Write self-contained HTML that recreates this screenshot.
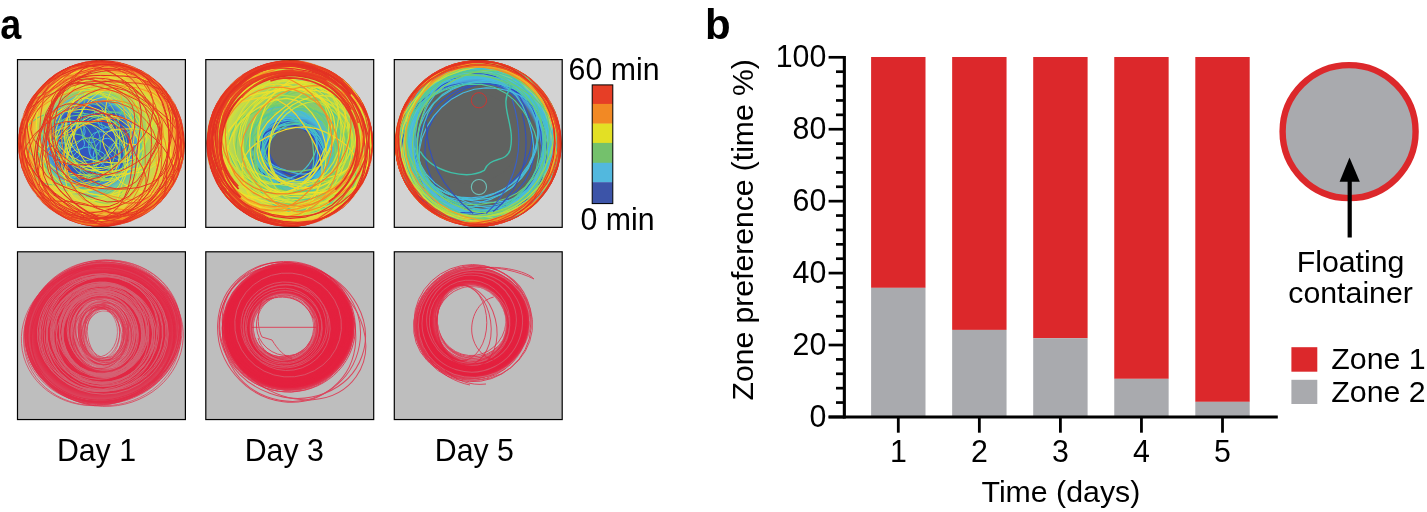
<!DOCTYPE html>
<html lang="en"><head><meta charset="utf-8"><title>Figure</title>
<style>
html,body{margin:0;padding:0;background:#fff;}
body{width:1427px;height:512px;overflow:hidden;}
svg{display:block;will-change:transform;}
svg text{font-family:'Liberation Sans', Arial, Helvetica, sans-serif;fill:#000;}
</style></head><body>
<svg width="1427" height="512" viewBox="0 0 1427 512">
<rect width="1427" height="512" fill="#fff"/>
<text transform="translate(0.3,39) scale(0.9,1)" font-size="42" font-weight="bold">a</text>
<text x="705" y="39" font-size="42" font-weight="bold">b</text>
<rect x="17.5" y="59.6" width="167.9" height="167.75" fill="#D3D3D3"/>
<rect x="17.5" y="251.8" width="167.9" height="167.75" fill="#BEBEBE"/>
<rect x="205.8" y="59.6" width="167.9" height="167.75" fill="#D3D3D3"/>
<rect x="205.8" y="251.8" width="167.9" height="167.75" fill="#BEBEBE"/>
<rect x="394.3" y="59.6" width="167.9" height="167.75" fill="#D3D3D3"/>
<rect x="394.3" y="251.8" width="167.9" height="167.75" fill="#BEBEBE"/>
<clipPath id="hc1"><circle cx="101.45" cy="143.45" r="83.4"/></clipPath>
<g clip-path="url(#hc1)">
<radialGradient id="hg1" gradientUnits="userSpaceOnUse" cx="101.45" cy="143.45" r="83.4"><stop offset="0" stop-color="#88CC70"/><stop offset="0.5" stop-color="#9CD064"/><stop offset="0.66" stop-color="#C4D850"/><stop offset="0.8" stop-color="#E8D03C"/><stop offset="0.9" stop-color="#F0A030"/><stop offset="1" stop-color="#EC6C2A"/></radialGradient>
<circle cx="101.45" cy="143.45" r="83.4" fill="url(#hg1)"/>
<radialGradient id="hg1b" gradientUnits="userSpaceOnUse" cx="90.95" cy="142.95" r="58"><stop offset="0" stop-color="#3254BE"/><stop offset="0.64" stop-color="#3458C0"/><stop offset="0.74" stop-color="#4690D4"/><stop offset="0.84" stop-color="#5CC0C0" stop-opacity="0.85"/><stop offset="1" stop-color="#88CC70" stop-opacity="0"/></radialGradient>
<ellipse cx="90.95" cy="142.95" rx="58" ry="54" fill="url(#hg1b)"/>
<path d="M53.2,160l-0.9,-1.5l-0.5,-1.7l0,-1.7l0.2,-1.7l0.5,-1.6l0.6,-1.5l0.7,-1.4l0.8,-1.3l1,-1.3l1.1,-1.3l1.3,-1.1l1.5,-0.9l1.7,-0.6l1.7,-0.2l1.7 0.3l1.5 0.6l1.3 1l1.1 1.2l0.7 1.4l0.5 1.7l-0.1 1.7l-0.4 1.7l-0.8 1.6l-1 1.3l-1.1 1.2l-1.1 1.1l-1.1 1.1l-1.2 1.1l-1.4 1.1l-1.6 0.8l-1.8 0.5l-1.9 0l-1.6,-0.6z" fill="none" stroke="#46BCDA" stroke-width="1.0" stroke-linejoin="round"/>
<path d="M98.2,138.9l-1.4 0.9l-1.5 1.2l-1.8 1.2l-2.3 0.6l-2.6,-0.5l-2.5,-1.8l-1.8,-2.7l-1,-3.1l-0.1,-3l0.4,-2.5l0.4,-2l-0.1,-1.9l-0.3,-2.1l-0.4,-2.4l0.2,-2.4l0.9,-2l1.6,-1.1l1.8,-0.6l2,-0.3l2.1,-0.1l2.2 0.2l2.3 0.9l2.1 1.8l1.6 2.5l1 2.7l0.6 2.5l0.7 2.3l0.8 2.3l0.5 2.5l0 2.3l-0.8 2l-1.5 1.2l-1.6 0.7z" fill="none" stroke="#41A2E2" stroke-width="1.0" stroke-linejoin="round"/>
<path d="M78.1,157.2l-2 1.1l-2.3 0.6l-2 0.3l-1.8 0.4l-1.7 0.4l-1.7 0.2l-1.9,-0.1l-1.9,-0.5l-1.9,-0.6l-2,-0.7l-2.2,-1l-2.1,-1.3l-1.7,-1.7l-1,-2l-0.2,-2.1l0.4,-1.9l0.6,-1.8l1,-1.6l1.5,-1.3l2,-0.7l2.2,-0.1l2.3 0.5l1.9 0.5l1.7 0.4l1.8 0.2l2 0.2l2 0.6l2.1 0.9l2 1.4l1.8 1.6l1.6 2l0.9 2.2l-0.1 2.1z" fill="none" stroke="#46BFCE" stroke-width="1.0" stroke-linejoin="round"/>
<path d="M99.4,125.6l-0.7,-1.7l-0.4,-1.8l-0.3,-1.8l0.1,-2l0.8,-2l1.5,-1.9l1.7,-1.6l1.5,-1.4l1.4,-1.6l1.4,-1.9l2,-1.9l2.2,-1.2l2.2,-0.3l2 0.6l1.6 0.7l1.7 0.7l1.7 0.7l1.4 1.2l0.6 1.8l-0.4 2.3l-1.1 2.2l-1.3 1.9l-1 1.7l-0.8 1.9l-1.1 1.9l-1.5 1.7l-1.9 1.5l-2 1l-2.1 0.8l-2.2 0.7l-2.2 0.4l-2.1,-0.2l-1.7,-0.9z" fill="none" stroke="#46BCD9" stroke-width="1.0" stroke-linejoin="round"/>
<path d="M123.3,160l-1.4 0.3l-1.5,-0.1l-1.4,-0.3l-1.3,-0.5l-1.4,-0.5l-1.3,-0.6l-1.3,-0.8l-1.4,-0.9l-1.3,-1.3l-1.1,-1.6l-0.8,-1.7l-0.3,-1.8l0.2,-1.7l0.6,-1.5l0.9,-1.1l1,-0.9l1.1,-0.7l1.2,-0.6l1.3,-0.3l1.3,-0.1l1.5 0.2l1.4 0.5l1.4 0.8l1.3 1l1.2 1.3l1 1.4l0.8 1.5l0.7 1.6l0.4 1.7l0.2 1.7l-0.2 1.7l-0.5 1.5l-1 1.1z" fill="none" stroke="#41A5E2" stroke-width="1.0" stroke-linejoin="round"/>
<path d="M48.5,144l0.6,-2.6l1.3,-2.5l1.3,-2.3l0.9,-2.2l1,-2.4l1.6,-2.4l2.5,-2.3l3.2,-1.7l3.4,-1.2l3.4,-0.8l3.3,-0.7l3.5,-0.5l3.3 0l2.9 0.8l2 1.5l1.3 1.9l0.7 2.1l0.4 2.2l-0.2 2.2l-0.8 2.4l-1.4 2.3l-1.8 2.3l-2.1 2.1l-2.4 2.2l-2.8 2l-3.3 1.7l-3.5 0.9l-3.3 0.3l-3.2,-0.1l-3,-0.3l-3,-0.4l-2.9,-0.8l-2.1,-1.5z" fill="none" stroke="#46BDD4" stroke-width="1.0" stroke-linejoin="round"/>
<path d="M83.7,146.9l-1.9 1.6l-2.5 0.8l-2.4 0.5l-2.3 0.7l-2.4 0.9l-2.8 0.6l-3,-0.4l-2.8,-1.7l-1.9,-2.5l-1.3,-2.7l-1,-2.3l-1.2,-2.2l-1.4,-2.2l-1.1,-2.5l-0.2,-2.6l0.7,-2.3l1.5,-1.9l1.8,-1.4l2,-1.3l2.1,-1l2.3,-0.8l2.5,-0.4l2.8 0l2.9 0.4l2.9 1.2l2.4 1.9l1.8 2.4l0.9 2.7l0.3 2.5l0.4 2.3l0.7 2.3l0.8 2.5l0.2 2.6z" fill="none" stroke="#45B6E5" stroke-width="1.0" stroke-linejoin="round"/>
<path d="M72.5,159.4l0,-2l1,-1.9l1.5,-1.7l1.8,-1.6l1.8,-1.6l2.2,-1.6l2.7,-1.3l3.3,-0.6l3.3 0.3l3 0.9l2.6 1.1l2.5 1l2.5 1.1l2.3 1.3l1.5 1.8l0.5 2l-0.4 2.1l-0.7 1.8l-0.5 1.9l-0.8 1.9l-1.2 1.9l-2 1.6l-2.7 1.2l-3 0.7l-3.1 0.5l-3.2 0.3l-3.2,-0.1l-3.1,-0.7l-2.5,-1.4l-1.7,-1.7l-1.3,-1.8l-1.2,-1.7l-1.1,-1.8z" fill="none" stroke="#46C0CC" stroke-width="1.0" stroke-linejoin="round"/>
<path d="M94.1,114.2l-0.9 0.6l-0.8 0.4l-0.9 0.5l-0.9 0.4l-1.1 0.4l-1.3 0l-1.3,-0.4l-1.2,-0.8l-1,-0.9l-0.8,-0.9l-0.9,-0.9l-0.6,-0.9l-0.5,-1l-0.2,-1l0.1,-1l0.2,-0.8l0.3,-0.9l0.3,-0.9l0.5,-0.9l0.8,-0.6l1.1,-0.3l1.3 0l1.3 0.3l1.3 0.4l1.1 0.7l1.1 0.8l0.8 0.9l0.7 0.9l0.5 1l0.6 0.9l0.6 1l0.3 1.1l0 1z" fill="none" stroke="#46B9E6" stroke-width="1.0" stroke-linejoin="round"/>
<path d="M72.3,136.2l-1.5 0.5l-1.6 0.3l-1.5 0.2l-1.5 0.1l-1.5,-0.3l-1.5,-0.7l-1.2,-1l-0.9,-1.2l-0.9,-1.2l-1,-1.2l-1,-1.4l-0.8,-1.7l-0.2,-1.9l0.6,-1.7l1.2,-1.4l1.6,-0.9l1.6,-0.5l1.5,-0.4l1.3,-0.5l1.4,-0.5l1.5,-0.4l1.6 0.1l1.6 0.5l1.4 0.9l1 1.3l0.8 1.4l0.7 1.5l0.5 1.5l0.3 1.6l0.1 1.7l-0.2 1.7l-0.7 1.5l-1.2 1.3z" fill="none" stroke="#3F9DE1" stroke-width="1.0" stroke-linejoin="round"/>
<path d="M95.6,161.6l-2,-1.4l-1.7,-1.7l-1.3,-2.2l-0.7,-2.8l0.1,-3.1l0.5,-3.1l0.7,-2.9l0.6,-2.9l0.8,-3l1.3,-2.9l1.8,-2.6l2.2,-1.8l2.4,-1.2l2.3,-1.1l2.3,-1.1l2.6,-0.9l2.5,-0.1l2.2 1.1l1.6 2l1 2.7l0.6 2.8l0.4 2.9l0 3l-0.7 3.2l-1.4 2.9l-1.7 2.5l-1.6 2.2l-1.5 2.4l-1.6 2.7l-2 2.7l-2.4 2.1l-2.7 0.9l-2.4,-0.2z" fill="none" stroke="#3F9BE1" stroke-width="1.0" stroke-linejoin="round"/>
<path d="M106,179.2l-2.5,-0.3l-2.5,-1.2l-2.2,-1.8l-1.9,-2.5l-1.5,-3l-1.1,-3.2l-0.8,-3.5l-0.3,-3.6l0,-3.7l0.5,-3.7l1,-3.4l1.5,-3.1l1.8,-2.8l2,-2.2l2.3,-1.6l2.5,-1l2.6,-0.3l2.5 0.6l2.3 1.3l2.2 1.8l1.9 2.2l1.7 2.7l1.4 3.1l0.9 3.5l0.3 3.8l-0.2 3.7l-0.8 3.6l-1.2 3.3l-1.4 3l-1.8 2.7l-1.9 2.3l-2.3 1.8l-2.4 1.1z" fill="none" stroke="#46B7E6" stroke-width="1.0" stroke-linejoin="round"/>
<path d="M131.2,148.4l-1.9 3.3l-2.7 2.6l-2.5 2.2l-1.7 2.6l-1.5 3.3l-2.2 3.5l-3.4 2.5l-4.3 0.5l-4.2,-1.4l-3.4,-2.5l-2.8,-2.2l-2.9,-1.8l-3.2,-1.7l-2.9,-2.3l-1.9,-3.1l-0.8,-3.4l-0.2,-3.5l0.1,-3.6l0.4,-3.7l1.5,-3.5l2.8,-2.8l3.9,-1.4l4.1,-0.3l3.7 0.1l3.3,-0.3l3.4,-0.8l3.8,-0.6l4.1 0.4l3.6 1.6l3 2.5l2.4 3.1l1.9 3.3l1 3.7z" fill="none" stroke="#46C0C9" stroke-width="1.0" stroke-linejoin="round"/>
<path d="M65.3,171.7l-0.5,-1.4l0,-1.5l0.5,-1.4l1,-1.2l1,-1l0.9,-1l1.1,-1l1.3,-0.7l1.5,-0.2l1.4 0.2l1.3 0.4l1.3 0.6l1.3 0.5l1.3 0.6l1.1 1.1l0.7 1.3l0.2 1.5l-0.2 1.4l-0.2 1.4l-0.3 1.4l-0.3 1.4l-0.8 1.2l-1.1 1l-1.3 0.7l-1.4 0.4l-1.3 0.3l-1.5 0.2l-1.4,-0.1l-1.4,-0.5l-1.1,-0.9l-0.9,-1.2l-0.7,-1.1l-0.8,-1.2z" fill="none" stroke="#46BBDF" stroke-width="1.0" stroke-linejoin="round"/>
<path d="M54.7,141.5l-1 0l-1,-0.4l-0.8,-0.7l-0.8,-1l-0.8,-1.1l-0.6,-1.2l-0.5,-1.5l-0.1,-1.7l0.1,-1.6l0.4,-1.5l0.5,-1.3l0.5,-1.2l0.7,-1.1l0.7,-0.9l0.8,-0.7l0.8,-0.4l0.9,-0.2l1,-0.2l1 0.1l1 0.4l0.9 0.9l0.7 1.3l0.4 1.5l0.2 1.6l0.1 1.6l-0.1 1.6l-0.1 1.5l-0.4 1.4l-0.6 1.2l-0.6 1l-0.8 0.9l-0.7 0.7l-0.9 0.7z" fill="none" stroke="#3E95E0" stroke-width="1.0" stroke-linejoin="round"/>
<path d="M56.6,150.6l-0.9 0.4l-1 0.1l-1.1,-0.4l-1.1,-0.5l-1.1,-0.7l-1.1,-0.8l-1,-1l-1,-1.3l-0.7,-1.5l-0.4,-1.5l-0.1,-1.5l0,-1.3l0.2,-1.3l0.3,-1.1l0.5,-0.9l0.6,-0.7l0.8,-0.4l0.9,-0.3l0.9,-0.3l1,-0.1l1.1 0.3l1.2 0.6l1.1 1.1l0.9 1.3l0.8 1.4l0.7 1.4l0.5 1.5l0.3 1.4l0 1.4l-0.3 1.2l-0.4 1l-0.4 0.9l-0.6 0.9z" fill="none" stroke="#46BDD5" stroke-width="1.0" stroke-linejoin="round"/>
<path d="M100.1,148.5l-0.8 3.2l-1.6 3l-2.4 2.5l-3.2 1.9l-3.7 1.2l-3.9 0.6l-3.9 0.1l-4.1,-0.1l-4.2,-0.4l-4.4,-0.9l-4.4,-1.6l-3.8,-2.6l-2.8,-3.5l-1.3,-3.9l0,-3.8l0.8,-3.5l1.5,-3.2l1.7,-2.8l2.2,-2.4l2.5,-2.1l2.9,-1.8l3.1,-1.5l3.4,-1.5l3.8,-1.3l4.3,-0.8l4.8 0.1l4.7 1.4l3.9 2.7l2.7 3.5l1.5 3.8l0.7 3.7l0.2 3.4l0 3.3z" fill="none" stroke="#4BC9A2" stroke-width="1.0" stroke-linejoin="round"/>
<path d="M105.1,176.3l-6.8 0.8l-6.8,-0.1l-7,-1.5l-6.8,-3.6l-5.6,-6.3l-3.7,-8.3l-1.7,-8.5l-0.8,-7.4l-1.1,-6.5l-1.8,-6.3l-1.8,-6.8l-0.7,-7.3l0.8,-7.3l1.9,-6.9l2.8,-7l3.9,-6.8l5.3,-5.6l6.9,-2.5l7.6 1.6l7 5.2l5.7 7l4.5 6.9l4 6.2l3.8 6.1l2.9 6.5l1.7 7l0.3 6.9l0 6.7l0.2 6.9l0.2 7.7l-0.8 8.2l-2.9 7.3l-5 5.1z" fill="none" stroke="#96D455" stroke-width="1.0" stroke-linejoin="round"/>
<path d="M74,189.1l-6.3,-1.2l-6,-2.6l-5.5,-4.4l-4.4,-6l-3.2,-7.2l-2.1,-8l-1.1,-8.4l0.3,-8.7l1.5,-8.6l3,-8.1l4,-7.1l4.8,-6.3l5.2,-5.4l5.8,-4.4l6.2,-3.3l6.6,-1.6l6.5 0.2l6.3 1.9l5.8 3.4l5.3 4.5l4.5 5.8l3.5 7l2.1 8l0.5 8.6l-0.7 8.5l-1.6 8.4l-2.4 8.1l-3.2 7.8l-4.4 7l-5.5 5.6l-6.2 3.8l-6.5 2.1l-6.4 0.8z" fill="none" stroke="#7ECF61" stroke-width="1.0" stroke-linejoin="round"/>
<path d="M36.8,178.1l-2,-4.2l-0.4,-4.8l1.2,-5.1l2.4,-4.9l3.2,-4.5l3.7,-4.2l3.9,-4l4.4,-3.7l4.9,-3.4l5.5,-2.8l5.9,-1.9l5.9,-0.5l5.4 0.9l4.4 2.1l3.4 2.9l2.6 3.4l2 3.6l1.8 3.6l1.4 4l0.9 4.4l-0.2 4.9l-1.6 5.2l-3.4 5.1l-4.7 4.3l-5.7 3.2l-5.9 2.1l-5.8 1l-5.4 0.4l-5 0l-5,-0.2l-5,-0.5l-4.9,-1.1l-4.4,-2.1z" fill="none" stroke="#6DCC73" stroke-width="1.0" stroke-linejoin="round"/>
<path d="M118.1,162.6l-4.6 1.1l-4.9,-1.1l-4.7,-3l-4.2,-4.2l-3.6,-4.2l-3.5,-3.8l-3.9,-3.8l-3.7,-4.6l-2.9,-5.6l-1.4,-6.3l0.1,-5.9l0.8,-5.6l1,-5.3l1,-5.6l1.7,-5.6l3.1,-4.4l4.3,-2.1l5.1 0.5l5 2.4l4.5 3.1l4.1 3.1l4 3l3.9 3.5l3.6 4.3l3.1 5.1l2.3 5.7l1.7 6l0.8 6.1l-0.1 6l-1.1 5.6l-1.9 4.9l-2.6 4.3l-3.2 3.7z" fill="none" stroke="#73CC6B" stroke-width="1.0" stroke-linejoin="round"/>
<path d="M113.1,190.2l-6 3.2l-6.5 2l-6.8 0.8l-6.7,-0.5l-6.5,-2l-5.8,-3.4l-4.9,-4.4l-3.9,-5.2l-3.2,-5.4l-2.3,-5.8l-1.6,-6l-0.5,-6.2l0.6,-6.2l1.5,-6.1l2.4,-6l3.3,-5.7l4.5,-5.2l5.7,-3.9l6.7,-2.3l6.9,-0.3l6.8 1.2l6.3 2.4l5.8 3.2l5.1 4l4.2 5l3 5.6l1.9 5.9l1 6l0.6 6.1l0.2 6.2l-0.7 6.5l-2.2 6.4l-3.7 5.6z" fill="none" stroke="#52C999" stroke-width="1.0" stroke-linejoin="round"/>
<path d="M143.6,147.3l-1 5.8l-2.8 5.2l-4.4 4.3l-5.1 3.3l-4.9 3.2l-4.9 3.5l-5.7 3.5l-6.7 2.3l-7.4 0.3l-7,-2l-6.2,-3.4l-5.6,-3.8l-5.4,-4.1l-5.2,-4.7l-3.8,-5.6l-1.4,-6.3l1.3,-6.3l3.3,-5.6l4,-4.7l4.1,-4.2l4.2,-3.8l4.6,-3.5l5.3,-2.9l5.9,-2.4l6.4,-1.8l7.1,-1.3l7.7,-0.2l7.6 1.7l6.4 4l4.5 5.5l2.5 6.3l1.4 6.1l0.9 5.8z" fill="none" stroke="#61CB85" stroke-width="1.0" stroke-linejoin="round"/>
<path d="M38,152.9l0,-7.2l3.1,-6.8l5.1,-5.9l5.7,-5l5.8,-4.7l6.4,-4.3l7.4,-3l8.1,-1l8 0.8l7.4 1.8l7.4 1.6l7.8 1.6l8.2 2.5l7.1 4.5l4.4 6.3l1.5 7.3l-0.6 7.2l-1.3 6.8l-1.7 6.7l-2.9 6.5l-5 5.6l-6.8 4.1l-7.6 2.6l-7.4 1.9l-7.3 2l-7.8 2.1l-8.6 0.8l-8.3,-1.5l-7.1,-4l-5.3,-5.3l-4.4,-5.7l-4.3,-5.5l-4.2,-6z" fill="none" stroke="#64CB81" stroke-width="1.0" stroke-linejoin="round"/>
<path d="M127,145.3l-1.2 6.5l-3 6.2l-4.8 5.5l-6.4 4.6l-7.4 3.6l-8.1 2.6l-8.4 1.7l-8.8 0.9l-8.8,-0.3l-8.6,-1.6l-7.9,-2.9l-6.8,-3.8l-5.9,-4.4l-5.3,-4.8l-4.7,-5.2l-4,-5.8l-2.4,-6.4l-0.2,-6.8l2.2,-6.5l4.7,-6l6.7,-4.8l8.1,-3.4l8.9,-2l9,-0.7l8.7 0.4l8.3 1l8 1.3l8 1.7l8 2.5l7.6 3.5l6.4 4.8l4.6 5.7l2.7 6.3z" fill="none" stroke="#5FCB87" stroke-width="1.0" stroke-linejoin="round"/>
<path d="M53.5,134.9l-0.4,-5.7l-0.2,-5.6l0.4,-6l1.6,-6.3l3.4,-6.1l5.4,-5.4l6.8,-4.3l7.6,-3.1l7.9,-2.2l8.1,-1l7.9 0.4l7.2 2.1l6.1 3.3l5.3 3.7l5.3 3.8l5.5 4.3l4.4 5.2l1.7 6.5l-2.3 6.8l-5.6 6l-6.7 4.5l-5.6 3.8l-4 4.6l-3.7 5.9l-5.2 6.4l-7.5 5.2l-8.9 2.4l-8.8,-0.7l-7.6,-3.1l-6.1,-4.4l-4.8,-4.8l-3.6,-5.2l-2.4,-5.4z" fill="none" stroke="#8DD259" stroke-width="1.0" stroke-linejoin="round"/>
<path d="M98.6,195.7l-6.4 1.5l-6.7,-0.7l-6.6,-2.7l-6.1,-4.4l-5.4,-5.8l-4.6,-6.9l-3.6,-7.6l-2.5,-8.2l-1.2,-8.4l0.1,-8.3l1.4,-7.9l2.5,-7l3.4,-6.3l3.9,-5.5l4.3,-4.9l5,-4.3l5.8,-3.3l6.3,-1.5l6.8 0.6l6.6 2.8l6 4.6l5.3 5.9l4.6 6.8l3.7 7.5l2.7 8.1l1.4 8.5l-0.2 8.3l-1.6 7.9l-2.7 6.9l-3.4 6.2l-3.8 5.5l-4.3 5.1l-5 4.4z" fill="none" stroke="#5CCA8C" stroke-width="1.0" stroke-linejoin="round"/>
<path d="M116.2,200.2l-5.5 2.5l-6.1 0.5l-6,-1l-5.6,-1.7l-5.3,-1.9l-5,-2.6l-4.4,-3.4l-3.7,-4.3l-3.1,-4.6l-3.1,-4.8l-3.2,-5.2l-2.9,-5.9l-1.5,-6.5l0.9,-6.4l3.3,-5.3l4.6,-3.7l5,-2.9l4.9,-2.4l5.1,-2.1l5.6,-0.8l5.8 1l5.3 2.7l4.7 3.7l4.2 3.7l4.2 3.5l4.4 4l3.8 4.8l2.3 5.7l0.7 6l-0.5 5.8l-1 5.8l-1.5 5.7l-2.4 5.6z" fill="none" stroke="#8ED259" stroke-width="1.0" stroke-linejoin="round"/>
<path d="M65.6,142.6l3,-5l3.8,-4.3l3.4,-4l2.9,-4.2l3.4,-4.6l4.7,-4.4l6.5,-3.2l7.5,-1.6l7.9 0.1l7.6 1.1l7.3 2l6.8 2.8l5.7 3.9l4 4.8l1.9 5.4l0.2 5.4l-0.6 5.1l-1 4.9l-1.4 4.8l-2.2 4.7l-3.5 4.5l-4.7 4l-5.7 3.3l-6.6 2.6l-7.4 1.6l-7.7 0.3l-7.5,-1l-7,-2.3l-6.3,-3.1l-5.7,-3.5l-5,-4.2l-3.8,-4.9l-1.6,-5.5z" fill="none" stroke="#59CA8F" stroke-width="1.0" stroke-linejoin="round"/>
<path d="M84.1,177.4l-5.5 1.6l-5.6 0.3l-5.4,-0.7l-5.1,-1.4l-4.7,-2.1l-4.4,-2.7l-4.1,-3.1l-3.7,-3.7l-3.3,-4.3l-2.5,-5l-1.4,-5.4l-0.2,-5.6l1.1,-5.6l2.3,-5.1l3.2,-4.4l4.1,-3.7l4.5,-3l4.9,-2l5.2,-1.3l5.4,-0.4l5.4 0.7l5.2 1.7l4.7 2.9l3.9 3.9l2.9 4.6l2.1 4.8l1.5 5l1.2 5l0.7 5.3l0.1 5.6l-1.1 5.6l-2.5 5.2l-3.9 4.3z" fill="none" stroke="#62CB83" stroke-width="1.0" stroke-linejoin="round"/>
<path d="M141.4,140.5l2.2 8.7l-2 8.5l-6.7 6.9l-9.6 5l-10.1 3.7l-10 3.7l-10.7 3.8l-12.1 2.6l-13,-0.4l-12.1,-4.2l-9.3,-7.1l-6.4,-8l-4.9,-7.5l-4.6,-6.9l-4.9,-6.8l-4.2,-7.4l-2.4,-8l-0.1,-8.2l2.5,-8.2l5.1,-7.6l7.6,-6.4l9.9,-4.7l11.2,-2.8l11.8,-1.3l11.9,-0.2l12.1 0.6l12.1 2.1l11.2 4.4l8.4 6.9l5 8.3l2.4 8.1l2.1 7.4l3.4 7.1z" fill="none" stroke="#BADD43" stroke-width="1.0" stroke-linejoin="round"/>
<path d="M134.2,163.5l-3.9 4.8l-4.8 3.9l-6 2.7l-7.1 0.7l-7.6,-1.3l-7.3,-3l-6.4,-3.8l-5.9,-3.6l-5.9,-3.3l-6.5,-3.4l-6.7,-4.3l-6.1,-5.7l-4.4,-6.7l-2,-7l0.1,-6.9l1.8,-6.1l3,-5.5l4.3,-4.6l5.5,-3.4l6.6,-1.7l7.2 0l7.2 1.3l6.9 2.3l6.5 2.5l6.3 2.8l6.4 3.1l6.6 3.8l6.3 4.9l5.3 5.9l3.8 6.7l1.8 6.9l-0.3 6.7l-1.8 6z" fill="none" stroke="#EFE12A" stroke-width="1.0" stroke-linejoin="round"/>
<path d="M142.8,134.6l-1.7 6.3l-3 5.9l-4.3 5.5l-5.5 5.1l-6.9 4.5l-8.3 3.4l-9.5 2.1l-10.3 0.3l-10.2,-1.5l-9.5,-3.3l-8.2,-4.6l-6.5,-5.5l-4.9,-5.9l-3.6,-6l-2.7,-6l-2.1,-6.1l-1.2,-6.3l-0.1,-6.5l1.6,-6.6l3.6,-6.2l5.9,-5.4l7.9,-4.1l9.2,-2.5l10,-0.8l10 0.6l9.7 2l9 2.9l8.3 3.8l7.3 4.6l6.3 5.2l4.9 5.9l3.3 6.3l1.6 6.5z" fill="none" stroke="#CCE13A" stroke-width="1.0" stroke-linejoin="round"/>
<path d="M141.7,159.4l-1.8 7.6l-2.3 7.9l-3.5 7.9l-5.6 6.9l-7.7 4.7l-8.9 1.8l-9,-0.4l-8.4,-1.5l-8.2,-1.4l-8.6,-1.3l-9.4,-2l-9.5,-3.7l-8.3,-6.3l-5.8,-8.7l-1.9,-10.1l2.3,-10l5.8,-8.5l7.6,-6.2l7.5,-4.3l5.7,-4l4,-5.4l3.8,-7.3l5.5,-8.2l8.1,-6.8l10.1,-3.2l10.4 1.3l9.3 5l7.4 7.1l5.7 7.9l4.3 8.2l2.7 8.4l0.9 8.5l-0.6 8.3z" fill="none" stroke="#E7E12E" stroke-width="1.0" stroke-linejoin="round"/>
<path d="M185.1,152.3l-4.9 8.4l-5.1 7.9l-5.2 8.1l-7 7.7l-10 5.7l-12.4 2.3l-13,-0.7l-12.3,-2l-11.9,-1.8l-12.5,-1.8l-12.7,-3.5l-11,-6.4l-7.4,-8.7l-4,-9.6l-2.5,-9.4l-2.6,-9.2l-2.3,-9.7l0.4,-9.9l5.2,-8.8l9.4,-6.3l11.2,-4l10.9,-3.2l10.2,-3.8l11.1,-3.9l12.6,-2l13.3 1.6l11.9 5.1l9.9 7.1l8.8 7.3l8.7 7.1l8.4 7.9l6 9.2l1.6 9.9z" fill="none" stroke="#D3E137" stroke-width="1.0" stroke-linejoin="round"/>
<path d="M85.3,174.6l-5.8,-5.6l-4.1,-6.9l-3,-7.2l-2.7,-7l-2.6,-7.3l-1.7,-8l0.4,-8.4l2.8,-8.1l4.8,-7.1l5.9,-6l6.5,-5.1l7.1,-4l7.6,-2.6l7.8,-0.7l7.6 1l7.4 1.7l7.4 2l7.7 2.8l7.1 4.6l5 6.9l1.8 8.7l-1.2 8.9l-2.8 8l-2.5 7.3l-1.9 7.3l-2.2 7.8l-3.7 7.6l-5.8 6.3l-7.4 4.1l-7.9 2.3l-8.1 1.2l-8.1 0.2l-8,-1.3z" fill="none" stroke="#BBDE42" stroke-width="1.0" stroke-linejoin="round"/>
<path d="M134.5,199.8l-8.5 3.3l-9 2l-9.7 0.4l-10.1,-2l-9.6,-4.8l-8.5,-7.6l-6.9,-9.1l-5.6,-9.9l-4.9,-10.2l-3.9,-10.9l-2.2,-11.4l0.6,-11.3l3.6,-10.1l5.7,-8.3l6.8,-6.7l7,-5.9l7.6,-5.2l8.4,-3.7l9.4,-1.3l9.6 1.5l9.4 3.8l8.9 5l8.8 5.8l8.8 6.9l7.9 8.8l5.7 10.7l2.7 11.8l-0.4 11.7l-2.6 10.6l-3.8 9.5l-4.8 8.5l-5.8 7.5l-6.8 6z" fill="none" stroke="#E3E130" stroke-width="1.0" stroke-linejoin="round"/>
<path d="M110.2,167.5l-8.5 1.9l-8.6 0.7l-8.6,-0.5l-8.5,-2.4l-7.7,-4.7l-6.4,-6.2l-5.7,-6.7l-6,-6.7l-6.4,-7.5l-5.6,-9l-2.5,-10.4l2.2,-10.1l6.3,-8.1l8.3,-5.3l8,-3.5l6.7,-3.4l6,-4.1l6.5,-4.3l7.6,-3.3l8.5,-1.7l9.1 0.1l9.5 2l9.2 4.5l7.5 7.2l4.5 9.7l0.8 10.5l-1.7 9.8l-2.2 8.5l-1.4 8l-0.8 8.4l-1.6 8.9l-4 8.1l-6.5 6z" fill="none" stroke="#BEDF41" stroke-width="1.0" stroke-linejoin="round"/>
<path d="M64.4,139.1l-0.2,-8l1.4,-7.9l2.9,-7.9l4.7,-7.3l6.5,-6.5l7.8,-5.4l8.9,-4.1l9.3,-3l9.7,-2.1l10.1,-1.2l10.3 0.1l10 2.1l8.6 4.3l6.2 6.5l3.5 7.6l1.7 7.7l1.2 7.3l1.5 7.3l1.4 7.9l-0.3 8.6l-3.5 8.4l-7 7.1l-9.4 4.8l-10.3 2.7l-9.9 1.3l-9.5 1l-9.4 0.9l-9.8 0.2l-9.9,-1.3l-9.1,-3.4l-7.4,-5.4l-5.2,-6.8l-3.3,-7.6z" fill="none" stroke="#E0E131" stroke-width="1.0" stroke-linejoin="round"/>
<path d="M171.3,175.9l-1.3 4.9l-1.9 5.1l-3.7 4.5l-5.7 2.9l-7.2 0.6l-7.6,-1.4l-7.3,-2.4l-6.9,-3l-6.5,-3.5l-5.6,-4.6l-3.9,-5.4l-2,-5.7l-0.8,-5.1l-1.3,-4.8l-2.5,-5l-2.9,-5.9l-1.6,-6.4l1.5,-5.7l4.7,-3.8l6.5,-1.8l6.9,-0.4l6.7,-0.1l6.6 0l7 0.8l7 2.2l6.5 3.7l5.4 4.8l4.4 5.1l3.6 5.2l2.6 5.4l1.5 5.3l0 5.1l-1 4.7z" fill="none" stroke="#F5E028" stroke-width="1.0" stroke-linejoin="round"/>
<path d="M127.8,185.6l-7.6 5.8l-9.2 3.5l-10.2 0.9l-10.6,-2l-10.3,-4.7l-9.4,-6.6l-8.5,-7.4l-8.3,-7.6l-8.3,-8.1l-8.1,-9.6l-6.3,-11.2l-2.9,-12.1l1.3,-11.4l4.8,-9.5l6.9,-7.1l7.6,-5.2l7.5,-4.1l7.3,-3.7l7.5,-3.6l8.2,-3.4l9.5,-2.6l10.9,-0.7l11.8 2.4l11.4 6.3l9.1 10l5.7 12.2l2.2 12.5l0.1 11.3l-0.6 10.1l-0.3 9.5l-0.4 9.7l-1.6 9.6l-3.5 9.1z" fill="none" stroke="#EBE12C" stroke-width="1.0" stroke-linejoin="round"/>
<path d="M47.2,158.8l-1.7,-6.3l-0.4,-6.8l2.2,-6.5l4.7,-5.2l6,-3.7l6.3,-2.8l6.2,-2.3l6.5,-1.9l6.9,-0.5l6.7 1.3l6.2 2.8l5.4 3.7l5 4l4.8 4.5l4 5.3l2.5 6.2l0.6 6.6l-1.1 6.5l-2 6.2l-2.7 6l-3.7 5.5l-5.1 4.4l-6.3 2.8l-6.7 1.1l-6.4 0.6l-6.4 0.8l-6.9 1l-7.5,-0.1l-7.1,-2.6l-5,-5.3l-2.3,-6.8l-0.6,-6.8l-0.6,-6z" fill="none" stroke="#DFE132" stroke-width="1.0" stroke-linejoin="round"/>
<path d="M38.2,137.7l-1.7,-10l0,-10.5l2.4,-10.6l4.8,-10l7.1,-8.9l8.9,-7.6l10.2,-5.9l11.4,-3.9l12,-1.3l11.7 1.5l10.8 4.1l9.3 6.1l7.8 7.1l6.8 7.6l6.4 7.7l6.4 8.3l5.8 9.6l3.6 11.1l-0.1 11.7l-4.6 11l-8.5 8.8l-10.4 6.2l-10.5 4.3l-9.8 3.9l-9.6 4.5l-10.5 4.6l-11.8 3l-12.4,-0.4l-11.3,-4.6l-8.8,-8.1l-6,-9.7l-3.9,-10.1l-3,-9.8zM131.9,145l-4.8,-1.1l-4.4,-2.6l-3.8,-3.3l-3.5,-3.6l-3.2,-4l-2.9,-4.5l-2.2,-5.3l-1.3,-5.7l-0.2,-5.9l0.9,-5.8l1.6,-5.4l2.2,-5l2.7,-4.6l3.1,-4.2l3.6,-3.7l4.3,-2.7l4.7,-1.2l4.9 0.7l4.4 2.4l3.9 3.7l3.2 4.2l2.9 4.2l2.8 4.5l2.5 4.9l1.6 5.7l0.4 6l-0.9 5.8l-1.9 5.3l-2.3 4.9l-2.6 4.6l-3 4.5l-3.6 3.9l-4.3 2.6z" fill="none" stroke="#EFE12B" stroke-width="1.0" stroke-linejoin="round"/>
<path d="M142.4,149.5l-4.5 5.5l-6 4.2l-6.8 2.5l-7.1 1l-7.1 0l-7,-0.6l-7.1,-1l-7.3,-1.9l-7.1,-3.1l-6.4,-4.9l-4.9,-6.3l-2.9,-7.3l-1.3,-7.5l-0.1,-7.4l0.8,-7.2l2,-6.9l3.6,-6.2l5,-5l6.2,-3.4l6.7,-2.1l6.6,-1.5l6.7,-1.2l7.1,-0.8l7.6 0.1l7.8 2l7 4l5.5 5.9l3.9 6.9l2.3 7.3l1.3 7.2l0.4 7.1l-0.4 7.1l-1.5 7zM85.2,199l-4.9,-2.8l-4.2,-4.1l-3.4,-5l-2.5,-5.7l-1.9,-6.1l-1.3,-6.6l-0.4,-7l0.3,-7.4l1.3,-7.6l2.2,-7.6l3.3,-7.4l4.5,-6.6l5.5,-5.1l6,-3.3l6.2,-1.1l5.9 0.6l5.4 1.9l4.8 2.8l4.3 3.7l3.6 4.8l2.6 5.7l1.6 6.4l0.9 6.7l0.4 6.9l-0.1 7.3l-0.7 7.7l-2 7.9l-3.4 7.5l-4.8 6.3l-5.7 4.6l-6.1 2.8l-6.1 1.3l-5.8 0z" fill="none" stroke="#E5E12F" stroke-width="1.0" stroke-linejoin="round"/>
<path d="M30.1,169.8l-2.8,-9.1l-2,-9.1l-1,-9.5l0.8,-9.7l3.3,-9.4l5.3,-8.7l6.7,-7.8l7.6,-7l8.6,-6.3l9.8,-4.5l10.6,-1.9l10.3 1.1l9.5 3.4l8.4 4.4l8.1 4.7l7.8 5.4l6.9 6.9l4.6 8.5l1.8 9.7l-0.7 9.9l-2.1 9.6l-3 9.5l-4.3 9.3l-6.2 8.4l-8.4 6.6l-9.7 4.2l-10 2.3l-9.9 1.4l-9.9 1.1l-10.4 0.1l-10.1,-2.1l-8.8,-5.1l-6.5,-7.5z" fill="none" stroke="#EAE12D" stroke-width="1.0" stroke-linejoin="round"/>
<path d="M64.9,178.1l-2.7,-5.3l-0.3,-6.3l1.1,-6.5l1.4,-6.2l1.4,-6.3l2,-6.8l3.7,-6.8l5.8,-5.9l7.2,-4.2l7.5,-2.7l7.2,-1.9l7.1,-1.7l7.2,-1.1l7 0.4l5.8 2.5l4.2 4.2l2.9 5l2.3 5l2.2 5.3l1.3 5.8l-0.3 6.5l-2.5 6.7l-4.2 6.3l-5 5.9l-5.4 5.6l-6 5.3l-6.9 4.4l-7.5 2.7l-7.4 0.5l-6.7,-1l-6,-1.6l-5.9,-1.8l-5.8,-2.3z" fill="none" stroke="#F5D527" stroke-width="1.0" stroke-linejoin="round"/>
<path d="M138.3,139.8l-1.8 7l-2.1 6.9l-2.1 7.3l-3.3 7.6l-5.7 6.8l-8.5 4.3l-9.9 1.1l-9.7,-1.3l-8.8,-1.8l-8.4,-1.5l-8.8,-1.3l-8.9,-2.6l-7.7,-4.7l-5.2,-6.6l-2.7,-7.6l-0.8,-7.6l0.1,-7.4l1.2,-7.2l2.6,-6.8l4.3,-6.2l5.2,-5.6l5.9,-5.4l6.4,-5.5l7.9,-5.1l9.4,-3.2l10.1 0l9.4 3.4l7.6 5.5l6.1 5.9l5.7 5.5l5.5 5.5l4.7 6.2l2.5 7z" fill="none" stroke="#C8E13C" stroke-width="1.0" stroke-linejoin="round"/>
<path d="M60.9,169.6l-5.4,-5.6l-2.8,-7.6l0.2,-8.9l2.7,-9.2l4.3,-8.8l5,-8.3l5.2,-8l5.6,-8l6.8,-8l8.3,-7.1l9.4,-5.1l9.6,-2.3l8.8 0.3l7.7 2.1l6.9 2.6l6.7 2.8l6.5 3.5l5.7 4.8l3.7 6.7l0.9 8.2l-1.6 9l-3.4 9l-4.4 8.7l-5.2 8.6l-6.4 8.2l-7.8 7.4l-9 5.5l-9.3 3.3l-9 1.4l-8.3 0.3l-8,-0.2l-8.1,-0.5l-8,-1.5z" fill="none" stroke="#CBE13B" stroke-width="1.0" stroke-linejoin="round"/>
<path d="M102.5,206.3l-9.5,-0.9l-10.1,-2.4l-9.3,-5.5l-6.5,-9.3l-2.5,-12.1l1.2,-12.7l3.3,-11.7l3.5,-10.6l2.8,-10.4l3.1,-10.8l4.5,-11l7,-9.5l9.1,-6.8l10,-3.6l10,-1.3l9.9 0l9.7 1.1l9.5 2.9l8.6 5.4l6.6 8.2l4.2 10.2l2.1 11.1l0.7 10.9l0 10.9l-0.4 11.1l-1.6 11.7l-3.5 11.7l-6 10.8l-8.4 8.4l-9.9 5.2l-10.3 1.8l-9.8,-0.5l-9,-1.3z" fill="none" stroke="#F1E12A" stroke-width="1.0" stroke-linejoin="round"/>
<path d="M115.2,146.4l-2.5 3.7l-3.1 3.3l-2.9 3.4l-3.3 3.7l-4.5 3.5l-6 2.2l-7.2 0.3l-7.4,-1.4l-7,-2.5l-6.6,-3l-6.1,-3.5l-5,-4.4l-3,-5l-0.8,-5.2l0.7,-4.6l0.8,-4.2l0,-4.1l-0.2,-4.6l1,-4.6l3.1,-3.9l5,-2.6l6,-1.4l6.2,-1l6.5,-0.9l7.2,-0.3l7.6 1.2l6.9 3.1l5.3 4.6l3.6 5.2l2.5 4.9l2.1 4.7l1.7 4.5l0.6 4.6z" fill="none" stroke="#D1E138" stroke-width="1.0" stroke-linejoin="round"/>
<path d="M98.2,221.3l-9,-3.3l-7.9,-5.4l-7.2,-4.4l-7.5,-2.7l-8.4,-3.1l-8.1,-6.1l-5.9,-9.5l-2.9,-11.3l-0.9,-11.3l-0.2,-10.6l-0.2,-10.6l0.9,-10.5l3.2,-9.2l5.7,-6.7l6.7,-4.3l6.6,-3.7l6.5,-4.4l7.1,-4.5l8.4,-1.9l8.7 2.7l7.7 7.3l5.9 9.4l5.1 9.1l5.3 8.6l5.4 9.1l3.9 10.5l0.8 11l-2.3 10.1l-3.5 8.7l-3 8.6l-2.6 9.6l-3.7 9.8l-6.2 7.1z" fill="none" stroke="#F5DD28" stroke-width="1.0" stroke-linejoin="round"/>
<path d="M156.3,164.1l-8 5.3l-9 3l-9.3 1.3l-9.1 0.4l-9.2,-0.1l-9.5,-1.4l-8.9,-3.7l-7.5,-6.2l-5.4,-8.1l-3.6,-8.7l-2.8,-8.7l-2.6,-8.9l-1.7,-9.5l0.5,-9.8l3.5,-9.2l6.2,-7.6l7.7,-5.8l8.2,-4.3l8.4,-3.7l8.6,-2.8l9.2,-1.5l9.3 0.6l9.1 2.7l8.4 4.4l7.6 5.6l6.8 6.9l5.2 8.1l3.1 9.1l0.9 9.5l-0.9 9.4l-1.9 9l-2.9 8.9l-4.3 8.5z" fill="none" stroke="#EEE12B" stroke-width="1.0" stroke-linejoin="round"/>
<path d="M57.3,209.2l-5.7,-7.1l-4.7,-8l-3.4,-9.1l-1.4,-10.1l1.3,-10.7l4.1,-10.5l6.7,-9.4l8.4,-7.7l9.4,-6l9.6,-4.4l9.6,-3.5l9.7,-2.8l9.9,-1.7l10.1,-0.1l9.7 2.2l8.4 4.6l6.7 6.7l4.9 8.1l3.4 8.8l2 9.4l0.7 9.9l-1.2 10.3l-3.6 10.2l-5.8 9.5l-7.7 8.2l-8.8 6.8l-9.5 5.3l-9.9 4.1l-10.1 2.5l-10.1 0.7l-9.7,-1.5l-8.8,-3.5l-7.6,-5z" fill="none" stroke="#F5B125" stroke-width="1.0" stroke-linejoin="round"/>
<path d="M179.8,174.9l-4.6 8.4l-6.8 7.1l-9.1 5.2l-10.6 3.1l-11.7 1.1l-12,-0.8l-12.1,-2.5l-11.9,-4l-11.1,-5.7l-10,-7.1l-8.5,-8.2l-7.3,-8.8l-6,-9.3l-4.8,-9.8l-2.9,-10.2l-0.3,-10.1l2.8,-9.3l5.7,-7.9l7.8,-6.3l9.3,-4.7l10.2,-3.2l11.2,-1.7l11.9 0.1l12.2 2.3l11.8 4.2l11.1 5.9l10 7.1l9 8l7.6 8.8l5.9 9.5l4 9.9l1.8 9.9l-0.2 9.8z" fill="none" stroke="#F59823" stroke-width="1.0" stroke-linejoin="round"/>
<path d="M159.5,196.4l-6.4 7l-8.8 4.2l-9.8 1.7l-10.1 0.1l-10.1,-0.6l-10.6,-1.2l-10.8,-3l-10.3,-5.8l-8.1,-8.7l-5.3,-10.3l-2.8,-10.4l-1.7,-9.8l-1.6,-9.4l-1.5,-9.7l0,-9.9l2.6,-9.3l5.4,-7.7l7.6,-5.6l8.8,-3.7l9.2,-2.5l9.7,-1.4l10.2 0l10.6 1.9l10.5 4l9.8 6.2l8.4 8.1l6.4 9.5l4.1 10.2l1.8 10.1l0.2 9.7l-0.6 9.2l-1 9.2l-1.9 9.2z" fill="none" stroke="#F38723" stroke-width="1.0" stroke-linejoin="round"/>
<path d="M10.4,154.1l2.1,-12.4l5.7,-11.7l8.2,-10.6l10,-9.4l11.7,-8l13.1,-6.5l14.2,-4.9l15,-3.3l15.8,-1.7l16.2 0.1l16.2 2.5l15 5.3l12.6 8.2l9 10.5l5 11.7l1.7 11.9l-0.7 11.5l-2 11.1l-2.8 10.9l-3.8 11.3l-5.7 11.5l-8.9 11.1l-12.7 9.1l-15.9 5.7l-17.3 1.4l-16.8,-2.5l-14.9,-5.1l-13.1,-5.9l-12.4,-5.8l-12.5,-6l-12.2,-7.2l-10.5,-9.1l-7,-11.3z" fill="none" stroke="#F59323" stroke-width="1.0" stroke-linejoin="round"/>
<path d="M40.2,168.8l-3.9,-8.9l-2.2,-9.2l-1,-9l-0.6,-8.9l-0.3,-9l1,-9.5l3.3,-9.3l6.1,-7.8l8.1,-5.7l8.8,-4l8.7,-3.6l9,-4.1l10.1,-3.7l11,-1.2l10.4 3.1l7.8 7.4l4.3 9.9l2.1 10l1.8 8.7l2.8 8.1l3 8.6l1.3 9.5l-1.8 9.6l-5 8.6l-7 7l-7.7 5.7l-7.8 5.4l-8.5 5l-9.3 4l-10.3 1.9l-10.3,-0.9l-9.6,-3.7l-8.1,-6.1z" fill="none" stroke="#F5B025" stroke-width="1.0" stroke-linejoin="round"/>
<path d="M131.8,201.3l-9.3 10l-12.3 6.2l-13.7 1.1l-13.3,-3.8l-11.6,-6.9l-9.8,-8l-9,-7.8l-8.8,-7.9l-8.6,-8.7l-7.2,-10.5l-4.5,-12.1l-0.9,-13l2.4,-12.6l5,-11.7l6.4,-10.7l7.7,-9.8l9.2,-8.5l10.8,-6.5l12.2,-3.4l12.6,-0.1l12.1 2.5l11.4 3.8l11.2 4.2l11.6 5l11.4 6.8l9.6 9.7l5.9 12.5l0.8 13.6l-3.5 13l-5.8 11.3l-5.9 10l-5 9.9l-4.8 11z" fill="none" stroke="#F28223" stroke-width="1.0" stroke-linejoin="round"/>
<path d="M68.7,214.2l-10.9,-7.3l-8.1,-10.1l-5.8,-10.5l-4.9,-9.7l-5,-9.1l-4.9,-9.6l-3.5,-10.7l-1.2,-11.6l1.2,-11.8l3.2,-11.9l5,-11.9l7.5,-10.9l10.3,-8.6l12.5,-4.5l13.2,-0.3l12.5 2.8l11.4 4.1l10.7 4.5l10.3 5.3l9.1 7.4l6.6 9.6l3.8 11l1.7 11.2l1 10.9l0.9 11.2l-0.1 11.9l-2.6 12l-5.7 11.2l-8.5 9.3l-10.3 7.4l-11.3 6l-12.3 4.3l-13.1 1.3z" fill="none" stroke="#F27A23" stroke-width="1.0" stroke-linejoin="round"/>
<path d="M90.4,211.4l-11.2,-0.5l-11.6,-2.7l-10.8,-6.4l-9,-9.9l-6.6,-12.8l-3.8,-14.8l-0.4,-16l3.5,-15.8l7.3,-13.9l9.2,-11.3l9.1,-9.3l8,-9.5l7.7,-11.3l9.2,-12.1l11.7,-10.1l13.3,-4.5l13.1 2.3l11.1 8l8.5 11l6.6 11.8l5.3 12l4 12.4l2.6 12.9l1.5 13.4l0.8 14.1l-0.2 15.3l-2.4 16.3l-6.1 15.6l-10.3 12.2l-13 6.5l-13.4 1.2l-12.2,-1.7l-10.8,-1.8z" fill="none" stroke="#F59E24" stroke-width="1.0" stroke-linejoin="round"/>
<path d="M45.1,196.6l-5.6,-11.5l-1.3,-13.2l1.8,-12.9l2.3,-12.2l1.8,-12.2l1.9,-13.1l4.4,-13.8l8.6,-12.5l12.5,-8.9l14.5,-4.3l14.1,-0.8l13.1 0.7l12.4 0.6l12.7 0.7l12.9 2.2l12.1 5.1l9.7 8.5l6.4 11.3l2.9 12.7l-0.1 13.2l-2.5 13l-4.2 12.4l-5.5 12l-6.8 11.7l-8.4 11.1l-10.5 9.8l-12.5 7.4l-13.7 4.1l-13.7 0.8l-13.1,-1.4l-12.6,-2.5l-12.4,-3.7l-11.7,-5.6z" fill="none" stroke="#E83F23" stroke-width="1.0" stroke-linejoin="round"/>
<path d="M37.1,144l-4.5,-6.7l-1.9,-8l1.3,-8.5l4,-8.2l5.5,-7.5l6.3,-6.8l7.1,-6.2l8.2,-5.1l9.2,-3.1l9.3,-0.6l8.7 1.3l7.7 2.1l7.4 2l7.7 2.1l7.6 2.9l6.5 4.7l4.5 6.3l2.4 7.4l0.8 7.9l-0.4 8.1l-2 8.4l-4.2 8.2l-6.5 7.2l-8.4 5.4l-9.2 3.6l-9 2.3l-8.9 1.4l-8.7 0.5l-8.3,-0.8l-7.7,-2.4l-6.7,-3.6l-6.1,-4.2l-5.9,-4.6z" fill="none" stroke="#E94023" stroke-width="1.0" stroke-linejoin="round"/>
<path d="M29.4,180.1l-2.3,-10.7l0.1,-11.1l2.4,-11l4.9,-10.5l7,-9.4l9,-8l10.1,-6.4l10.8,-4.9l11.4,-3.7l11.8,-2.4l12.1,-0.5l11.9 1.6l11.1 4.2l9.5 6.3l7.8 8l5.9 9.1l4 10l2 10.5l-0.2 10.8l-2.3 10.7l-4.4 10.4l-6.2 9.7l-7.9 8.9l-9.7 7.5l-11.1 5.5l-12 3.2l-12.1 0.8l-11.8,-1.2l-11.2,-2.7l-10.6,-4l-9.8,-5.4l-8.7,-6.9l-6.9,-8.6z" fill="none" stroke="#EC5223" stroke-width="1.0" stroke-linejoin="round"/>
<path d="M91.4,206.1l-8.4,-1.5l-8.5,-1.5l-9,-2.6l-9,-5l-7.8,-8.5l-5,-11.7l-1.7,-13.5l1.1,-13.4l2.5,-12.2l2.5,-11.6l2.4,-11.7l3.6,-11.6l5.7,-10.1l8,-6.5l9.2,-2.2l8.8 0.5l8.1 0.5l8.3,-1.1l9.5,-1.8l10.5 0.5l9.7 5.5l6.7 10.8l2.7 13.9l-0.7 14.2l-1.9 12.8l-1.5 11.5l-0.9 11.5l-1.4 12.2l-3.1 12l-5.8 10.4l-7.9 7.1l-9 3.5l-9.1 0.5zM28.7,180.7l-6.8,-13l-2.8,-14.5l1,-14.9l3.6,-14.5l5.5,-14l7.1,-13.5l9.6,-12.5l12.1,-10.5l14.3,-7.5l15.6,-4.1l15.7,-1.1l15.4 1.6l14.6 4.2l13.1 6.8l11.3 9.1l9.1 10.9l7 12.1l5.1 12.9l3.4 13.6l1.1 14.3l-1.6 14.6l-4.4 14.5l-7.2 13.8l-9.6 12.8l-12.2 11l-14.4 8.2l-16.1 4.1l-16.2,-0.4l-15,-4.3l-13.2,-6.4l-12.1,-7.1l-11.7,-7.3l-11.4,-8.4z" fill="none" stroke="#E12E23" stroke-width="1.0" stroke-linejoin="round"/>
<path d="M138.2,196.3l-11.3 6l-11.9 5.2l-13 4l-14 1.7l-14.5,-2l-13.4,-6.4l-10.9,-10.2l-7.9,-12.5l-5.1,-13.2l-3.5,-12.9l-2.9,-12.8l-2.3,-13l-0.6,-13.6l2.1,-13.7l5.8,-12.6l9.1,-10.3l11.4,-7.4l12.4,-4.9l12.8,-3.1l13,-2l13.4,-0.5l13.8 1.8l13.4 5.1l11.7 8.5l9.3 11.2l6.5 12.7l4.3 13.2l2.7 13.4l1.1 13.5l-1 13.6l-3.8 12.9l-6.8 11.5l-9.3 9.4z" fill="none" stroke="#E33123" stroke-width="1.0" stroke-linejoin="round"/>
<path d="M167.9,153.4l-0.8 12.3l-0.6 13.7l-2.1 15.3l-6.2 15.1l-11.3 11.9l-15.3 6l-16.6,-0.6l-15.3,-5.3l-13.1,-7.2l-11.3,-7.3l-10.4,-6.9l-10.1,-7.4l-9.5,-8.4l-9.1,-9.8l-8.1,-11.5l-6.2,-13.4l-2.5,-15l3,-14.8l8.5,-12.6l12,-9.1l12.8,-6.4l11.6,-5.8l11,-7l11.9,-7.6l14.1,-5.7l15.4,-1.2l14.8 4.6l12.4 9.1l9.3 11.7l6.6 12.8l4.2 12.9l1.9 12.9l0 12.6z" fill="none" stroke="#E33323" stroke-width="1.0" stroke-linejoin="round"/>
<path d="M163.5,206.4l-8 7.3l-9.4 5l-10.2 2.7l-10.4 0.7l-10.1,-0.8l-9.8,-1.8l-9.5,-3l-9.1,-4.3l-8.4,-5.8l-7.2,-7.2l-6,-8.3l-4.8,-9.2l-3.6,-10l-1.8,-10.5l0.3,-10.8l3,-10.4l5.6,-9.2l7.7,-7.5l9.3,-5.4l10.1,-3.3l10.6,-1.1l10.4 1.1l9.9 2.9l9.1 4.3l8.3 5.1l7.9 5.7l7.7 6.3l7.2 7.5l6.1 8.9l4.1 10.1l1.6 10.9l-1.1 10.9l-3.6 10.2z" fill="none" stroke="#E23023" stroke-width="1.0" stroke-linejoin="round"/>
<path d="M142.5,193.3l-5.4 6.1l-6.2 5.4l-6.7 5.2l-7.8 4.4l-9.4 2.1l-10.2,-1l-9.8,-3.8l-8.8,-5.4l-7.7,-5.9l-7.1,-6.2l-6,-6.8l-4.3,-7.6l-2.4,-7.9l-1.4,-7.7l-1.3,-7.8l-1.6,-8.6l-0.2,-9.1l3,-8.5l6.9,-5.9l9.3,-2.6l9.9,-0.2l9.3 0.1l9.1,-0.3l9.7 0.2l9.9 2.5l8.7 5.7l6.1 8l3.8 8.4l3.1 7.7l3.8 7.3l4.3 7.7l2.9 8.5l-0.1 8.5z" fill="none" stroke="#E83E23" stroke-width="1.0" stroke-linejoin="round"/>
<path d="M160.8,208l-8.1 8.4l-10 7l-12.2 4.4l-14.1 0.6l-15,-3.3l-14.8,-6.6l-14,-8.9l-13,-10.4l-12.2,-11.5l-11.2,-12.8l-9.2,-14.3l-6,-15.1l-1.8,-14.9l2.2,-13.4l5.3,-11.3l6.8,-9.6l7.3,-8.6l7.9,-8.2l9.4,-7.5l11.5,-5.4l13.8,-1.8l15.2 2.5l15.2 6.6l14.2 9.4l12.9 11l11.7 12.1l10.5 13.1l8.5 14.2l5.7 14.9l2 14.6l-1.6 13.4l-4.2 11.7l-5.8 10.3z" fill="none" stroke="#E22F23" stroke-width="1.0" stroke-linejoin="round"/>
<path d="M62.5,201.4l-13.6,-0.8l-13.3,-4.9l-10.3,-9.6l-6.2,-12.7l-3,-13.6l-1.4,-13.7l0.2,-13.8l3.3,-13.5l7.4,-11.7l10.6,-8.6l11.3,-6.3l10.6,-5.9l10.3,-7.1l11.6,-7.1l13.5,-3.9l13.8 1.8l12 7.2l9.3 10.1l7.8 9.9l8 9.3l8.1 9.9l6.4 11.6l2.7 13.1l-0.9 13.4l-3.1 13l-4.1 13.1l-5.8 13.1l-9.1 11.3l-12.8 6.9l-14.8 0.6l-13.9,-4l-11.7,-4.7l-10.9,-2.3z" fill="none" stroke="#EB4523" stroke-width="1.0" stroke-linejoin="round"/>
<path d="M93.3,220.4l-9.4,-0.3l-9.1,-2.4l-8.5,-4.3l-7.6,-5.8l-6.8,-7.1l-5.7,-8.1l-4.6,-8.9l-3.2,-9.7l-1.7,-10.2l-0.1,-10.4l1.2,-10.2l2.5,-10.1l3.8,-9.7l5.6,-8.8l7.5,-6.7l9,-3.6l9.5,-0.4l9.2 2l8.5 3.2l8.2 3.5l8.2 4l8 5.3l6.9 7.4l4.9 9.5l2.5 10.4l0.5 10.6l-0.9 10.3l-1.6 9.9l-2.6 9.8l-3.8 9.4l-5.6 8.4l-7.2 6.6l-8.5 4.4zM175.2,145.2l-2.4 11.2l-4.6 10.9l-7.5 9.3l-9.9 6.8l-11.4 3.9l-11.7 1.6l-11.5 0.3l-11.4,-0.4l-11.7,-1.2l-11.9,-3.1l-11.2,-5.6l-9.4,-8.4l-6.6,-10.6l-3.8,-11.7l-1.4,-11.9l0.4,-11.8l1.9,-11.5l3.7,-11l6,-10.1l8.3,-8.3l10.1,-6.1l10.9,-3.8l11.1,-2.2l11.1,-1.5l11.6,-0.9l12.2 0.3l12.5 2.7l11.5 6l8.9 9.3l5.6 11.4l2.3 12.2l0.3 11.8l-0.8 11.3zM99.2,218l-10.5,-5.6l-9.5,-6.3l-9.2,-6.5l-8.7,-7.6l-7.5,-9.3l-5.2,-11.2l-2.6,-12.3l-0.4,-12.7l1.4,-12.8l3.1,-12.7l5.4,-12.2l8,-10.7l10.4,-8l11.9,-4.9l12.3,-1.7l11.9 1l11.2 3.2l10.1 4.8l9.2 5.7l8.9 6.1l9.2 6.6l9.4 8l8.3 10.3l4.9 12.8l0.1 13.9l-4.7 13.1l-7.6 11.1l-8.3 9.5l-8 8.9l-8.3 9l-9.7 8l-11.5 5l-12.3 0.7z" fill="none" stroke="#E43323" stroke-width="1.0" stroke-linejoin="round"/>
<path d="M136.5,187.6l-7.5 8.7l-10.3 5.1l-11.6 0.5l-11.2,-2.9l-10.1,-4.1l-9.7,-3.8l-10.1,-3.5l-10.4,-4.8l-9.3,-7.4l-6.4,-10l-2.5,-11.6l0.9,-11.5l2.9,-10.5l3.4,-9.7l3.5,-9.6l3.9,-9.8l5.6,-9.5l8,-8.1l10.2,-5.1l11.5,-1.1l11.3 2.4l10.2 4.6l9.3 5l9.2 4.6l9.9 4.7l10.1 6.3l8.1 9.1l4.2 11.3l-0.7 12l-4.2 10.8l-5.3 9.4l-4.4 8.9l-3.8 9.5zM66.9,166.3l-4.3,-7l-3.7,-7l-3,-7.5l-1.8,-8.4l-0.1,-9.2l1.3,-9.6l2.4,-10.1l3.5,-10.5l5.1,-10.8l7.5,-9.9l9.4,-7.5l10.5,-4l9.9,-0.4l8.8 1.8l7.7 2.6l7.2 2.7l7 3l6.6 4.2l5.6 5.7l4.2 7.5l2.4 8.9l0.1 10.1l-2.3 10.5l-4.7 10.2l-6.4 9.2l-7.2 8.2l-7.4 7.6l-7.8 7.6l-8.6 7.4l-9.8 5.7l-10.1 2.4l-9.2,-1.7l-7.4,-5z" fill="none" stroke="#E43523" stroke-width="1.0" stroke-linejoin="round"/>
<path d="M148.4,204.4l-11.3 7l-13.1 3l-13.7,-1.3l-13.1,-5.1l-11.6,-8.2l-9.7,-9.9l-8.1,-10.7l-7,-10.9l-6.3,-11.3l-5,-12.1l-2.6,-12.8l0.7,-12.9l4.1,-11.6l6.3,-10l7.1,-8.8l7.3,-8.6l7.9,-8.8l9.7,-8l11.7,-5.5l13.3,-1.5l13.5 2.8l12.7 6.5l11.2 9.1l9.2 11.1l6.8 12.4l3.7 13.3l0.8 13.1l-1.3 12.2l-2.2 11.1l-2 10.9l-2 11.4l-3.1 12.1l-5.5 11.9z" fill="none" stroke="#E63B23" stroke-width="1.0" stroke-linejoin="round"/>
<path d="M143.2,172.6l-6.6 8.7l-9.3 6l-11.1 1.5l-11.2,-2.3l-10.1,-4.1l-9.6,-4l-9.6,-4.1l-9.3,-5.5l-7.5,-8l-4.5,-9.9l-1.9,-10.4l-0.8,-10.1l-1,-10l-0.5,-10.5l1.8,-10.6l5.2,-9.2l8.1,-6.7l9.3,-4.5l9.3,-3.8l9.6,-3.8l10.4,-2.9l11.2 0.3l10.4 4.6l8.4 7.9l6.5 8.9l5.8 8.4l6.3 8.1l5.8 9l3.4 10.3l-0.4 10.6l-3.7 9.7l-4.9 8.6l-4.7 8.6z" fill="none" stroke="#E63A23" stroke-width="1.0" stroke-linejoin="round"/>
<path d="M153.5,148l-6.1 6.9l-7.2 5.4l-7.4 4.5l-7.7 4.2l-8.4 3.6l-9.3 2l-10,-0.2l-9.9,-2.8l-9.1,-4.5l-8.4,-5.4l-8,-6.1l-7.6,-6.9l-6.3,-8.3l-3.8,-9.3l-0.5,-9.7l2.5,-9l4.4,-7.9l5.5,-6.9l6.1,-6.2l6.8,-5.3l8,-4.2l8.8,-2.7l9.5,-1.1l9.8 0.5l9.9 1.9l9.5 3.6l8.9 5.1l7.9 6.5l6.5 7.7l5.3 8.4l3.6 9.1l1.7 9.5l-1.1 9.3z" fill="none" stroke="#E73B23" stroke-width="1.0" stroke-linejoin="round"/>
<path d="M125.8,203.2l-12.8,-4.1l-11.1,-5.7l-9.9,-4.6l-10.1,-3.1l-10.9,-3.2l-11.2,-5.8l-9.5,-9.4l-6.5,-12.5l-3.2,-13.6l-0.7,-13.7l0.9,-13.1l2,-12.6l3.6,-12.2l5.4,-11.2l7.5,-9.5l9.3,-7.4l10.6,-4.8l11.5,-2.1l11.8 0.9l11.5 3.7l10.7 6.2l9.7 8.1l8.4 9.4l7.1 10.6l5.4 11.7l3.5 12.4l1.9 12.5l0.9 12.7l0.3 13.3l-0.9 14.2l-3.5 14l-7.4 11.7l-11.2 6.6z" fill="none" stroke="#ED5323" stroke-width="1.0" stroke-linejoin="round"/>
<path d="M63.8,213.4l-10.1,-4.3l-10.2,-5.6l-9.6,-7.8l-7.7,-10.3l-4.3,-12.6l-0.1,-13.7l4.4,-13.1l7.7,-11.2l9.3,-8.8l9.3,-6.9l8.8,-6.2l8.4,-6.4l8.9,-6.8l10.3,-6.3l11.9,-4.5l12.8,-1.2l12.5 2.8l10.8 6.9l8 10.1l4.7 12.1l1.8 12.6l0 12.2l-0.7 11.5l-1.1 11.3l-1.7 11.7l-3.3 11.9l-5.9 11.4l-8.7 9.5l-10.8 6.5l-11.9 3.1l-11.8 0.2l-11.1,-1.7l-10.4,-2.9z" fill="none" stroke="#E73D23" stroke-width="1.0" stroke-linejoin="round"/>
<path d="M95.2,217.2l-11.4,-4l-10.6,-5.6l-10.4,-6.2l-10.4,-7.4l-9.3,-9.7l-6.6,-12.4l-2.3,-14.4l1.8,-14.4l4.3,-13.4l5.3,-12.2l5.6,-11.7l6.7,-11.2l8.7,-9.5l10.8,-6.5l11.8,-2.8l11.6,-0.4l11.4 0.3l11.7 0.4l12.4 1.5l12.4 4.4l10.8 8.5l7.4 12.2l3.6 14.1l0.5 14.5l-1.7 13.9l-3.1 13l-4.5 12.3l-5.7 11.4l-7 10.6l-8.3 9.6l-9.8 8.2l-11.3 5.8l-12.2 2.4z" fill="none" stroke="#E12D23" stroke-width="1.0" stroke-linejoin="round"/>
<path d="M55.6,216.1l-11.6,-9.5l-9.6,-11.5l-7.5,-12.9l-5.4,-14l-2.8,-14.9l0,-15.3l3,-15l5.8,-14.2l8.1,-13.1l10,-11.5l11.8,-9.9l13.2,-7.7l14.4,-5.1l15.1,-2.3l15.2 0.4l14.9 3.3l14 6.2l12.2 9.3l9.5 11.9l6.4 13.8l3.6 14.6l1.6 14.7l0.1 14.7l-1.4 15l-3.9 14.9l-7 14l-10.2 12l-12.5 9.4l-14 6.7l-14.6 4.4l-15 2.2l-15.1,-0.4l-14.8,-3.5z" fill="none" stroke="#E83F23" stroke-width="1.0" stroke-linejoin="round"/>
<path d="M56,210.6l-9.8,-9.7l-8.7,-10.7l-7.4,-11.8l-5.5,-13.2l-2.5,-14.4l1.2,-14.7l4.6,-14l7.2,-12.7l8.9,-11.3l10.3,-9.9l11.6,-8.3l12.9,-6l13.8,-3.5l14.1,-0.9l14 1.7l13.5 4.1l12.6 6.5l11 9l8.7 11.4l6.1 12.9l3.5 13.9l1.2 14.2l-1 14.2l-3.4 14l-6.1 13.1l-8.5 11.7l-10.5 9.8l-11.8 8.1l-12.9 6.3l-13.7 4.3l-14.4 1.5l-14.3,-2l-13.1,-5.5z" fill="none" stroke="#ED5523" stroke-width="1.0" stroke-linejoin="round"/>
<path d="M183.1,167.8l-4.9 14.8l-8.6 13.1l-11.4 10.6l-13.3 8.1l-14 6l-14.8 4.3l-15.4 2l-15.6,-1l-15.1,-4.7l-13.5,-7.9l-11.8,-10.1l-10.1,-11.6l-8.7,-12.7l-6.6,-14.2l-3.5,-15.3l0.6,-15.7l4.3,-15l7.2,-13.6l8.9,-12.2l10.4,-10.9l11.9,-9.4l13.5,-7.3l14.9,-4.5l15.5,-1.4l15.7 1.4l15.3 4.2l14.2 7l12.4 9.9l9.7 12.3l6.9 14l4.3 14.6l2.5 14.8l0.8 15.1z" fill="none" stroke="#E23123" stroke-width="1.0" stroke-linejoin="round"/>
<path d="M15.4,149l0.8,-14.5l3.4,-14.2l6.1,-13.5l8.8,-12.3l11.1,-10.4l13,-8.4l14.4,-6l15.3,-3.7l15.7,-1l15.7 1.7l15.1 4.5l13.7 7.2l12 9.3l10 11.2l7.8 12.6l5.2 13.7l2.5 14.5l-0.7 14.6l-3.7 14.3l-6.4 13.3l-8.8 12.2l-11 10.5l-12.9 8.6l-14.4 6.1l-15.4 3.4l-15.8 0.6l-15.5,-1.9l-15,-4.3l-14,-6.7l-12.4,-9l-10.2,-11.1l-7.7,-12.9l-4.7,-13.9z" fill="none" stroke="#EB4523" stroke-width="1.0" stroke-linejoin="round"/>
<path d="M35.5,195.9l-7.2,-12.6l-4.3,-13.8l-1.6,-14.5l0.6,-14.7l2.9,-14.7l5.4,-14.3l8.1,-13.4l10.7,-11.7l12.7,-9.7l14.2,-7.1l15.1,-4.5l15.4,-1.5l15 1.7l14 4.5l12.7 6.7l11.3 8.3l10 9.9l8.3 11.5l5.9 13.3l2.6 14.5l-0.8 15l-4 14.8l-6.3 14l-8.3 13.2l-10.4 11.9l-12.6 9.9l-14.2 7l-15.2 3.8l-15.2 0.8l-14.8,-1.5l-14.2,-3.3l-13.5,-5.4l-12.2,-7.8z" fill="none" stroke="#EA4223" stroke-width="1.0" stroke-linejoin="round"/>
<path d="M171.5,191l-11.1 10.6l-13 7.6l-13.8 5.1l-14.2 3l-14.2 1l-14.2,-1.3l-13.7,-3.7l-12.9,-6.2l-11.8,-8.1l-10.5,-9.9l-9,-11.6l-6.7,-13.2l-3.8,-14.5l-0.5,-15l2.7,-14.7l5.5,-13.8l7.8,-12.6l9.8,-11l11.8,-8.8l13.3,-6.3l14.2,-3.5l14.5,-0.9l14.4 1.5l14 3.7l13.1 6.1l11.7 8.7l9.6 10.8l7.4 12.3l5.5 13.2l4.1 13.8l2.2 14.6l-0.3 15.1l-4.1 14.8z" fill="none" stroke="#EB4623" stroke-width="1.0" stroke-linejoin="round"/>
<path d="M112,217.1l-13.3 1.3l-14 0.8l-14.5,-1.8l-13.5,-6.3l-10.7,-10.6l-7.3,-13.1l-5.2,-13.7l-4.4,-13.7l-3.1,-14.2l-0.5,-14.8l3.7,-14.3l7.6,-12.5l9.6,-10.3l10.2,-9.3l10.5,-9l11.9,-8.1l13.7,-5l14.7,-0.1l13.8 4.6l12.4 7.2l11.4 7.8l11.3 8.2l10.7 9.7l8.5 12.2l4.5 14.3l0.4 15l-2.3 14.4l-3.5 14l-4.8 13.7l-7.1 12.8l-10.5 10.3l-12.9 6.3l-13.8 2.9z" fill="none" stroke="#E94023" stroke-width="1.0" stroke-linejoin="round"/>
<path d="M170.3,183.4l-9.5 11.4l-10.8 9.7l-11.5 8.7l-12.7 7.5l-14.1 5.3l-15.1 1.9l-15.2,-1.9l-14.4,-5.4l-13.1,-7.6l-11.9,-9.3l-10.6,-11l-8.4,-13l-5.1,-14.5l-1.5,-15.4l2,-15l4.3,-14.3l6.2,-13.3l8.1,-12.3l10.2,-10.6l12.1,-8.4l13.4,-5.9l14.2,-3.8l14.8,-1.8l15.2 0.3l15.1 3.2l14 6.9l11.7 10.2l9.1 12.6l6.6 13.7l4.8 14.2l2.7 14.8l0 15.2l-3.5 14.7z" fill="none" stroke="#E22F23" stroke-width="1.0" stroke-linejoin="round"/>
<path d="M79.5,224.2l-13.6,-5.5l-12,-8.4l-10.1,-10.7l-8.1,-12.3l-6.1,-13.5l-4.2,-14.5l-1.7,-15.2l1.3,-15.4l4.6,-14.8l7.5,-13.2l9.2,-11.5l10.2,-10.3l11,-9.5l12.2,-8.5l13.8,-6.2l14.9,-2.3l14.7 2.5l13.4 6.5l11.5 9.2l9.9 10.8l8.5 11.9l6.9 13.2l4.2 14.6l0.8 15.4l-2.5 15.2l-5 14.3l-6.6 13.3l-8 12.4l-9.4 11.6l-11.2 9.9l-12.9 7.6l-14.1 4.5l-14.7 1.1z" fill="none" stroke="#E43423" stroke-width="1.0" stroke-linejoin="round"/>
<path d="M35.4,188.2l-7.5,-12.4l-5,-13.7l-2.4,-14.2l0.1,-14.5l2.8,-14.3l5.2,-13.6l7.6,-12.4l9.8,-10.9l11.5,-9l13.1,-6.7l14.2,-4.1l14.5,-1.2l14.5 1.6l13.9 4.2l12.8 6.5l11.5 8.6l9.9 10.5l8 12l5.5 13.5l3 14.3l0 14.6l-2.8 14.5l-5.6 13.6l-8.1 12.2l-10.1 10.6l-11.8 8.5l-13 6.4l-13.9 4l-14.4 1.7l-14.5,-0.9l-14.1,-3.6l-13.2,-6.2l-11.7,-8.7z" fill="none" stroke="#E33223" stroke-width="1.0" stroke-linejoin="round"/>
</g>
<clipPath id="hc2"><circle cx="289.75" cy="143.45" r="83.4"/></clipPath>
<g clip-path="url(#hc2)">
<radialGradient id="hg2" gradientUnits="userSpaceOnUse" cx="296.75" cy="144.45" r="90.4"><stop offset="0" stop-color="#74C480"/><stop offset="0.45" stop-color="#84C874"/><stop offset="0.62" stop-color="#98D064"/><stop offset="0.76" stop-color="#C4DA4C"/><stop offset="0.83" stop-color="#ECD838"/><stop offset="0.87" stop-color="#F2A82C"/><stop offset="0.91" stop-color="#EC6028"/><stop offset="0.95" stop-color="#E84424"/><stop offset="1" stop-color="#E63A22"/></radialGradient>
<circle cx="289.75" cy="143.45" r="83.4" fill="url(#hg2)"/>
<radialGradient id="hg2b" gradientUnits="userSpaceOnUse" cx="292.75" cy="150.45" r="52"><stop offset="0" stop-color="#646464"/><stop offset="0.42" stop-color="#646464"/><stop offset="0.47" stop-color="#3458C0"/><stop offset="0.56" stop-color="#3C78D0"/><stop offset="0.68" stop-color="#50BCD0"/><stop offset="0.84" stop-color="#74C480" stop-opacity="0.8"/><stop offset="1" stop-color="#88CA70" stop-opacity="0"/></radialGradient>
<ellipse cx="292.75" cy="150.45" rx="54" ry="50" fill="url(#hg2b)"/>
<path d="M297.3,180.3l-5.5,-0.7l-5,-3.1l-4.1,-4.6l-3.1,-5.1l-2.4,-5.3l-1.6,-5.6l-0.9,-5.6l-0.2,-5.9l0.7,-5.8l1.7,-5.6l2.9,-4.9l4,-3.7l4.7,-2.1l5.2,-0.2l5.1 2.1l4.3 4l3.4 5.1l2.4 5.7l1.4 5.8l0.3 5.8l-0.5 5.6l-0.9 5.4l-1.3 5.6l-2.1 5.8l-3.6 4.9z" fill="#646464"/>
<path d="M297.7,185.3l-5.3 0.6l-5.4,-0.5l-5.2,-1.7l-4.7,-3.2l-3.8,-4.1l-2.9,-4.7l-2.2,-5.1l-1.4,-5.3l-0.7,-5.5l0.3,-5.5l1.3,-5.3l2.3,-5l3.1,-4.4l3.8,-3.9l4.5,-3l4.9,-2.1l5.2,-0.9l5.3 0.2l5.2 1.1l4.9 1.8l4.8 2.6l4.3 3.4l3.6 4.4l2.4 5.1l1.3 5.5l0.2 5.7l-0.7 5.5l-1.5 5.2l-2.2 5l-3.1 4.4l-3.9 3.6l-4.5 2.8l-4.8 2z" fill="none" stroke="#315FD2" stroke-width="1.2" stroke-linejoin="round"/>
<path d="M308.2,171.5l-4 2.3l-4.5 1.3l-4.8 0l-4.8,-1.1l-4.6,-2l-4.3,-2.8l-4,-3.4l-3.4,-4l-2.8,-4.5l-2,-4.9l-1,-5.1l-0.2,-5l0.6,-4.8l1.4,-4.6l2.2,-4l3,-3.4l3.6,-2.6l4,-1.8l4.3,-1.3l4.6,-0.5l4.8 0.2l4.9 1.4l4.6 2.7l4 3.7l3.1 4.4l2.4 4.9l1.5 4.9l1 5l0.2 4.9l-0.5 4.7l-1.3 4.5l-2 4.1l-2.7 3.7z" fill="none" stroke="#2D52C5" stroke-width="1.2" stroke-linejoin="round"/>
<path d="M300,184.7l-5.3 0.9l-5.5,-0.2l-5.4,-1.3l-5.1,-2.3l-4.9,-3.2l-4.3,-4.1l-3.5,-4.9l-2.7,-5.6l-1.8,-5.9l-0.8,-6l0.1,-6.1l1.1,-5.8l2.1,-5.5l3,-4.9l3.8,-4l4.5,-3.1l5,-2l5.2,-1.1l5.5 0l5.4 1.2l5.2 2.2l4.8 3.3l4.3 4.2l3.5 5l2.7 5.5l1.8 5.9l0.8 6.1l-0.2 6l-1.1 5.8l-2.1 5.4l-2.9 4.9l-3.7 4.2l-4.5 3.2z" fill="none" stroke="#2D50C3" stroke-width="1.2" stroke-linejoin="round"/>
<path d="M322.2,164.8l-3 3.4l-3.5 2.9l-4 2.5l-4.4 1.8l-4.9 1l-5.2 0.1l-5.4,-1l-5.1,-1.9l-4.8,-2.6l-4.4,-3.2l-3.8,-3.7l-3.1,-4.2l-2.1,-4.5l-1.1,-4.6l-0.1,-4.6l0.6,-4.3l1.3,-4.2l2,-4l2.8,-3.6l3.7,-3.1l4.6,-2l5.3,-0.8l5.6 0.6l5.3 1.8l4.9 2.7l4.3 2.9l4 3.1l3.8 3.3l3.8 3.7l3.2 4.2l2.1 4.7l0.6 4.9l-0.9 4.6z" fill="none" stroke="#2A45B8" stroke-width="1.2" stroke-linejoin="round"/>
<path d="M325.4,153.4l-0.2 5.1l-2.1 4.8l-3.9 4l-4.9 2.8l-5.2 2.2l-5.1 1.9l-5.3 1.7l-5.8 1.3l-6.2 0.3l-6.4,-0.9l-6,-2.1l-5.3,-3.3l-4.3,-4.2l-2.9,-4.9l-1.4,-5.2l0.1,-5.2l1.2,-4.8l1.8,-4.4l2,-4.2l2.4,-4.2l3.2,-3.9l4.1,-3.5l5.1,-2.7l5.7,-1.8l6.3,-0.9l6.4 0.1l6.4 1.5l5.6 2.9l4.4 4.1l3.1 4.6l2.1 4.7l2 4.6l1.8 4.6z" fill="none" stroke="#2B46B9" stroke-width="1.2" stroke-linejoin="round"/>
<path d="M252.7,156.9l-0.2,-5.4l1.4,-5.3l2.9,-4.9l3.9,-4.3l4.5,-3.7l4.8,-3.2l5.3,-2.8l5.8,-2.1l6.2,-1.2l6.3 0l6.2 0.9l5.8 1.9l5.4 2.7l4.6 3.5l3.4 4.4l2.2 4.9l0.9 5.2l-0.1 5.2l-1 5.2l-1.8 5.1l-3 4.9l-4.4 4.1l-5.3 3.1l-5.9 2.1l-6.1 1.3l-6 0.8l-6.1 0.3l-6.2,-0.5l-6,-1.6l-5.4,-2.7l-4.4,-3.7l-3.5,-4.3l-2.6,-4.7z" fill="none" stroke="#2B48BB" stroke-width="1.2" stroke-linejoin="round"/>
<path d="M327.4,159.4l-3.3 3.2l-3.3 2.8l-3.2 2.9l-3.6 2.8l-4.5 2.2l-5.6 0.9l-5.9,-0.5l-5.9,-1.6l-5.9,-1.8l-6.1,-2.1l-6.3,-2.7l-5.6,-4l-3.7,-5.1l-1,-5.4l1.1,-5l2,-4.3l2,-3.9l1.8,-3.7l2.5,-3.6l3.5,-2.8l4.7,-1.8l5.2,-0.8l5.3,-0.5l5.5,-0.4l6,-0.1l6.6 1l6.3 2.4l5.6 3.8l4.2 4.6l3 5l1.9 5.1l0.4 5l-1.2 4.6z" fill="none" stroke="#44B0E4" stroke-width="1.2" stroke-linejoin="round"/>
<path d="M309.3,175l-4.5 3.9l-5.5 2.7l-6.3 0.9l-6.4,-1l-6.1,-2.6l-5.4,-3.5l-4.9,-3.7l-4.7,-3.9l-4.7,-4.1l-4.4,-4.9l-3.5,-5.7l-2.1,-6.4l-0.4,-6.5l1.2,-6.2l2.4,-5.6l3.2,-4.9l4.1,-4.1l4.9,-3.2l5.4,-2.1l5.9,-0.9l6.1 0.3l6 1.3l5.9 2.2l5.6 3.2l5.1 4.1l4.3 4.9l3.4 5.7l2.3 6l1.3 6.1l0.2 6.2l-0.7 5.9l-1.6 5.7l-2.6 5.4z" fill="none" stroke="#44B2E5" stroke-width="1.2" stroke-linejoin="round"/>
<path d="M323.5,165.1l-2.4 4.3l-3.5 3.7l-4.1 3l-4.7 2.4l-5.3 1.4l-5.7 0.1l-5.7,-1.1l-5.3,-2l-5,-2.3l-4.9,-2.6l-4.7,-3l-4.3,-3.8l-3.1,-4.4l-1.8,-4.9l-0.7,-5l0,-4.9l0.8,-4.9l1.9,-4.6l3.3,-3.8l4.7,-2.5l5.4,-1.3l5.3,-0.6l5.3,-0.5l5.4,-0.3l5.7 0.3l5.8 1.6l5.1 3.2l3.8 4.2l2.8 4.6l2.3 4.5l2.2 4.5l1.7 4.9l0.6 5z" fill="none" stroke="#43ACE4" stroke-width="1.2" stroke-linejoin="round"/>
<path d="M265.9,172.3l-3,-4.1l-2.1,-4.5l-1.4,-4.8l-0.8,-5.1l-0.1,-5.4l0.8,-5.5l1.9,-5.6l3.1,-5.2l4.2,-4.4l4.9,-3.4l5.4,-2.3l5.3,-1.3l5.3,-0.5l5.2 0l5 0.7l4.9 1.5l4.4 2.5l3.7 3.6l2.6 4.5l1.5 5.1l0.2 5.5l-0.8 5.6l-1.7 5.4l-2.6 5.1l-3.1 4.8l-3.8 4.3l-4.3 3.9l-4.9 3.1l-5.3 2.3l-5.5 1.2l-5.5 0l-5.2,-1.3l-4.5,-2.4z" fill="none" stroke="#46BED1" stroke-width="1.2" stroke-linejoin="round"/>
<path d="M266.7,179.7l-3.5,-4.7l-2.6,-5.3l-1.5,-5.8l-0.4,-6l0.3,-6.2l0.8,-6.4l1.4,-6.9l2.7,-7l4.6,-6.4l6.5,-4.7l7.6,-2.1l7.7 0.4l7 2.3l6 3.4l5.1 3.9l4.3 4.1l3.8 4.3l3.2 4.8l2.7 5.1l2.1 5.5l1.4 6l0.6 6.5l-0.8 6.8l-2.3 6.7l-3.9 6.3l-5.2 5.4l-6.3 4.2l-7.2 2.5l-7.4 0.5l-7,-1.6l-6.2,-3l-5.2,-4l-4.4,-4.2z" fill="none" stroke="#46C2C1" stroke-width="1.2" stroke-linejoin="round"/>
<path d="M318.9,176.1l-4.4 4.1l-5.2 3.2l-6.1 1.6l-6.5 0.1l-6.7,-0.9l-6.8,-1.6l-6.9,-2.4l-6.8,-3.9l-5.7,-5.6l-3.7,-6.9l-1.7,-7.4l-0.2,-7.1l0.6,-6.6l1.1,-6.3l1.8,-5.9l2.9,-5.4l3.9,-4.7l4.7,-3.8l5.4,-3.2l6.1,-2.2l6.7,-0.9l7 1.2l6.7 3.1l5.9 4.5l5.3 4.8l5.1 5l5.2 5.5l4.4 6.5l2.4 7.3l-0.2 7.3l-2.7 6.4l-3.8 5.3l-3.9 4.5z" fill="none" stroke="#46BED0" stroke-width="1.2" stroke-linejoin="round"/>
<path d="M322.7,164.3l-2.1 5.2l-3 4.9l-3.7 4.3l-4.5 3.7l-5.3 2.7l-5.8 1.3l-5.9,-0.2l-5.6,-1.6l-5.1,-2.4l-4.8,-2.6l-4.8,-2.8l-4.8,-3.5l-4,-4.6l-2.5,-5.5l-0.4,-6.1l1.4,-5.8l2.3,-5.3l2.5,-4.9l2.7,-4.7l3.3,-4.6l4.3,-3.9l5.2,-2.7l5.8,-1.2l5.8 0.1l5.7 0.9l5.5 1.7l5.3 2.4l4.7 3.4l3.9 4.4l2.8 5.1l1.7 5.4l0.8 5.7l-0.2 5.7z" fill="none" stroke="#46C0CA" stroke-width="1.2" stroke-linejoin="round"/>
<path d="M312.1,189.3l-4.5 2.7l-5.2 1.6l-5.8 0.2l-5.9,-1.1l-6.1,-2.3l-5.9,-3.3l-5.7,-4.5l-5,-5.6l-4,-6.7l-2.4,-7.2l-0.6,-7.1l0.7,-6.6l1.8,-5.8l2.5,-5.1l2.9,-4.3l3.5,-3.8l3.9,-3.1l4.4,-2.4l4.9,-1.9l5.4,-1.2l6,-0.2l6.5 1.3l6.4 3.3l5.7 5.1l4.5 6.5l2.9 7.2l1.5 7.2l0.4 6.8l-0.4 6.4l-1.2 5.8l-1.9 5.3l-2.4 4.8l-3.1 4.3z" fill="none" stroke="#46C2C2" stroke-width="1.2" stroke-linejoin="round"/>
<path d="M325,162.9l-3.4 5.5l-4.1 5l-5.1 4.4l-6.2 3.4l-7.3 2l-7.8 0.4l-8.1,-0.9l-7.9,-2.1l-7.7,-3.1l-7.1,-4.4l-6,-5.5l-4.5,-6.5l-2.8,-6.8l-1.4,-6.8l-0.4,-6.6l0.5,-6.5l1.7,-6.2l3.1,-5.6l4.4,-4.9l5.5,-4l6.2,-3.3l7,-2.4l7.7,-1.3l8.2 0.4l8.2 2.4l7.4 4.1l6.4 5.1l5.4 5.7l4.6 6.1l3.8 6.3l2.4 6.8l0.8 6.8l-1.1 6.5z" fill="none" stroke="#46BAE2" stroke-width="1.2" stroke-linejoin="round"/>
<path d="M251.8,165.1l-1.5,-5.8l-0.8,-6.1l0.5,-6.5l2.1,-6.7l4,-6.4l5.8,-5.7l7.3,-4.4l8,-3l8.2,-1.6l7.8,-0.7l7.7,-0.2l7.7 0.3l7.6 1.2l6.8 2.8l5 4.5l2.8 5.6l1.2 6.1l0.6 5.9l0.8 5.9l0.5 6.5l-1 6.9l-3.7 6.8l-6.5 5.6l-8.1 3.7l-8.3 2.2l-7.9 1.4l-7.6 1.5l-7.9 1.2l-8 0.1l-7.5,-1.6l-6.2,-3.5l-4.3,-4.9l-3,-5.5z" fill="none" stroke="#46B7E6" stroke-width="1.2" stroke-linejoin="round"/>
<path d="M336.5,145.2l-1.7 5.3l-2.7 5l-3.7 4.7l-4.9 4.1l-6.1 3.2l-7 2.2l-7.4 1.2l-7.8 0.4l-8,-0.4l-7.9,-1.5l-7.2,-2.9l-5.9,-4.3l-4.1,-5l-2.9,-5.2l-2.6,-5l-2.4,-5.2l-1.8,-5.5l0,-5.7l2.6,-5.3l4.8,-4.4l5.9,-3.4l6.4,-2.8l6.5,-2.5l7.2,-2l7.9,-0.8l8 0.8l7.5 2.5l6.6 3.6l5.6 3.9l5.2 4.2l4.7 4.6l3.5 5.1l1.8 5.5z" fill="none" stroke="#70CC70" stroke-width="1.2" stroke-linejoin="round"/>
<path d="M283.2,189.2l-6,-6.4l-3.9,-7.6l-2.7,-7.6l-2.5,-7.2l-2.9,-7.3l-2.4,-8l-0.8,-8.7l1.9,-8.7l4.5,-7.8l6.3,-6.2l7.4,-4.8l7.9,-3.6l8.2,-2.6l8.6,-1l8.6 0.7l8.1 2.8l7.1 4.8l5.6 6.1l4.3 6.7l3.4 6.9l3.1 6.9l3.1 7.3l2.7 8.1l1.3 9.1l-1.3 9.2l-4.5 8.1l-7.2 5.9l-8.5 3.5l-8.5 1.9l-8 1.5l-8 1.6l-8.4 1l-8.7,-0.9z" fill="none" stroke="#53C997" stroke-width="1.2" stroke-linejoin="round"/>
<path d="M349.9,151.9l-2.9 5.7l-3.7 5.3l-3.8 5.2l-4.4 5.3l-5.9 5l-7.8 3.7l-9.4 1.6l-10,-0.5l-9.6,-2.1l-9,-3l-8.4,-3.9l-7.2,-5l-5.3,-5.9l-3,-6.5l-1.4,-6.4l-0.5,-6.1l-0.2,-6l0.3,-6.2l1.8,-6.2l4,-5.6l6,-4.5l7.3,-3.6l8,-2.8l8.9,-2.1l9.7,-0.7l9.9 1.2l9.1 3.3l7.7 4.9l6.1 5.6l5.2 5.7l4.5 5.8l3.5 6.2l1.5 6.4z" fill="none" stroke="#8AD25B" stroke-width="1.2" stroke-linejoin="round"/>
<path d="M336.6,172.2l-3.7 5.5l-3.7 5.2l-3.9 5.3l-4.7 5.1l-6 4.1l-7 2l-7.3,-0.4l-6.9,-2.4l-6.1,-3.3l-5.7,-3.7l-5.5,-3.8l-5.2,-4.5l-4.4,-5.6l-2.7,-6.5l-0.7,-6.9l0.9,-6.9l2.2,-6.4l2.9,-6l3.5,-5.7l4.5,-5.1l5.4,-4.3l6.3,-3.1l6.9,-1.5l7.1 0.2l6.8 1.6l6.4 2.6l5.8 3.5l5.5 3.9l5.2 4.7l4.4 5.6l3 6.5l0.9 7.1l-1.3 6.9z" fill="none" stroke="#54C997" stroke-width="1.2" stroke-linejoin="round"/>
<path d="M300,190.8l-8.8 0.9l-9.1,-1.1l-8.8,-3.4l-7.8,-5.9l-5.9,-8.1l-3.6,-9.5l-1.2,-10l0.5,-9.8l1.6,-9.2l2.3,-8.7l3.1,-8.4l4.4,-7.7l5.8,-6.5l7,-4.8l7.6,-3.4l7.8,-2.6l8.2,-2.3l8.9,-1.4l9.5 0.4l9.1 3.4l7.4 6.8l4.9 9l2.5 10l0.9 9.7l0.3 9.3l-0.2 9.1l-1.3 9.1l-3 8.7l-4.9 7.7l-6.4 6l-7.2 4.5l-7.6 3.4l-7.8 2.8z" fill="none" stroke="#7DCE62" stroke-width="1.2" stroke-linejoin="round"/>
<path d="M272.4,192l-7.4,-2.7l-7.1,-3.4l-6.9,-4.2l-6.8,-5.3l-6.2,-6.5l-5.3,-8l-3.3,-9.4l-0.6,-10.1l2.4,-10l5.2,-8.7l7.2,-6.7l8.1,-4.6l8.4,-2.9l7.9,-1.6l7.6,-0.9l7.5,-0.7l7.7,-0.6l8.3 0.1l8.7 1.5l8.4 3.7l7.1 6.2l4.8 8.3l2.3 9.5l0.1 9.6l-1.4 9.2l-2.4 8.9l-3.3 8.5l-4.5 7.9l-6.1 6.7l-7.5 5l-8.4 2.9l-8.5 0.8l-8.2,-0.7z" fill="none" stroke="#61CB84" stroke-width="1.2" stroke-linejoin="round"/>
<path d="M312.9,167.8l-2.1 5.9l-3.7 5.3l-5.2 4.2l-6.3 2.6l-7 1l-7.2,-0.5l-6.9,-1.9l-6.4,-2.9l-5.9,-3.7l-5.2,-4.4l-4.4,-5l-3.3,-5.7l-2.1,-6l-0.7,-6l0.5,-5.9l1.3,-5.7l1.8,-5.5l2.4,-5.4l3.5,-5.1l4.7,-4.4l6,-3.1l6.7,-1.5l7.2 0l7.1 1.4l6.8 2.6l6.1 3.8l5.1 4.9l3.7 5.8l2.2 6l1.2 6l0.6 5.7l0.3 5.6l0 5.9z" fill="none" stroke="#58CA90" stroke-width="1.2" stroke-linejoin="round"/>
<path d="M325.2,187.9l-7.4 3.5l-7.9 1.8l-8.3 0.4l-8.4,-0.7l-8.5,-1.7l-8.6,-3l-8.1,-5l-6.7,-7l-4.5,-8.7l-2.1,-9.3l-0.5,-9.1l0.3,-8.6l0.7,-8.5l1.5,-8.5l3,-8.2l5,-7.1l6.7,-5.4l7.9,-3.5l8.4,-1.8l8.6,-0.3l8.7 1.5l8.3 3.4l7.4 4.9l6.7 5.9l6 6.6l5.6 7.1l4.9 8l3.3 9l1.1 9.5l-1.6 9.1l-3.7 8.2l-5.1 6.9l-5.9 5.9z" fill="none" stroke="#8BD25B" stroke-width="1.2" stroke-linejoin="round"/>
<path d="M265,190.8l-6.4,-6.3l-5.7,-7.1l-4.7,-8.1l-2.9,-9.2l-0.5,-9.8l1.8,-9.9l3.6,-9.4l4.9,-8.8l5.9,-8.2l7.3,-7.2l8.5,-5.7l9.5,-3.6l9.8,-1.4l9.6 0.6l9.2 2.4l8.4 3.7l7.6 5.1l6.5 6.4l5.2 7.6l3.9 8.4l2.5 9.1l1 9.7l-0.8 9.9l-3.1 9.7l-5.1 8.9l-6.6 7.8l-7.7 6.5l-8.5 5.4l-9.2 4.2l-9.7 2.2l-9.8,-0.1l-9.2,-2.6l-8.2,-4.6z" fill="none" stroke="#90D358" stroke-width="1.2" stroke-linejoin="round"/>
<path d="M280.4,208.4l-7.2,-4.1l-6.5,-5.3l-5.6,-6.8l-3.9,-8.5l-1.8,-9.8l0.2,-10.3l1.7,-10.1l2.3,-9.6l2.5,-9.4l3,-9.8l4.1,-9.9l5.6,-9.5l7.2,-8.2l8.5,-6.1l9.1,-3.7l9.2,-0.6l8.6 2.6l7.1 5.7l5.2 8l3.4 9l2.4 9.1l1.8 8.8l1.5 8.9l0.9 9.4l-0.3 10l-2 10.4l-3.7 10.2l-5.1 9.7l-6.4 8.7l-7.7 7.2l-8.6 5l-8.9 2.2l-8.6,-0.6z" fill="none" stroke="#58CA91" stroke-width="1.2" stroke-linejoin="round"/>
<path d="M260.7,194.8l-7,-4.8l-5.9,-6.5l-4.1,-8.1l-1.7,-9.3l1.1,-10l3.6,-9.6l5.6,-8.6l6.5,-7.3l6.7,-6.4l6.7,-5.9l7,-5.9l7.8,-5.5l8.8,-4.3l9.4,-2.2l9.3 0.7l8.1 3.5l6.5 5.8l4.8 7.2l3.4 7.8l2.4 8.1l1.6 8.5l0.5 8.8l-0.8 9.3l-2.8 9.5l-4.8 8.9l-6.6 7.7l-8 6.2l-8.6 4.4l-8.7 2.7l-8.6 1.4l-8.5 0.1l-8.1,-0.9l-8,-2z" fill="none" stroke="#66CB7D" stroke-width="1.2" stroke-linejoin="round"/>
<path d="M317.7,192l-8 2.5l-8.5 0.3l-8.4,-1.4l-8.1,-2.2l-8.1,-2.7l-8,-3.8l-7.7,-5.3l-6.8,-7l-5.3,-8.3l-4,-9l-3,-9.3l-2,-9.7l-0.5,-9.8l1.9,-9.3l4.6,-7.7l6.6,-5.4l7.5,-3.3l7.7,-2.2l7.7,-1.7l8,-0.9l8.4 0.5l8.6 2.9l7.9 5.2l6.9 6.7l6 7.5l5.2 8l4.7 8.6l3.4 9.3l1.8 9.6l-0.2 9.6l-2.1 8.9l-3.8 8l-5.5 6.7z" fill="none" stroke="#8CD25A" stroke-width="1.2" stroke-linejoin="round"/>
<path d="M337.4,201.8l-8.5 2.7l-8.6 1.6l-8.6 1.1l-9.2 0.2l-9.6,-1.6l-9.6,-3.9l-8.8,-6.4l-7.4,-8.2l-6,-9.3l-4.6,-9.7l-3.3,-10.1l-1.9,-10.1l-0.1,-10.1l1.8,-9.5l3.7,-8.4l5.4,-7.1l6.7,-5.6l7.6,-4.2l8.4,-2.8l9,-1.3l9.5 0.5l9.8 2.5l9.4 4.8l8.4 6.9l7 8.4l5.5 9.3l4.3 9.4l3.6 9.7l2.9 10l1.6 10.4l-0.7 10.3l-3.6 9.1l-6.2 6.9z" fill="none" stroke="#6CCC75" stroke-width="1.2" stroke-linejoin="round"/>
<path d="M344,188l-5.5 7.2l-6.5 6.5l-7.6 5.6l-9 4.1l-10 1.4l-10.1,-1.6l-9.5,-3.9l-8.5,-5.2l-7.6,-5.9l-7,-6.4l-6,-7.4l-4.5,-8.3l-2.5,-8.9l-0.8,-9.1l0.3,-9l1.4,-9l3,-8.9l5.1,-8l7.3,-6.2l8.8,-3.9l9.5,-1.9l9.6,-0.6l9.7 0.3l9.7 1.7l9.3 3.7l8.2 5.8l6.5 7.5l4.9 8.2l3.8 8.5l3 8.7l1.7 9l-0.1 9.2l-2.3 8.8z" fill="none" stroke="#52C99A" stroke-width="1.2" stroke-linejoin="round"/>
<path d="M342.4,190.2l-7.9 5.7l-9 3.8l-9.2 2.4l-9.4 1.7l-9.8 0.7l-10.1,-1l-9.9,-3.5l-8.8,-5.9l-7.2,-7.7l-5.7,-8.6l-4.6,-9l-3.7,-9.5l-2.2,-9.9l0,-10.1l2.7,-9.6l5.1,-8.3l6.6,-6.9l7.6,-5.5l8,-4.5l8.7,-3.6l9.3,-2.3l9.9,-0.7l10.2 1.2l10 3.4l9.2 5.6l7.6 7.6l5.5 9l3.6 9.7l2.1 9.6l1.2 9.6l0.4 9.7l-1.1 9.8l-3.3 9.2z" fill="none" stroke="#87D15C" stroke-width="1.2" stroke-linejoin="round"/>
<path d="M333,161.8l-3.7 7.5l-5.2 6.6l-5.8 5.8l-6.5 5.3l-7.4 4.5l-8.4 3.1l-9.2 1l-9.3,-1.2l-8.8,-2.9l-8.2,-4l-7.5,-5l-6.7,-6.1l-5.3,-7.1l-3.4,-8l-1.6,-8.4l0,-8.3l1.1,-8.2l2.4,-8l4.1,-7.4l6.1,-6.2l7.5,-4.5l8.3,-2.9l8.6,-1.7l8.7,-1.1l9,-0.2l9.2 1.4l8.8 3.5l7.5 5.4l6.1 6.8l4.7 7.4l3.6 7.9l2.4 8.2l0.5 8.5z" fill="none" stroke="#73CC6B" stroke-width="1.2" stroke-linejoin="round"/>
<path d="M355.5,140l-2.7 8.5l-4.4 7.8l-5.8 7.3l-7.2 6.5l-8.7 5.4l-10.3 3.9l-11.2 2.1l-11.6 0.3l-11.3,-1.3l-11,-2.4l-10.6,-3.4l-10,-4.5l-9.1,-5.8l-7.5,-7l-5.3,-8.1l-2.7,-8.7l0,-8.8l2.5,-8.5l4.4,-7.9l5.9,-7.2l7.4,-6.4l8.8,-5.4l10.1,-4l11.2,-2.2l11.6,-0.3l11.4 1.4l10.9 2.5l10.4 3.6l10 4.4l9.3 5.6l7.8 6.9l5.5 8.1l2.5 8.8zM369.2,160.2l-5.2 11l-6.3 10.6l-7.5 10.2l-10.1 8.7l-13 5.5l-14.8 1l-14.6,-2.9l-13.2,-4.7l-12.3,-4.7l-12.4,-4.3l-12.7,-5.2l-12.1,-7.4l-9.5,-10.1l-5.8,-11.9l-2.3,-12.5l0.2,-12.3l2.2,-11.9l4.1,-11.3l6.4,-10.5l8.8,-9.1l10.7,-7.4l12.4,-5.5l13.6,-3.3l14.3,-0.5l14.3 2.8l13 5.8l11.3 7.5l10.2 8l10 8.2l9.7 8.9l8.4 10.6l4.9 12.2l0.5 12.5zM222.7,175.3l-4.8,-8.4l-4.6,-8.7l-4,-9.6l-2.4,-10.7l0.7,-11.6l4.5,-11.3l7.8,-9.8l9.6,-7.8l10.2,-6.1l10.2,-4.9l10.5,-4l10.9,-2.7l11.1,-0.8l10.8 1.3l10.1 3.5l8.9 5.6l7.3 7.4l5.3 8.9l3 10l0.9 10.5l-0.5 10.6l-1.8 10.7l-3.2 10.7l-5.2 10.5l-7.4 9.5l-9.6 7.6l-10.8 5.4l-11.2 3.5l-11.3 1.7l-11.2 0.1l-10.7,-2l-9.5,-4.5l-7.7,-6.6z" fill="none" stroke="#CAE13B" stroke-width="1.2" stroke-linejoin="round"/>
<path d="M253.2,203.3l-10.2,-8.6l-9.1,-9.7l-8,-11l-6.3,-12.5l-3.4,-14l0.6,-14.4l4.5,-13.7l7.5,-12.2l9.3,-10.2l10.5,-8.3l11.4,-6.5l11.9,-4.6l12.4,-2.5l12.4,-0.9l12.7 0.3l13 1.6l13.3 3.5l12.7 6.5l10.5 10l7.1 12.7l3.2 14.2l-0.1 14.3l-2.4 13.8l-4.3 12.9l-6.2 12l-7.9 10.6l-9.5 9l-10.8 7.4l-11.6 5.9l-12.5 4.2l-13.1 2l-13.4,-1l-12.7,-4.1z" fill="none" stroke="#EFE12A" stroke-width="1.2" stroke-linejoin="round"/>
<path d="M296.4,209.5l-11.2,-0.1l-11.2,-2.3l-10.7,-4.4l-10.2,-6.5l-9.1,-8.7l-7.6,-10.7l-5.8,-12.1l-3.9,-13.1l-2.3,-13.6l-0.3,-13.8l1.8,-13.7l4.3,-12.7l6.6,-11l8.6,-8.8l9.6,-6.4l10.4,-4.4l10.7,-2.5l11.1,-0.6l11.1 1.7l10.8 4.1l10.2 6.5l9.2 8.6l8 10.4l6.3 12l4.2 13.3l1.7 13.9l-0.7 13.8l-2.9 13.1l-4.7 12.2l-6.1 11l-7.6 9.5l-9 7.7l-10.3 5.1z" fill="none" stroke="#E3E130" stroke-width="1.2" stroke-linejoin="round"/>
<path d="M224.9,164.2l-3.6,-8.6l0.2,-9.5l3.7,-9.4l5.5,-8.5l6.2,-7.5l6.1,-7.1l6.5,-7l7.6,-6.7l8.9,-5.8l10.2,-4.1l10.8,-2.1l10.9 0.2l10.2 2.3l9 4.4l7.4 6l5.5 7.4l3.5 8.3l1.4 8.8l-0.6 8.9l-2.3 8.7l-3.7 8.2l-4.5 7.9l-5.1 7.9l-6 8l-7.6 7.7l-9.5 6.3l-11 3.5l-11.1 0l-10.1,-2.9l-8.6,-4.3l-7.8,-4.5l-7.8,-4.5l-7.8,-5.2z" fill="none" stroke="#F5E128" stroke-width="1.2" stroke-linejoin="round"/>
<path d="M234.3,162.4l-4,-10.9l-2.4,-11.6l-0.6,-12.1l1.6,-12.4l4.5,-11.9l7.3,-10.7l9.6,-8.6l11.3,-6.4l12.1,-4.1l12.6,-1.5l12.3 1l11.6 3.6l10.3 5.6l9.2 6.7l8.2 7.5l7.5 8.3l6.5 9.4l4.6 10.7l2.3 11.7l-0.1 12l-2.2 12.1l-4.1 11.9l-6.2 11.3l-8.8 9.9l-11.3 7.1l-12.9 3.3l-13,-0.3l-12.1,-2.7l-11.1,-3.9l-10.4,-4.4l-9.8,-5.4l-9.1,-6.7l-7.6,-8.5z" fill="none" stroke="#BFDF41" stroke-width="1.2" stroke-linejoin="round"/>
<path d="M327.8,186.3l-8.5 6.5l-10 4.3l-10.8 2.2l-11.2 0.6l-11.5,-1.1l-11.3,-3.3l-10.5,-6.1l-8.8,-8.6l-6.6,-10l-5.3,-10.4l-4.6,-10.5l-4.3,-11l-2.8,-12l0.1,-12.2l3.8,-11.3l7.4,-9l9.5,-6.4l10.3,-4.1l10.4,-2.6l10.4,-1.4l10.5,-0.2l10.7 1l10.9 2.4l11.1 4l10.9 5.9l9.7 8.4l7.3 10.7l3.7 12.2l0.3 12.3l-2.1 11.4l-3.4 10.5l-3.9 9.9l-4.8 9.4z" fill="none" stroke="#DAE134" stroke-width="1.2" stroke-linejoin="round"/>
<path d="M243.2,178.9l-1,-7.4l0.3,-7.7l2.5,-7.8l5.2,-7.3l7.4,-6.2l8.6,-5.1l9.2,-4.2l9.8,-3.5l10.4,-2.3l10.6,-0.5l10.1 1.7l9 3.4l8 4.2l7.4 4.7l6.9 5.4l5.4 6.5l2.5 7.6l-0.9 8.1l-3.7 7.6l-5 7l-5.2 6.7l-5.6 6.6l-6.8 6.4l-8.6 5.4l-10.1 3.5l-10.8 1.4l-10.6,-0.2l-10.2,-1.4l-9.7,-2.4l-8.7,-3.9l-6.9,-5.4l-4.8,-6.6l-2.9,-7.1zM348.9,166.7l-3.6 9.9l-5.3 9.4l-7.8 8l-10.1 5.7l-11.7 3l-12.2 0.7l-12.1,-0.9l-11.9,-2.4l-11.5,-3.9l-10.8,-5.8l-9.5,-7.5l-7.8,-8.8l-6.2,-9.8l-4.4,-10.5l-2.1,-10.9l0.5,-10.8l3,-10.2l5.1,-9.3l6.5,-8.5l7.8,-7.7l9.2,-6.5l11,-4.4l12.3,-1.5l12.4 1.6l11.8 3.9l10.9 5l10.6 5.4l10.2 6.5l9.3 8l6.8 9.9l3.4 10.9l0.4 11l-1.6 10.5z" fill="none" stroke="#F5D827" stroke-width="1.2" stroke-linejoin="round"/>
<path d="M216.1,171.2l2.6,-12.6l6.2,-11.1l6.6,-9.8l5.4,-9.6l5.2,-10.4l7.2,-10.3l10.3,-8l12.7,-4l13.2,-0.1l12.6 2.1l11.9 2.9l11.5 3.8l10.5 5.7l8.5 8.1l5.9 9.7l4.5 10.2l4.5 10.3l4.6 11.3l2.7 12.6l-2 13.1l-7.8 11.1l-12.1 7.4l-13.2 4.2l-12.1 2.8l-11.1 3.2l-11.2 3.3l-11.9 1.8l-12.2,-1l-11.6,-3.8l-10.8,-5.4l-10.6,-6.5l-9.9,-8.2l-7.4,-10.5z" fill="none" stroke="#BBDE42" stroke-width="1.2" stroke-linejoin="round"/>
<path d="M218.7,180.4l-5.5,-8.8l-3.5,-9.8l-1.5,-10.6l0.5,-10.9l2.8,-10.8l5.2,-10.3l6.8,-9.3l7.9,-8.4l8.5,-7.8l9.4,-7.2l10.7,-5.7l11.5,-3.1l11.5 0.1l10.5 3l9.3 4.8l8.5 5.5l8 6.3l6.8 7.8l4.5 9.6l1 10.9l-2.1 11.2l-4.1 10.5l-4.8 10l-5.5 9.8l-6.5 9.6l-8.5 8.6l-10.2 6.5l-11.2 3.9l-11.4 1.6l-11.1,-0.2l-10.7,-1.4l-10.2,-3.1l-9.2,-5.1z" fill="none" stroke="#EBE12C" stroke-width="1.2" stroke-linejoin="round"/>
<path d="M285,183.3l-5.5,-4.3l-4.6,-5.4l-3.3,-6.6l-1.9,-7.3l-0.6,-7.9l0.7,-8.2l2.2,-8.1l3.5,-7.9l4.9,-7.1l5.9,-6.3l6.7,-5.1l7.2,-4l7.5,-2.6l7.6,-1l7.4 0.7l6.6 2.4l5.9 3.7l5.2 4.6l4.5 5.3l3.8 6.2l2.5 7.1l0.9 7.9l-1 8.3l-2.7 8.1l-3.9 7.7l-4.8 7l-5.6 6.5l-6.5 5.5l-7.3 4.1l-7.6 2.3l-7.6 0.5l-7.2,-0.9l-6.7,-2.1zM303.8,194.6l-10.5 0.1l-10.6,-1l-10.6,-2.9l-9.9,-5.4l-8.2,-7.8l-6,-9.7l-3.6,-10.6l-1.4,-11l0.5,-10.9l2.1,-10.5l3.7,-9.9l5.1,-9.3l6.4,-8.5l7.7,-7.6l9,-6.3l10.4,-4.5l11.1,-1.8l11.2 1.2l10.5 3.8l9.3 5.8l8.1 7l7 7.7l6.3 8.5l5.1 9.3l3.6 10.3l1.5 11l-0.8 11.2l-3.3 10.9l-5.7 9.7l-7.9 8.1l-9.4 5.9l-10.1 3.9l-10.3 2.2z" fill="none" stroke="#CFE139" stroke-width="1.2" stroke-linejoin="round"/>
<path d="M278.8,181l-5.7,-3.7l-5.4,-4.4l-5,-5.7l-3.8,-7.2l-1.9,-8.9l0.8,-9.9l3.7,-9.9l5.9,-8.8l7.1,-7.2l7,-5.8l6.8,-5.2l6.7,-5.3l7.2,-5.3l7.9,-4.5l8.5,-2.6l8.3 0.1l7.3 2.9l5.7 5.5l3.7 7.5l1.7 8.5l0.1 8.9l-1 8.6l-1.3 8.5l-1.6 8.5l-2.1 9.1l-3.4 9.4l-5.3 9.1l-7.2 7.6l-8.3 5.2l-8.6 2.4l-8.1 0l-7.3,-1.7l-6.5,-2.5z" fill="none" stroke="#F5D627" stroke-width="1.2" stroke-linejoin="round"/>
<path d="M275.4,175.7l-4.2,-6.1l-2.2,-7.4l-0.5,-8l0.5,-8.2l1.2,-8.6l2.6,-9l4.6,-8.9l6.9,-8.2l8.5,-6.5l9.4,-4.8l9.5,-3.1l9.3,-1.4l8.7 0.7l7.4 2.8l5.8 4.4l4.7 4.8l4.9 4.4l5.9 4.1l6.4 4.9l5 7.1l1.3 9l-3 9.7l-6.4 8.9l-7.8 7.5l-7.9 6.6l-7.8 6.1l-8.3 5.4l-8.9 4l-9 1.7l-8.6,-0.3l-7.8,-1.6l-7.4,-2.3l-6.8,-3.2z" fill="none" stroke="#EDE12B" stroke-width="1.2" stroke-linejoin="round"/>
<path d="M303.4,205.6l-7.1 4.4l-8.1 2.9l-9 0.7l-9.7,-1.4l-9.8,-3.3l-9.8,-5.2l-9.2,-7.1l-8,-9l-6.3,-10.3l-4.4,-10.7l-3,-10.7l-2.1,-10.6l-1,-10.6l0.9,-10.1l3.4,-8.8l5.8,-6.6l7.4,-4.2l8,-2.9l8,-2.3l8.5,-1.9l9.5,-0.3l10.2 2.5l9.8 5.9l8.6 8.5l7.2 9.6l6.1 9.9l5.5 10.1l4.6 10.7l2.6 11l0 10.6l-2.6 9.3l-4.4 7.8l-5.4 6.5z" fill="none" stroke="#F5D427" stroke-width="1.2" stroke-linejoin="round"/>
<path d="M331.9,194.5l-8.2 3.6l-8.8 3l-9.8 1.5l-10.4,-1.2l-10,-4.8l-8.3,-8l-6.4,-9.8l-4.6,-10.3l-3.7,-10.3l-2.9,-10.3l-1.5,-10.6l0.8,-10.4l3.1,-9.4l4.9,-8.2l5.9,-6.9l6.5,-6l7.3,-5.2l8.2,-3.9l9,-1.9l9.6 0.2l9.8 2l9.8 3.9l9.4 5.8l8.2 8.2l5.9 10.2l3.2 11.2l0.7 11.2l-0.9 10.4l-1.7 9.8l-2.2 9.3l-3.5 8.8l-5.2 7.6l-6.6 5.9z" fill="none" stroke="#BEDE41" stroke-width="1.2" stroke-linejoin="round"/>
<path d="M214.7,146.9l-2,-11.5l0.4,-11.7l3,-11.4l5.2,-10.5l7,-9.4l8.3,-8.2l9.6,-6.7l10.8,-4.8l11.5,-2.5l11.7,-0.2l11.6 1.6l11.2 3.1l10.8 4.9l9.7 6.8l8 8.9l5.6 10.6l3.1 11.4l1 11.6l-0.7 11.6l-2.5 11.4l-4.7 10.8l-7 9.5l-8.9 7.7l-10.1 5.8l-10.6 4.3l-11.1 3.2l-11.6 1.9l-12,-0.3l-11.7,-3.2l-10.5,-5.9l-8.7,-8.2l-7,-9.4l-5.4,-10.3z" fill="none" stroke="#D8E135" stroke-width="1.2" stroke-linejoin="round"/>
<path d="M248.1,161.4l-4,-7.5l-3.6,-8.3l-1.6,-9.6l1.9,-10.3l5.6,-10l8.4,-9l10.1,-7.8l11.4,-6.5l12.3,-4.8l12.8,-2.3l12.3 0.8l10.8 3.3l9.2 4.6l8.1 5.1l7.6 5.4l6.7 6.2l4.9 7.5l2.2 8.7l-0.4 9.2l-2 9.3l-2.8 9.4l-3.8 9.8l-5.9 9.9l-8.8 9.2l-11.3 7l-12.9 4.3l-13 1.8l-12.5,-0.4l-11.4,-2.4l-9.8,-4.3l-7.7,-6.2l-5.4,-7.3l-3.8,-7.5z" fill="none" stroke="#E5E12F" stroke-width="1.2" stroke-linejoin="round"/>
<path d="M366.2,148.8l-5.2 9.5l-6.3 8.7l-7.5 8.1l-9 7.3l-10.9 5.8l-12.6 3.7l-13.8 1.2l-14.2,-1l-14,-3l-13.3,-4.7l-12.3,-6.6l-10.5,-8.3l-8,-9.7l-5.2,-10.5l-2.7,-10.6l-0.8,-10.5l0.6,-10.3l2.1,-10.2l4,-10l6.6,-9.3l9.5,-7.8l12.1,-5.4l13.8,-2.5l14.4 0.5l14 2.7l13 4.3l12.3 5l11.9 5.7l11.6 6.7l10.6 8.2l8.1 10l4.4 11.2l0.3 11.2z" fill="none" stroke="#CDE13A" stroke-width="1.2" stroke-linejoin="round"/>
<path d="M263.5,221.2l-10.4,-7.8l-7.9,-10.8l-5.8,-11.5l-5,-11.4l-5,-11.5l-4.4,-12.5l-2.3,-14l1.2,-14.8l5.4,-14.1l8.6,-12.1l10.2,-9.8l10.6,-8.4l10.8,-7.7l11.7,-6.9l12.7,-4.6l13.1,-0.6l12 4.4l9.9 8.4l7.5 10.4l6.3 10.6l6.2 10.3l6.4 10.9l5.4 12.6l2.4 14.5l-2.1 15.2l-6.6 13.9l-9.6 11.4l-10.7 9l-10.5 7.7l-10.5 7.7l-11.3 7.3l-12.4 5.6l-13.3 1.9z" fill="none" stroke="#CCE13A" stroke-width="1.2" stroke-linejoin="round"/>
<path d="M247.3,176.1l-6.5,-9.8l-4.7,-11l-2.4,-11.8l0.4,-12.1l3.2,-11.8l5.7,-10.8l7.3,-9.5l8.4,-8.3l9.3,-7.2l10.2,-6.1l11.1,-4.7l12,-2.8l12.5,-0.6l12.5 2.1l11.7 4.8l10.2 7.4l7.8 9.8l4.9 11.4l2 12l-0.2 11.9l-1.8 11.3l-2.5 11l-3.4 10.8l-4.7 10.8l-6.7 10.3l-8.9 8.8l-10.9 6.5l-12.2 3.9l-12.6 1l-12.3,-1.7l-11.6,-3.9l-10.5,-5.7l-9.3,-7.4z" fill="none" stroke="#DDE133" stroke-width="1.2" stroke-linejoin="round"/>
<path d="M226.6,197.9l-7.9,-8.6l-5.8,-10.3l-3.7,-11.5l-1.5,-12.3l1.1,-12.7l3.7,-12.5l6.2,-11.8l8.3,-10.3l9.8,-8.8l10.7,-7.1l11.5,-5.6l11.9,-3.7l12.2,-1.7l12 0.7l11.4 3l10.4 5.2l9.1 7.1l7.5 8.7l5.7 10.3l3.6 11.3l1.4 12.2l-1 12.5l-3.2 12.6l-5.4 12l-7.7 11l-9.8 9.2l-11.2 7.1l-11.9 4.7l-12.1 2.5l-12 0.9l-11.7,-0.7l-11.4,-2.4l-10.7,-4.4z" fill="none" stroke="#DBE134" stroke-width="1.2" stroke-linejoin="round"/>
<path d="M251.5,176.8l-11.8,-5.7l-10.9,-8.5l-7.8,-11.8l-2.6,-13.8l2.7,-14l6.3,-12.5l7.8,-10.7l7.8,-9.6l8.3,-8.8l9.7,-7.1l11.1,-4.1l11.7,-0.6l11 1.5l10.3 1.7l10.6 0.8l11.8 1l12.4 3.1l11.2 6.8l8.3 10.2l4.8 12.4l2.1 13.1l0 13.3l-2.3 13.1l-5.2 12.3l-8.5 10.3l-10.9 7.3l-11.7 4.5l-11.5 2.4l-10.9 1.5l-10.6 0.6l-10.5,-0.4l-10.6,-1.7l-10.8,-2.7z" fill="none" stroke="#C2E03F" stroke-width="1.2" stroke-linejoin="round"/>
<path d="M254.9,175.5l-4.5,-6.7l-3.6,-7.3l-3,-7.5l-2.3,-8.3l-0.5,-9.1l1.8,-9.7l4.2,-9.4l6,-8.5l6.8,-7.6l7.5,-6.8l8.2,-5.7l8.8,-3.9l8.9,-1.9l8.6,-0.1l8.2 1.1l7.9 1.9l7.7 3.2l6.5 5l4.6 7.2l1.9 8.8l-0.3 9.4l-1.6 9.3l-2.3 9.1l-3 9.2l-4.5 9l-6.2 8.3l-7.8 6.6l-8.5 5l-8.8 3.7l-8.9 2.9l-9 1.6l-8.8,-0.4l-7.9,-3z" fill="none" stroke="#E2E130" stroke-width="1.2" stroke-linejoin="round"/>
<path d="M356.1,187.1l-10.2 4.7l-11.2 1.3l-10.7,-0.6l-9.7,-0.2l-9.8 0.9l-10.8 1l-12,-1.1l-11.6,-4.7l-9.6,-8.6l-6.3,-11l-3.4,-11.7l-1.2,-11.5l0.5,-10.9l2.2,-10.2l4,-9.2l5.5,-7.9l6.2,-7.1l6.5,-7l7.4,-6.9l8.9,-6.1l10.8,-3.7l11.8 0.1l11.6 4l10.2 7.1l8.4 8.6l6.8 9.3l5.6 9.6l4.5 9.8l3.5 10.1l2.6 10.6l1.3 11.1l-0.7 11.3l-3.7 10.6z" fill="none" stroke="#F4E129" stroke-width="1.2" stroke-linejoin="round"/>
<path d="M375.7,150.2l-5.4 10.7l-7.6 9.2l-8.2 8.4l-8.1 8.2l-9.2 8l-11.3 7l-13.8 4.4l-15 1.1l-15,-1.7l-14.2,-3.3l-13.9,-4.1l-13.8,-5.1l-12.7,-7l-9.8,-9.4l-5.6,-11l-1.5,-11.6l1.2,-11.2l2.5,-10.8l3.8,-10.5l6.2,-10l9.4,-8.5l12.3,-6.2l13.8,-3.6l14,-2l14,-1.1l14.2,-0.5l14.7 0.9l14.8 2.9l14 5.4l12.2 7.6l9.9 9.5l6.9 10.9l2.8 11.8z" fill="none" stroke="#EFE12B" stroke-width="1.2" stroke-linejoin="round"/>
<path d="M338.7,174.5l-8.5 2.4l-8.2 1.8l-8 2.1l-8.6 2.3l-9.7 1.1l-10.2,-1.6l-9.5,-4.9l-7.7,-7.7l-5.4,-9.4l-3.1,-10l-1.2,-9.8l0.3,-9.4l1.4,-8.8l2.3,-8.4l3.1,-7.9l4.1,-7.6l5.5,-6.8l7,-5.4l8.2,-3.5l9.1,-1.4l9.3 0.2l9.4 1.5l9.5 2.9l8.9 4.9l7.7 7.1l5.4 8.8l3.1 9.7l1.6 9.4l1 9.3l0.6 9.3l-0.6 9.5l-3.1 8.8l-5.9 7z" fill="none" stroke="#EEE12B" stroke-width="1.2" stroke-linejoin="round"/>
<path d="M265.5,222.5l-8.7,-2.3l-8.7,-3.3l-8.3,-5.1l-6.9,-7.7l-4.7,-10.1l-2.3,-11.3l-0.5,-11.6l0.7,-11.6l1.8,-11.4l3.4,-11l5.3,-9.9l6.9,-8.3l7.8,-6.5l8.2,-5.3l8.6,-4.5l9.2,-3.3l9.6,-1l9.4 2l8.4 5.2l7 7.4l5.8 8.8l4.5 9.8l3.1 10.6l1.2 11.4l-0.9 11.5l-2.6 11.1l-3.8 10.6l-4.4 10.2l-5.6 9.8l-7.1 8.5l-8.6 6l-9.5 2.8l-9.4 0z" fill="none" stroke="#E7E12E" stroke-width="1.2" stroke-linejoin="round"/>
<path d="M317.3,203.8l-8.6 6l-9.9 4.3l-10.9 2.2l-11.4 0l-11.6,-2.3l-11.4,-4.6l-10.5,-6.8l-9.2,-8.9l-7.2,-10.5l-5,-11.5l-2.6,-12l-0.2,-11.7l1.7,-11l3.3,-10.3l4.6,-9.4l5.9,-8.5l7,-7.5l8.4,-6.3l9.7,-4.7l10.7,-2.8l11.6,-0.3l11.8 2.2l11.4 4.9l10.4 7.3l8.8 9.3l6.9 10.6l4.7 11.5l2.6 11.8l0.5 11.5l-1.2 11.1l-2.9 10.5l-4.3 9.6l-5.8 8.7z" fill="none" stroke="#F59223" stroke-width="1.2" stroke-linejoin="round"/>
<path d="M293.1,204l-10.2 4.6l-11.3 1.8l-11.8,-1.5l-11.2,-4.6l-10.2,-7.3l-8.7,-9.3l-6.8,-10.6l-4.8,-11.6l-3,-11.8l-1.5,-11.8l-0.4,-11.8l0.8,-11.8l2.3,-11.7l4.6,-11.1l7.1,-9.3l9.2,-6.7l10.5,-3.9l11.1,-1.5l11 0.3l11 2l10.8 3.8l10.2 5.7l9.4 7.7l8 9.6l6.5 11l4.4 12.1l2 12.6l-0.7 12.4l-3.3 11.6l-5.1 10.1l-6.4 8.9l-6.9 8.1l-7.7 7.4z" fill="none" stroke="#F48B23" stroke-width="1.2" stroke-linejoin="round"/>
<path d="M243.7,181l-8.2,-8.4l-6.5,-9.9l-4.7,-11l-2.6,-11.6l-0.6,-12.2l1.6,-12.2l3.9,-11.8l5.9,-11.1l7.7,-9.9l9.3,-8.6l10.5,-6.8l11.6,-4.7l12.1,-2.4l12.2 0l11.8 2.4l10.9 4.6l9.9 6.4l8.4 8.3l6.6 9.8l4.6 11l2.5 11.7l0.4 12.1l-1.5 12.1l-3.6 12l-5.6 11.2l-7.7 10.1l-9.4 8.5l-10.9 6.4l-11.6 4.3l-12 2.3l-12.1 0.2l-11.9,-2l-11.1,-4.3z" fill="none" stroke="#F27D23" stroke-width="1.2" stroke-linejoin="round"/>
<path d="M201.7,152.8l0.9,-13l3.6,-12.6l6,-11.7l8,-10.6l9.7,-9.3l11.2,-8l12.5,-6.2l13.5,-4.5l14.3,-2.3l14.6 0.1l14.2 2.6l13.4 5l12 7.3l10.3 9l8 10.7l5.6 11.9l2.9 12.7l-0.2 13l-3.1 12.7l-5.8 11.9l-8.2 10.8l-10 9.3l-11.7 7.6l-12.7 5.8l-13.6 3.9l-14.2 1.9l-14.3,-0.1l-14.2,-2.1l-13.6,-4.3l-12.6,-6.6l-10.8,-8.9l-8.3,-10.9l-5.2,-12.2zM267,195.3l-7.3,-8.1l-6.9,-8.4l-6.2,-9.4l-4.2,-10.7l-1,-11.7l2.4,-11.5l5.1,-10.5l6.5,-9.3l7.3,-8.3l8.2,-7.3l9.3,-6l10.1,-4.3l10.8,-2.8l11.2,-1.3l11.6 0.3l11.6 2.7l10.6 5.7l8.1 8.8l5.1 10.8l2.3 11.5l0.8 11.1l0.1 10.8l-0.6 10.9l-2.5 10.8l-4.8 10.1l-7 8.8l-8.4 7.4l-9.3 6.4l-10.2 5.4l-11.2 3.7l-11.8 0.8l-11.4,-2.9l-9.9,-5.9z" fill="none" stroke="#F59523" stroke-width="1.2" stroke-linejoin="round"/>
<path d="M287.3,205.4l-11.8,-3l-11.3,-4.2l-11,-5.6l-10.1,-7.8l-8.2,-10.2l-5.6,-12.2l-3,-13.2l-1,-13.4l0.6,-13.4l2.3,-13.4l5,-12.6l7.6,-10.9l9.8,-8.5l10.8,-6.2l11.1,-4.8l11.5,-4l12.2,-2.4l12.6 0.3l12.1 4.2l10.6 7.6l8.5 10l6.8 11.2l5.5 11.8l4.1 12.5l1.9 13.2l-0.8 13.5l-3.4 12.9l-5.3 12.1l-6.9 11.2l-8.2 10.2l-10 8.4l-11.6 5.5l-12.4 2.1z" fill="none" stroke="#F38823" stroke-width="1.2" stroke-linejoin="round"/>
<path d="M217.6,167.6l-4,-11.6l-2,-12.3l0.5,-12.8l3.2,-12.9l6.1,-12.3l8.6,-11.1l10.8,-9.6l12.2,-7.7l13.4,-5.8l14,-3.6l14.2,-1.4l14 0.9l13.4 3.5l12 5.8l10.4 8l8.1 9.7l5.7 11.2l3.3 12l0.9 12.5l-1.3 12.6l-3.4 12.6l-5.8 12.1l-8 11.3l-10.1 10l-12 8.3l-13.4 6.2l-14.1 3.8l-14.5 1.3l-14.2,-1.3l-13.1,-4l-11.7,-6.5l-9.6,-8.3l-7.8,-9.8z" fill="none" stroke="#F5B225" stroke-width="1.2" stroke-linejoin="round"/>
<path d="M216,158.4l-3.3,-12.3l-0.5,-12.9l2.8,-13l6.1,-12.2l8.7,-10.9l10.4,-9.4l11.5,-7.9l12.6,-6.5l13.5,-4.7l14.2,-2.6l14.4,-0.1l14 2.4l13.1 4.9l11.5 7.2l9.6 9.2l7.3 10.8l4.9 11.9l2.4 12.7l-0.2 13l-2.9 12.9l-5.8 12.2l-8.5 11l-10.6 9.1l-11.9 7.5l-12.5 6.1l-13.2 5l-14 3.6l-14.7 1.2l-14.5,-2l-13.1,-5.5l-10.9,-8.3l-8.5,-10l-6.8,-10.8z" fill="none" stroke="#F48A23" stroke-width="1.2" stroke-linejoin="round"/>
<path d="M360.4,191l-9.5 10.9l-11.5 8.8l-13.1 6.3l-14 3.8l-14.5 1.5l-14.7,-0.9l-14.5,-3.4l-13.6,-6.2l-12.2,-8.7l-10.3,-10.9l-8.1,-12.3l-6,-13.4l-3.9,-14.1l-1.6,-14.6l1.3,-14.6l4.4,-14l7.4,-12.6l9.9,-10.7l11.8,-8.4l13,-6.3l14,-4l14.5,-1.5l14.6 1.2l14.3 3.7l13.5 6.2l12.3 8.4l10.7 10.4l8.8 12.1l6.3 13.5l3.5 14.4l0.8 14.6l-2 14.5l-4.5 13.7z" fill="none" stroke="#E43523" stroke-width="1.2" stroke-linejoin="round"/>
<path d="M324.7,220.2l-13.8 4.3l-14.3 1.7l-14.5,-0.7l-14.3,-3.1l-13.7,-5.6l-12.7,-8.3l-10.9,-10.7l-8.8,-12.6l-6.5,-13.8l-4.2,-14.7l-2,-15l0.3,-15.1l3,-14.8l5.9,-13.7l8.5,-12.1l10.8,-9.8l12.5,-7.2l13.6,-4.8l14.3,-2.2l14.5 0.3l14.5 3.1l13.8 5.9l12.5 8.7l10.6 11l8.5 12.7l6.3 13.8l4.3 14.5l2.2 14.9l-0.1 15.1l-2.7 14.9l-5.5 14l-8.4 12.3l-11 9.9z" fill="none" stroke="#E23023" stroke-width="1.2" stroke-linejoin="round"/>
<path d="M235.2,205.6l-10,-10l-7.9,-11.8l-5.5,-13.2l-3.2,-14.2l-1.2,-14.8l1,-15.2l4,-15.2l7.6,-14.1l11,-11.6l13.4,-8.4l14.2,-5.5l14.2,-3.5l14.2,-2.3l14.4,-0.7l14.4 1.8l13.6 5.1l12.1 8.1l10 10.5l8 12.2l5.9 13.4l3.2 14.6l-0.1 15.2l-3.5 14.8l-6.2 13.9l-8.1 12.7l-9.3 11.8l-10.8 10.9l-12.8 8.9l-14.4 5.8l-15.2 1.9l-14.9,-1.8l-13.8,-4.6l-12.7,-6.5z" fill="none" stroke="#ED5623" stroke-width="1.2" stroke-linejoin="round"/>
<path d="M237,207.7l-10.5,-10.6l-8.4,-12.3l-6.1,-13.7l-3.7,-14.7l-0.9,-15.3l1.9,-15.4l4.8,-14.8l7.7,-13.7l10.2,-11.8l12.3,-9.6l13.8,-6.9l14.5,-4.2l14.9,-1.7l14.8 0.6l14.4 2.9l13.9 5.2l12.8 7.7l11.1 10.2l8.8 12.3l6.1 14l3.1 15l0.3 15.4l-2.5 15.2l-5.2 14.5l-7.7 13.5l-10 11.8l-11.9 9.7l-13.4 7.4l-14.5 4.9l-14.9 2.3l-15,-0.5l-14.7,-3.2l-13.7,-5.8z" fill="none" stroke="#E12E23" stroke-width="1.2" stroke-linejoin="round"/>
<path d="M309.2,223l-14.8 2l-14.9,-0.8l-14.5,-3.4l-13.7,-5.8l-12.7,-7.9l-11.6,-9.9l-9.7,-11.9l-7.5,-13.8l-4.4,-15.1l-1.3,-15.8l1.9,-15.7l4.9,-14.9l7.7,-13.5l10.1,-11.7l12,-9.3l13.3,-6.8l14.2,-4.3l14.6,-2.1l14.7 0.1l14.6 2.5l14.2 5.2l13 7.9l11.3 10.4l9.3 12.4l6.9 14l4.2 15.1l1.4 15.6l-1.7 15.6l-4.9 14.9l-7.7 13.5l-9.9 11.6l-11.8 9.6l-13.1 7.4z" fill="none" stroke="#E63A23" stroke-width="1.2" stroke-linejoin="round"/>
<path d="M362.5,191.1l-10 10.3l-11.7 8.3l-12.6 6.7l-13.6 4.9l-14.5 2.7l-15.1,-0.1l-15,-3.5l-13.9,-6.7l-12.3,-9.3l-10.5,-11l-8.6,-12.3l-6.7,-13.3l-4.5,-14.2l-1.7,-14.7l1.5,-14.6l4.6,-13.8l7.3,-12.5l9.5,-10.7l11.2,-8.9l12.7,-7l13.9,-4.6l14.7,-2.2l15.1 0.7l14.8 3.7l13.9 6.6l12.3 9l10.5 10.9l8.7 12.3l6.7 13.3l4.6 14.1l2.1 14.8l-1.1 14.7l-4.6 14z" fill="none" stroke="#EA4323" stroke-width="1.2" stroke-linejoin="round"/>
<path d="M222.9,197.4l-7.8,-12.4l-5.4,-13.5l-2.9,-14.5l-0.1,-15l2.6,-15.1l5.1,-14.7l7.7,-13.9l10.2,-12.5l12.4,-10.6l14.2,-8.1l15.3,-5.3l15.9,-2.3l15.7 0.6l15 3.6l13.7 6.5l11.8 9.2l9.5 11.1l7.3 12.5l5.2 13.5l3.2 14.3l0.9 15l-2 15.2l-5.2 14.9l-8.1 13.8l-10.7 12.1l-12.6 10.2l-14.1 8.1l-15.1 5.6l-15.9 2.7l-15.7,-0.6l-15,-3.9l-13.5,-6.7l-11.8,-9z" fill="none" stroke="#E73C23" stroke-width="1.2" stroke-linejoin="round"/>
<path d="M337.9,212.8l-12.8 7.5l-14 5.3l-14.8 2.6l-15.2,-0.6l-15,-3.7l-14,-6.5l-12.8,-8.8l-11.2,-10.7l-9.4,-12.6l-6.9,-14.1l-3.8,-15.2l-0.7,-15.5l2.2,-15.1l4.6,-14.4l6.7,-13.5l8.8,-12.2l11.1,-10.2l13.1,-7.6l14.5,-4.4l15.1,-1.4l15.1 1.3l14.7 3.7l14 6l13 8.4l11.3 10.6l9.4 12.5l6.9 14.1l4.3 15.1l1.3 15.6l-1.8 15.5l-4.8 14.5l-7.7 13.1l-9.8 11.3z" fill="none" stroke="#E22F23" stroke-width="1.2" stroke-linejoin="round"/>
<path d="M215.8,170.6l-4.6,-14.4l-1.6,-15.2l1.6,-15.1l4.7,-14.5l7.7,-13.1l10.1,-11l11.8,-8.9l12.9,-6.7l13.5,-4.8l14.1,-2.7l14.3,-0.5l14.2 2.1l13.7 4.7l12.7 7l11.4 9l10 11l7.8 12.8l5.1 14.4l1.7 15.2l-2 15.2l-5.2 14.3l-7.8 12.9l-9.8 11.2l-11.4 9.3l-12.8 7.1l-13.7 4.6l-14.2 2.2l-14.3,-0.1l-14,-2.2l-13.7,-4.3l-13,-6.4l-11.8,-8.9l-10,-11.1z" fill="none" stroke="#E83F23" stroke-width="1.2" stroke-linejoin="round"/>
<path d="M312.2,221.8l-14.4 1.8l-14.3,-1l-13.8,-3.4l-13,-5.1l-12.5,-6.7l-11.6,-8.5l-10,-10.8l-7.3,-12.9l-4,-14.3l-0.9,-14.8l1.5,-14.5l3.2,-14.3l5.1,-13.9l7.7,-12.9l10.6,-10.7l13.1,-7.3l14.3,-3.7l14.5,-0.9l14 1l13.8 2.3l13.7 3.9l12.9 6.4l11.2 9.3l8.9 11.7l6.3 13.2l4.1 14l2 14.4l-0.2 14.8l-2.9 14.5l-5.8 13.8l-8.7 12.2l-10.9 10.1l-12.7 7.5z" fill="none" stroke="#E43423" stroke-width="1.2" stroke-linejoin="round"/>
<path d="M338.3,213.7l-12.8 7l-13.9 4.3l-14.6 1.5l-14.7,-1.4l-14.3,-4l-13.6,-6.2l-12.6,-8.4l-11.2,-10.4l-9.3,-12.3l-6.9,-13.8l-4.2,-14.8l-1.6,-15.1l1,-15.1l3.5,-14.6l6.2,-13.6l8.8,-11.9l11.3,-9.4l13.1,-6.6l14.1,-3.7l14.5,-1.2l14.6 1l14.4 3.4l13.8 5.9l12.7 8.5l10.9 10.7l9 12.5l6.8 13.8l4.5 14.7l1.9 15.1l-0.8 15.2l-3.7 14.6l-6.6 13.3l-9.2 11.5z" fill="none" stroke="#E33323" stroke-width="1.2" stroke-linejoin="round"/>
<path d="M210.1,162.8l-1.8,-14.9l1.3,-15l3.6,-14.6l5.7,-14l8.1,-13l10.8,-11.1l13.1,-8.2l14.6,-5.1l15.1,-2.4l15,-0.5l15 1.3l14.8 3.4l14.1 6.3l12.2 9.4l9.6 11.9l6.9 13.6l4.5 14.4l2.1 14.8l-0.7 15.1l-3.9 14.6l-6.9 13.4l-9.2 11.9l-10.8 10.3l-12 9.1l-13.4 7.5l-14.9 4.8l-15.7 1.2l-15.4,-2.8l-14.2,-6l-12.8,-8l-11.5,-9.6l-10.1,-11l-8,-12.6zM226.9,187.8l-7.9,-11.9l-5.6,-13.3l-3.1,-14.2l-0.5,-14.7l2.3,-14.7l5.4,-14l8.3,-12.5l10.7,-10.3l12.3,-8.1l13.1,-6.2l13.7,-4.4l14.3,-2.7l14.6,-0.2l14.4 2.8l13.5 5.9l11.9 8.6l9.8 10.8l7.7 12.4l5.2 13.6l2.5 14.3l-0.6 14.6l-3.4 14.2l-5.7 13.3l-7.4 12.5l-9.2 11.4l-11 10l-13 7.6l-14.3 4.6l-14.8 1.2l-14.6,-1.8l-13.9,-4.2l-12.9,-6.2l-11.7,-8.2z" fill="none" stroke="#E33223" stroke-width="1.2" stroke-linejoin="round"/>
<path d="M348.1,200l-10.5 9.9l-12.5 7.3l-13.9 4.6l-14.5 1.7l-14.6,-0.7l-14.5,-3.1l-13.8,-5.6l-12.7,-8l-11.1,-10.2l-9.1,-11.9l-6.8,-13.3l-4.4,-14.2l-1.6,-14.7l1.3,-14.5l4,-13.8l6.4,-12.8l8.5,-11.4l10.4,-9.8l12.1,-7.7l13.6,-5.1l14.6,-2.1l14.7 1l14.4 3.8l13.6 5.8l12.7 7.8l11.5 9.8l9.5 11.7l6.9 13.4l3.8 14.4l0.9 14.7l-1.5 14.3l-3.6 13.8l-5.7 13.1z" fill="none" stroke="#E53623" stroke-width="1.2" stroke-linejoin="round"/>
<path d="M238.2,186.3l-4.5,-5.2l-3.9,-5.7l-3.3,-6l-2.7,-6.2l-2,-6.5l-1.4,-6.6l-0.7,-6.7l-0.1,-6.6l0.5,-6.6l1.2,-6.5l1.7,-6.3l2.3,-6.1l2.9,-5.9l3.5,-5.6l4,-5.1l4.6,-4.7l5.1,-4.2l5.5,-3.7l5.9,-3.1l6.1,-2.5l6.4,-1.9l6.6,-1.3l6.6,-0.8l6.8,-0.2l6.7 0.4l6.7 1l6.7 1.5l6.5 2.2l6.3 2.7l6.1 3.4" fill="none" stroke="#E83E23" stroke-width="1.8" stroke-linejoin="round"/>
<path d="M238.6,189l-4.4,-4.9l-4,-5.4l-3.4,-5.7l-2.8,-6.1l-2.1,-6.3l-1.5,-6.5l-0.7,-6.7l0.1,-6.6l0.8,-6.5l1.4,-6.4l2.1,-6.2l2.7,-5.9l3.2,-5.6l3.6,-5.3l4.1,-4.9l4.5,-4.6l4.8,-4.1l5.2,-3.8l5.5,-3.2l5.8,-2.8l6,-2.3l6.2,-1.7l6.5,-1.2l6.5,-0.6l6.6 0l6.5 0.7l6.6 1.2l6.4 1.9l6.2 2.5l5.9 3.2M221.9,157.5l-0.8,-6.7l-0.1,-6.8l0.6,-6.7l1.2,-6.5l1.7,-6.4l2.3,-6.1l2.8,-5.9l3.3,-5.6l3.8,-5.2l4.2,-4.8l4.7,-4.4l5,-3.9l5.3,-3.5l5.6,-2.9l5.8,-2.5l6,-2l6.2,-1.5l6.3,-1l6.4,-0.4l6.4 0.1l6.5 0.8l6.3 1.4l6.2 2.2l6 2.8l5.6 3.5l5.2 4.1l4.8 4.5l4.4 4.9l4 5.3l3.5 5.5" fill="none" stroke="#E12E23" stroke-width="1.8" stroke-linejoin="round"/>
<path d="M266.6,76l6.4,-2.2l6.6,-1.6l6.7,-0.9l6.8,-0.3l6.7 0.3l6.6 1l6.5 1.5l6.4 2.1l6.1 2.7l5.8 3.1l5.6 3.7l5.3 4.1l4.8 4.6l4.4 5.2l3.8 5.5l3.3 6l2.5 6.3l1.8 6.6l1 6.7l0.2 6.8l-0.5 6.8l-1.1 6.7l-1.8 6.6l-2.3 6.3l-2.8 6.1l-3.3 5.9l-3.6 5.6l-4 5.4l-4.5 5.1l-4.8 4.7" fill="none" stroke="#EA4323" stroke-width="1.8" stroke-linejoin="round"/>
<path d="M241.3,97.7l4.3,-4.7l4.7,-4.4l5.1,-3.8l5.4,-3.3l5.8,-2.8l6,-2.2l6.2,-1.6l6.3,-0.9l6.4,-0.3l6.4 0.3l6.3 1l6.1 1.6l6 2.2l5.7 2.8l5.3 3.2l5 3.8l4.7 4.1l4.2 4.5l3.9 4.9l3.4 5.1l3 5.4l2.6 5.7l2.1 5.8l1.6 6l1.1 6.2l0.5 6.2l0 6.4l-0.7 6.3l-1.3 6.2l-2 6.1" fill="none" stroke="#EB4A23" stroke-width="1.8" stroke-linejoin="round"/>
<path d="M220.1,142.4l0.5,-6.8l1.1,-6.7l1.7,-6.6l2.2,-6.4l2.7,-6.1l3.3,-5.9l3.7,-5.6l4.3,-5.1l4.7,-4.8l5.2,-4.2l5.5,-3.7l6,-3l6.2,-2.5l6.4,-1.8l6.5,-1.1l6.7,-0.5l6.6 0.1l6.7 0.7l6.5 1.2l6.5 1.9l6.2 2.4l6.1 3l5.8 3.6l5.4 4.2l5 4.7l4.5 5.2l4 5.6l3.4 6l2.8 6.3l2.1 6.6" fill="none" stroke="#EB4923" stroke-width="1.8" stroke-linejoin="round"/>
<path d="M212.1,151.2l-0.6,-7.5l0,-7.5l0.7,-7.5l1.5,-7.3l2.1,-7.2l2.8,-6.9l3.5,-6.5l4.1,-6.2l4.6,-5.7l5.1,-5.3l5.6,-4.8l6,-4.2l6.3,-3.6l6.7,-3.1l6.8,-2.5l7.1,-1.9l7.2,-1.2l7.4,-0.5l7.3 0.2l7.4 0.9l7.2 1.6l7 2.4l6.8 3l6.5 3.7l6.1 4.2l5.8 4.8l5.3 5.2l4.8 5.7l4.4 6.2l3.7 6.5" fill="none" stroke="#E73D23" stroke-width="1.8" stroke-linejoin="round"/>
<path d="M270.4,80.8l6.3,-1.6l6.3,-1l6.5,-0.3l6.4 0.3l6.4 0.8l6.3 1.5l6 2l5.9 2.6l5.6 3.1l5.3 3.6l5 4.1l4.4 4.6l4 5l3.5 5.4l2.9 5.6l2.4 5.9l1.8 6.1l1.3 6.3l0.7 6.3l0.2 6.3l-0.4 6.4l-0.9 6.3l-1.5 6.2l-2.1 6l-2.7 5.9l-3.2 5.5l-3.8 5.2l-4.3 4.8l-4.8 4.3l-5.1 3.8" fill="none" stroke="#E53823" stroke-width="1.8" stroke-linejoin="round"/>
<path d="M221.9,170.3l-2.4,-6.8l-1.8,-7l-1.3,-7.1l-0.7,-7.2l-0.1,-7.3l0.6,-7.3l1.3,-7.1l2,-7.1l2.7,-6.7l3.4,-6.5l4.1,-6l4.8,-5.6l5.2,-5l5.8,-4.5l6.2,-3.8l6.4,-3.3l6.8,-2.6l7,-2l7.1,-1.4l7.3,-0.8l7.3,-0.1l7.3 0.6l7.3 1.2l7.1 2l6.9 2.7l6.6 3.4l6.2 4.1l5.8 4.6l5.3 5.2l4.7 5.7" fill="none" stroke="#E33123" stroke-width="1.8" stroke-linejoin="round"/>
<path d="M262.6,80.9l5.8,-2.4l6,-1.9l6.1,-1.4l6.2,-0.8l6.3,-0.1l6.3 0.4l6.1 1.1l6.1 1.7l5.8 2.2l5.6 2.9l5.3 3.3l5 3.8l4.6 4.3l4.1 4.6l3.7 5l3.3 5.4l2.7 5.6l2.2 5.9l1.6 6l1 6.2l0.5 6.3l-0.1 6.2l-0.8 6.3l-1.3 6.1l-1.9 6.1l-2.5 5.8l-3 5.5l-3.5 5.2l-4 4.9l-4.5 4.5M240.9,197.3l-4.6,-5.1l-4,-5.5l-3.6,-5.9l-3,-6.1l-2.5,-6.4l-1.9,-6.6l-1.3,-6.8l-0.6,-6.8l-0.1,-6.9l0.6,-7l1.3,-6.8l1.8,-6.7l2.6,-6.5l3.1,-6.3l3.7,-6l4.4,-5.5l4.9,-5.1l5.3,-4.6l5.9,-4l6.2,-3.3l6.5,-2.7l6.7,-2.1l6.9,-1.3l6.9,-0.8l7,-0.1l6.9 0.4l6.9 1.1l6.8 1.6l6.6 2.2l6.4 2.7" fill="none" stroke="#E63A23" stroke-width="1.8" stroke-linejoin="round"/>
<path d="M213.6,135.5l1.3,-7.4l2.1,-7.3l2.7,-6.9l3.3,-6.7l3.8,-6.3l4.3,-5.9l4.8,-5.6l5.2,-5.1l5.6,-4.7l6,-4.1l6.4,-3.5l6.7,-2.7l7,-2l7.2,-1.1l7.3,-0.3l7.2 0.4l7.2 1.2l7 1.8l6.8 2.4l6.7 2.9l6.4 3.5l6.1 4l5.9 4.5l5.4 5.1l5 5.6l4.4 6.1l3.8 6.7l3 7l2.3 7.2l1.6 7.5" fill="none" stroke="#E43523" stroke-width="1.8" stroke-linejoin="round"/>
<path d="M264.7,216l-6.6,-2.7l-6.4,-3.3l-6,-3.9l-5.6,-4.6l-5,-5.1l-4.4,-5.6l-3.8,-6.1l-3,-6.4l-2.5,-6.6l-1.8,-6.7l-1.3,-6.8l-0.8,-6.9l-0.4,-6.9l0,-7l0.4,-7l1.1,-6.9l1.7,-7l2.4,-6.7l3.3,-6.5l4,-6l4.8,-5.5l5.4,-4.8l5.9,-4.1l6.3,-3.5l6.6,-2.8l6.7,-2.3l6.8,-1.7l6.9,-1.3l7,-0.8l7.1,-0.3" fill="none" stroke="#E84023" stroke-width="1.8" stroke-linejoin="round"/>
<path d="M240.2,197.5l-5.6,-4.9l-5.1,-5.5l-4.5,-5.9l-3.9,-6.3l-3.3,-6.6l-2.6,-6.9l-1.8,-7.1l-1,-7.2l-0.3,-7.2l0.4,-7.2l1.2,-7l1.9,-6.9l2.6,-6.6l3.1,-6.3l3.6,-6l4.1,-5.6l4.5,-5.4l5,-5l5.4,-4.6l5.8,-4.2l6.3,-3.6l6.6,-3.1l7,-2.3l7.3,-1.6l7.4,-0.8l7.5 0l7.5 0.9l7.4 1.6l7.1 2.3l6.9 2.9" fill="none" stroke="#E23023" stroke-width="1.8" stroke-linejoin="round"/>
</g>
<clipPath id="hc3"><circle cx="478.25" cy="143.45" r="83.4"/></clipPath>
<g clip-path="url(#hc3)">
<radialGradient id="hg3" gradientUnits="userSpaceOnUse" cx="478.25" cy="143.45" r="83.4"><stop offset="0" stop-color="#606260"/><stop offset="0.71" stop-color="#606260"/><stop offset="0.74" stop-color="#4890D4"/><stop offset="0.78" stop-color="#4CB4DC"/><stop offset="0.85" stop-color="#58C4CC"/><stop offset="0.88" stop-color="#84D090"/><stop offset="0.905" stop-color="#D0DC44"/><stop offset="0.925" stop-color="#F08C2C"/><stop offset="0.95" stop-color="#E84C24"/><stop offset="1" stop-color="#E63A22"/></radialGradient>
<circle cx="478.25" cy="143.45" r="83.4" fill="url(#hg3)"/>
<path d="M511.2,201.3l-11.9 5.5l-12.7 2.8l-13.1 0.3l-12.9,-2.5l-12.2,-5.4l-10.6,-8l-8.5,-10.2l-6.2,-11.5l-4.2,-12.3l-2.4,-12.7l-0.4,-13.1l2,-13.1l5.1,-12.6l8.1,-10.8l10.7,-8.3l12.5,-5l13.3,-1.7l13.1 1.5l12.3 3.9l11.4 5.6l10.6 7l9.7 8.6l8.1 10.6l5.6 12.3l2.4 13.3l-0.9 13.5l-3.8 12.8l-6.3 11.6l-8.5 10z" fill="#606260"/>
<ellipse cx="470.25" cy="137.45" rx="50" ry="46" fill="#606260"/>
<path d="M450.3,201.9l-9.9,-5.6l-8.3,-7.8l-6.4,-9.2l-4.9,-10l-3.6,-10.6l-2.1,-11l-0.6,-11.4l1.2,-11.7l3.4,-11.3l5.6,-10.6l7.5,-9.1l8.8,-7.6l9.9,-5.8l10.6,-4.1l11,-2.3l11.2 0l10.8 2.4l10 5.1l8.5 7.2l6.9 8.7l5.4 9.9l3.9 10.6l2.3 11.3l0.3 11.6l-2 11.7l-4.3 11l-6.1 10l-7.5 8.7l-8.4 7.7l-9.3 6.5l-10.3 5.1l-11.1 3l-11.5 0.3z" fill="none" stroke="#2E53C6" stroke-width="1.15" stroke-linejoin="round"/>
<path d="M440.7,205.8l-9,-7.5l-7.1,-9.3l-5.1,-10.6l-3.1,-11.5l-0.9,-12l1.3,-12.1l3.5,-11.7l5.4,-10.9l7,-9.8l8.3,-8.7l9.5,-7.4l10.5,-5.9l11.4,-4.1l11.8,-1.8l11.9 0.7l11.3 3.4l10.2 5.8l8.5 7.9l6.8 9.5l4.8 10.6l3.1 11.3l1.2 11.8l-0.8 12l-2.8 11.8l-5 11.3l-7 10.1l-8.6 8.7l-10 7l-10.8 5.2l-11.3 3.5l-11.7 1.5l-11.7,-0.6l-11.3,-2.9z" fill="none" stroke="#2E55C8" stroke-width="1.15" stroke-linejoin="round"/>
<path d="M484.7,212.3l-11.1,-1.1l-10.8,-3.1l-10.2,-5.2l-9,-7.3l-7.4,-9l-5.7,-10.4l-3.9,-11.3l-1.7,-11.9l0.5,-12l2.8,-11.6l4.9,-10.7l6.5,-9.6l7.9,-8.4l8.9,-7.1l10,-5.5l10.9,-3.5l11.4,-1l11.3 1.4l10.9 3.8l9.9 5.9l8.7 7.7l7.1 9.3l5.3 10.4l3.4 11.2l1.6 11.6l-0.1 11.8l-1.8 11.7l-3.7 11.4l-6 10.4l-8.1 8.7l-9.7 6.5l-10.7 4.2l-11 2.3z" fill="none" stroke="#2E52C5" stroke-width="1.15" stroke-linejoin="round"/>
<path d="M407.2,184.6l-4.6,-11l-1.8,-11.7l0.3,-11.9l1.8,-11.7l3,-11.7l4.8,-11.5l7.2,-10.6l9.8,-8.9l11.5,-6.3l12.3,-4l12.5,-2.2l12.6,-0.8l12.5 1.1l11.9 3.6l10.3 6.4l8 8.8l5.8 10.1l4.1 10.7l2.9 11l1.8 11.4l-0.2 12.1l-2.9 12.1l-5.8 11.4l-8.3 10l-10 8.4l-11.4 6.5l-12.1 4.5l-12.6 2.2l-12.4,-0.1l-12.1,-2.1l-11.4,-3.8l-10.7,-5.4l-9.4,-7.3z" fill="none" stroke="#2F57CA" stroke-width="1.15" stroke-linejoin="round"/>
<path d="M413.9,145l0.2,-12.6l2.6,-12.4l4.9,-11.8l6.9,-10.9l8.7,-9.8l10.5,-8.2l12,-6.3l13.1,-3.9l13.7,-1.2l13.7 1.5l13 4l11.9 6.2l10.5 8.2l8.7 9.8l6.5 11.1l4.3 12.1l1.9 12.5l-0.3 12.7l-2.5 12.4l-4.7 11.9l-6.9 11l-8.9 9.6l-10.7 7.9l-12 6l-13 4l-13.6 1.6l-13.8,-1.1l-13.1,-3.7l-12,-6.4l-10.3,-8.5l-8.4,-10l-6.4,-11.2l-4.3,-12z" fill="none" stroke="#46BCDB" stroke-width="1.15" stroke-linejoin="round"/>
<path d="M483.5,196.5l-12.1 1.4l-12.2,-0.8l-12,-3.3l-11,-5.9l-9.5,-8.2l-7.5,-9.9l-5.5,-11l-3.7,-11.7l-1.9,-12l-0.1,-12.2l1.9,-12.1l4.2,-11.5l6.4,-10.6l8.3,-9.1l9.9,-7.2l11.1,-5.3l11.8,-3.1l12.2,-1l12.2 1.5l11.7 3.7l10.8 6l9.4 8l7.8 9.5l6.1 10.6l4.2 11.6l2.2 12.1l0.1 12.4l-2.3 12.2l-4.6 11.5l-6.8 10.2l-8.6 8.7l-9.9 7l-11 5.1zM449.3,199.8l-9.6,-6.9l-8.3,-8.6l-6.7,-10l-4.8,-11.3l-2.5,-12.2l0,-12.6l2.6,-12.4l5.2,-11.5l7.5,-10.1l9.2,-8.3l10.3,-6.4l10.9,-4.6l11.3,-3.1l11.6,-1.7l11.9,-0.1l11.9 2l11.4 4.5l10 7.2l7.8 9.6l5.4 11.1l3.1 11.8l1.3 12l-0.3 12.1l-1.9 12l-3.8 11.7l-6.1 10.9l-8.4 9.4l-10.3 7.2l-11.4 4.8l-11.8 2.5l-11.9 0.5l-11.7,-1.3l-11.3,-3.2z" fill="none" stroke="#46B7E6" stroke-width="1.15" stroke-linejoin="round"/>
<path d="M440,202.6l-7.6,-8.3l-6.2,-9.5l-4.4,-10.7l-2.5,-11.5l0,-12.2l2.6,-12.1l5,-11.6l6.8,-10.6l8.5,-9.4l9.7,-7.8l10.9,-5.9l11.5,-3.7l11.7,-1.4l11.6 0.6l11.1 2.3l10.5 4.1l9.7 5.8l8.2 7.9l6.3 9.7l4 11l1.7 11.8l-0.5 12.1l-2.5 12.1l-4.6 11.6l-6.6 10.7l-8.5 9.3l-9.9 7.5l-10.9 5.8l-11.4 3.9l-11.7 2.2l-11.7 0l-11.3,-2.3l-10.4,-4.7z" fill="none" stroke="#46BAE3" stroke-width="1.15" stroke-linejoin="round"/>
<path d="M549.4,155.1l-4.1 11.6l-5.8 11.1l-8.1 10l-10.4 7.7l-12.1 4.9l-12.8 2l-12.9,-0.2l-12.5,-1.8l-12.4,-3l-12.2,-4.5l-11.6,-6.7l-9.9,-9.1l-7.3,-11.3l-4,-12.7l-0.6,-13l2.1,-12.6l4,-11.6l5.2,-10.9l6.1,-10.3l7.6,-9.8l9.2,-8.5l11.2,-6.6l12.6,-3.9l13.3,-0.6l13.1 2.1l12.5 4.3l11.6 6l10.6 7.7l9.1 9.4l6.8 11l4.1 12.3l1.3 12.6l-1.1 12.4z" fill="none" stroke="#46B8E6" stroke-width="1.15" stroke-linejoin="round"/>
<path d="M431.8,185.4l-8.8,-8l-7,-9.7l-5,-10.7l-3.6,-11.3l-2.1,-11.9l-0.5,-12.4l2.2,-12.4l5.3,-11.6l8.1,-9.8l10.1,-7.6l11,-5.7l11.4,-4.2l12,-2.5l12.1,-0.2l11.9 2.6l10.9 5.2l9.6 7l8.4 8.1l7.6 9l6.4 10.1l4.4 11.4l1.6 12.2l-1.3 12.3l-3.6 11.8l-5.4 11.1l-7 10.3l-8.7 9l-10.6 6.9l-11.9 4l-12.4 1.1l-12.1,-1.1l-11.6,-2.8l-11.1,-4.3zM413.7,172.4l-3.3,-12.2l-2,-12.3l-1,-12.6l0.7,-13.2l3.8,-13.3l7.4,-12.3l10.5,-10.3l12.3,-7.8l13.2,-5.8l13.5,-4.1l13.8,-2.4l13.9 0l13.3 2.7l12.2 5.3l10.6 7.3l9.2 8.9l7.4 10.3l5.3 11.6l2.6 12.7l-0.4 13.1l-3.1 13.1l-5.2 12.5l-7.2 12l-9.3 10.8l-11.4 8.9l-13.1 6.3l-13.8 3.6l-13.9 1.3l-13.7,-0.2l-13.5,-1.8l-13,-4l-11.4,-6.9l-8.7,-9.7z" fill="none" stroke="#46C0CB" stroke-width="1.15" stroke-linejoin="round"/>
<path d="M464,201l-10,-5.2l-9.6,-5.9l-9.4,-6.8l-8.5,-8.6l-6.4,-10.7l-3.2,-12.1l0,-12.6l2.3,-12.2l3.9,-11.8l5.4,-11.3l7.3,-10.3l9.6,-8.3l11.3,-5.3l12.2,-2.2l12 0.2l11.4 1.6l11.1 2.6l10.8 3.9l10.1 5.8l8.9 7.9l7.1 9.6l5.3 10.8l3.4 11.8l1.4 12.3l-1.1 12.5l-3.8 12.1l-6.4 10.9l-8.2 9.4l-9.7 7.9l-10.8 6l-11.7 3.6l-12.1 0.8l-11.7,-2.1z" fill="none" stroke="#46BBDE" stroke-width="1.15" stroke-linejoin="round"/>
<path d="M408.4,153.9l-1.7,-10.9l0.8,-11l2.5,-10.9l3.7,-10.8l5.4,-10.6l7.7,-9.7l10.3,-7.4l12,-4.4l12.5,-1.5l12.3 0.6l11.8 1.9l11.3 3.3l10.3 5.3l8.6 7.6l6.2 9.2l4.3 9.9l3.2 10.1l2.6 10.3l1.4 11l-1 11.4l-4.1 11.1l-7 9.8l-8.9 8.3l-10.1 6.9l-11.1 5.7l-12.2 3.6l-12.6 0.5l-12.1,-2.8l-10.6,-5.6l-9.1,-6.9l-8,-7.4l-7.5,-7.8l-6.4,-8.8z" fill="none" stroke="#46BCDA" stroke-width="1.15" stroke-linejoin="round"/>
<path d="M406.6,171.2l-4.1,-12.3l-2,-12.9l0.3,-13.2l3,-13l5.9,-12.2l8.7,-10.4l10.8,-8.2l11.9,-5.7l12.4,-3.7l12.6,-2.3l12.7,-0.8l13 0.7l12.9 2.9l12.3 5.5l10.9 8.1l8.7 10.4l5.9 12.2l3 13.2l-0.1 13.3l-2.8 12.9l-4.7 12l-6.3 11.1l-7.4 10.3l-8.8 9.4l-10.4 8.2l-11.9 6.2l-13.1 3.4l-13.6 0.4l-13.3,-2.6l-12.3,-5.1l-11,-7.2l-9.5,-8.9l-7.8,-10.3z" fill="none" stroke="#46C0CC" stroke-width="1.15" stroke-linejoin="round"/>
<path d="M533.2,188.7l-7.9 8.8l-9.5 7.4l-11.1 4.9l-12.1 1.6l-12,-1.3l-11.5,-3.3l-10.9,-4.2l-10.9,-4.9l-10.5,-6.5l-8.9,-8.8l-6.1,-11.1l-2.6,-12.2l0.1,-12.2l1.9,-11.8l2.8,-11.3l4.1,-11l6.1,-10.2l8.5,-8.4l10.3,-6.1l11.4,-3.7l11.7,-1.9l11.8,-0.4l11.9 1.5l11.6 3.7l10.6 6.2l9.1 8.1l7.5 9.6l6 10.6l4.1 11.6l1.6 12l-1.2 12.1l-3.7 11.3l-5.5 10.4z" fill="none" stroke="#46C0C9" stroke-width="1.15" stroke-linejoin="round"/>
<path d="M435.5,191.6l-8.6,-7.4l-6.7,-9.3l-4.6,-10.7l-2.7,-11.4l-0.9,-11.8l0.8,-12.2l2.9,-12.1l5.1,-11.6l7.3,-10.5l9.2,-8.8l10.3,-6.8l11.1,-5l11.3,-3.1l11.6,-1.4l11.4 0.6l11 2.9l10 5.2l8.5 7.4l6.7 9.1l4.8 10.5l3 11.3l1.1 11.9l-1 12.2l-3 12.2l-5.3 11.5l-7.4 10.4l-9.1 8.8l-10.3 6.8l-11 4.9l-11.4 3.2l-11.5 1.4l-11.5,-0.5l-11,-2.6zM414.1,177.6l-4.8,-11.7l-1.5,-12.6l1.5,-12.8l3.4,-12.3l4.7,-12l6.3,-11.6l8.7,-10.5l11.1,-8.2l12.8,-5.1l13.2,-2.3l12.9,-0.7l12.8 0l13 0.9l12.9 3l11.5 6.2l8.9 9.3l5.9 11.3l3.6 12l2.1 12.3l0.5 12.7l-2 12.8l-5.3 12.2l-8.5 10.7l-10.4 8.7l-11.1 7.1l-11.6 6.2l-12.3 5l-13.1 3.2l-13.4 0.2l-12.9,-2.9l-11.7,-5.4l-10.4,-7.1l-9.3,-8.5z" fill="none" stroke="#46BBDD" stroke-width="1.15" stroke-linejoin="round"/>
<path d="M555.2,151.7l-0.7 12.7l-3.2 12.4l-6.1 11.6l-8.8 10.2l-10.9 8.1l-12.5 5.7l-13.2 3.4l-13.6 1.2l-13.5,-0.8l-13.1,-2.8l-12.4,-4.9l-11.3,-6.8l-9.8,-8.6l-7.8,-10.2l-5.7,-11.3l-3.6,-12l-1.5,-12.5l0.9,-12.6l3.4,-12.4l6.1,-11.6l8.9,-10.1l10.9,-7.9l12.5,-5.7l13.1,-3.5l13.5,-1.4l13.6 0.5l13.2 2.6l12.6 4.8l11.2 7l9.5 8.9l7.5 10.4l5.6 11.3l3.6 11.9z" fill="none" stroke="#46BFCF" stroke-width="1.15" stroke-linejoin="round"/>
<path d="M507.5,203l-11 5.5l-12.1 2.6l-12.6,-1l-12,-4.2l-11,-6.7l-9.7,-8.1l-8.7,-9.2l-7.2,-10.5l-5.3,-11.7l-2.7,-12.4l-0.2,-12.5l1.8,-12.1l3.2,-11.7l4.7,-11.2l6.6,-10.2l8.8,-8.3l10.6,-5.7l11.6,-2.9l11.9,-0.8l11.9 0.8l11.9 2.1l11.9 4.2l11 6.7l9.2 9.5l6.7 11.4l4.2 12.4l2 12.6l0.1 12.5l-1.8 12.1l-3.8 11.3l-5.5 10.4l-7 9.4l-8.1 8.4z" fill="none" stroke="#54C997" stroke-width="1.15" stroke-linejoin="round"/>
<path d="M407.3,183.6l-4.7,-11.4l-2.5,-12.1l-0.2,-12.4l2,-12.4l4.5,-11.9l6.8,-10.9l8.9,-9.2l10.5,-7.4l11.4,-5.6l12.1,-3.9l12.6,-2.2l12.9 0.2l12.5 2.8l11.3 5.7l9.6 8l7.9 9.4l6.4 10.4l5.1 11l3.3 12l0.9 12.5l-2.3 12.6l-5.2 11.7l-7.6 10.4l-9 8.9l-10.1 7.6l-11 6.3l-12 4.5l-12.8 2.1l-12.8,-0.8l-12.3,-3.5l-11.2,-5.6l-9.9,-7.5l-8.4,-9z" fill="none" stroke="#4DC9A1" stroke-width="1.15" stroke-linejoin="round"/>
<path d="M518.1,208.7l-12.8 6.9l-14.4 3.1l-14.7,-0.8l-13.9,-4l-12.9,-6.2l-11.9,-7.7l-10.5,-9.3l-8.8,-11.1l-6.4,-12.6l-3.9,-13.5l-1.6,-14l0.5,-14l2.8,-13.8l5.5,-13.2l8.1,-11.6l10.5,-9.6l12,-7.4l13,-5.5l13.7,-3.4l14.3,-0.8l14.3 2.3l13.3 5.7l11.7 8.3l10 10.1l8.6 11.1l7.1 12.3l5 13.4l1.8 14.2l-1.8 14.2l-4.8 13.2l-6.6 12l-7.6 11.4l-8.9 10.7z" fill="none" stroke="#61CB84" stroke-width="1.15" stroke-linejoin="round"/>
<path d="M509,208.2l-11.7 5l-12.4 2.9l-12.8 0.8l-12.9,-1.9l-12.4,-4.5l-11.2,-7l-9.8,-8.9l-8.1,-10.5l-6.1,-11.7l-3.9,-12.6l-1.4,-13l1.1,-12.9l3.2,-12.4l5.1,-11.7l6.7,-10.9l8.5,-9.6l10.4,-7.7l12,-5.1l12.8,-2.1l13 0.6l12.6 2.7l12 4.6l11.3 6.3l10.2 8.3l8.5 10.2l6.2 11.8l3.7 12.7l1.5 13l-0.6 13.1l-2.9 12.6l-5.2 11.9l-7.4 10.5l-9.3 8.7z" fill="none" stroke="#5CCA8B" stroke-width="1.15" stroke-linejoin="round"/>
<path d="M469.4,204.6l-12.6,-1.6l-12.2,-4.5l-10.8,-7.6l-8.2,-10.4l-5.3,-12l-2.6,-12.7l-0.3,-12.5l1.2,-12.2l2.6,-11.7l3.8,-11.3l5.2,-11.1l6.9,-10.4l8.9,-9.2l10.9,-7l12.3,-3.9l12.8,-0.6l12.5 2.6l11.5 4.7l10.7 6l9.9 7.2l9 8.6l7.2 10.3l4.8 11.8l2 12.7l-0.8 12.8l-2.9 12.3l-4.8 11.6l-6.5 10.6l-8.3 9.2l-9.9 7.3l-11 5.2l-11.6 3.4l-12 1.9z" fill="none" stroke="#68CB7A" stroke-width="1.15" stroke-linejoin="round"/>
<path d="M466.7,221.7l-13.5,-2l-12.9,-4.3l-12.2,-6.5l-11.1,-8.5l-9.3,-10.6l-6.9,-12.6l-3.7,-13.8l-0.6,-14.2l2,-13.9l4,-13.3l5.8,-12.5l7.6,-11.4l9.7,-9.9l11.4,-7.7l12.7,-5.2l13.4,-2.9l13.7,-0.5l13.6 1.8l13.1 4.5l11.8 7.2l10.1 9.5l8.2 11.1l6.5 12.2l4.7 13.1l2.7 13.9l-0.2 14.3l-3.6 13.9l-6.7 12.6l-9.1 10.7l-10.6 8.8l-11.6 7l-12.4 5.3l-13.1 3.2z" fill="none" stroke="#66CB7E" stroke-width="1.15" stroke-linejoin="round"/>
<path d="M545.3,194.3l-9.1 9.4l-10.7 7.8l-11.7 6.2l-12.8 4.5l-13.8 2.5l-14.4,-0.3l-14.4,-3.6l-13.3,-6.8l-11.7,-9.2l-9.8,-10.9l-7.9,-12.1l-5.9,-12.9l-3.5,-13.4l-1,-13.7l1.5,-13.4l4,-12.8l6.1,-11.8l8.3,-10.6l10.5,-8.7l12.4,-6l13.7,-3.1l14.1,-0.3l14 2l13.7 3.9l13.2 5.6l12.5 7.6l11 9.9l8.7 11.8l6.1 13.2l3.3 13.9l0.7 13.9l-2 13.5l-4.7 12.7z" fill="none" stroke="#6ACC77" stroke-width="1.15" stroke-linejoin="round"/>
<path d="M404.4,153.6l-0.6,-14.1l2.3,-14.1l5.4,-13.3l7.9,-12l9.9,-10.4l11.6,-8.6l12.9,-6.6l14.1,-3.9l14.5,-0.7l14.2 2.2l13.5 4.4l12.7 6.1l11.9 7.7l10.6 9.7l8.3 11.7l5.1 13.5l1.8 14.1l-0.9 14.2l-2.9 13.7l-4.6 13.3l-6.9 12.6l-9.5 11l-12 8.4l-13.5 5.5l-14.1 2.8l-14.2 1l-14.3,-0.9l-14,-3l-13.3,-5.7l-11.6,-8.6l-9.3,-10.9l-7,-12.3l-5,-13.1z" fill="none" stroke="#4CC9A1" stroke-width="1.15" stroke-linejoin="round"/>
<path d="M407.2,179l-5.4,-12.5l-2.9,-13.3l-0.1,-13.8l2.9,-13.7l5.6,-12.9l7.9,-11.7l9.6,-10.4l11,-9.1l12.2,-7.5l13.4,-5.5l14.3,-2.7l14.3 0.3l13.9 3l12.8 5.3l11.8 7.3l10.2 9.2l8.1 11.1l5.2 12.7l2 13.6l-1 13.8l-3.3 13.3l-5 12.8l-6.9 12.2l-8.8 11.1l-10.9 9.6l-12.6 7.2l-13.8 4.7l-14.3 2.1l-14.3,-0.3l-13.8,-2.7l-13,-5.1l-11.6,-7.4l-9.8,-9.5z" fill="none" stroke="#9DD651" stroke-width="1.15" stroke-linejoin="round"/>
<path d="M554.5,167l-6.9 12.2l-8.5 11l-10.1 9.8l-11.7 8.1l-13.5 5.7l-14.6 2.7l-15,-0.1l-14.8,-2.3l-14.6,-4.4l-13.9,-6.5l-12.5,-9.1l-10.1,-11.6l-6.8,-13.3l-3.8,-14.1l-1.3,-14.1l0.7,-14l2.9,-13.7l5.5,-12.8l8.3,-11.4l10.9,-9.3l12.4,-7.1l13.5,-5.3l14.3,-3.4l15,-1.2l15.2 1.8l14.6 5.1l13.1 8l11.3 9.9l9.7 11.3l8 12.5l5.7 13.5l2.6 14.4l-1.2 14.3z" fill="none" stroke="#AAD94B" stroke-width="1.15" stroke-linejoin="round"/>
<path d="M458.6,218.6l-13.2,-5l-12,-7.7l-10.4,-9.8l-9,-11.3l-7.2,-12.8l-4.8,-14.3l-1.3,-15.2l2.3,-15l5.4,-14.2l7.3,-12.9l8.5,-12.1l10,-11.2l12,-9.3l13.9,-6.3l14.9,-2.1l14.7 1.7l13.8 4.5l12.7 6.3l11.7 7.9l10.2 9.7l8.3 11.5l6.1 12.9l4 13.9l2.3 14.5l0.5 15.1l-2.2 15.5l-5.8 14.8l-9.8 12.4l-12.6 9.2l-14 5.9l-14.2 3.5l-14.1 1.9l-14 0.2z" fill="none" stroke="#E0E131" stroke-width="1.15" stroke-linejoin="round"/>
<path d="M551.7,162.9l-5.5 12l-7.4 10.9l-9.1 9.8l-10.9 8.1l-12.4 5.9l-13.6 3l-14,-0.1l-13.5,-3.1l-12.6,-5.4l-11.4,-7.1l-10.3,-8.3l-9.1,-9.7l-7.5,-11.1l-5.3,-12.3l-2.5,-13.2l0.3,-13.3l3.2,-12.9l5.6,-12.1l7.7,-10.8l9.3,-9.5l11.1,-7.8l12.4,-5.7l13.4,-3.1l13.9,-0.2l13.6 2.6l12.7 5.1l11.6 7l10.3 8.6l8.9 9.9l7.3 11.2l5.1 12.4l2.4 13.1l-0.5 13.3z" fill="none" stroke="#88D15C" stroke-width="1.15" stroke-linejoin="round"/>
<path d="M402.5,170.5l-4.3,-13.5l-1.4,-14.2l1.8,-14.4l5.2,-13.8l8.2,-12.5l10.5,-10.6l12.1,-8.7l13,-7l13.8,-5.2l14.5,-3.3l14.9,-0.7l14.6 2.2l13.6 5.4l11.7 8.1l9.8 9.9l7.9 11.2l6.3 12.1l4.6 13.1l2.2 13.9l-0.8 14.5l-4.4 14.2l-7.8 12.9l-10.7 10.9l-12.4 8.7l-13.6 6.4l-14.2 4.4l-14.4 2.3l-14.6 0.2l-14.3,-2.3l-13.5,-4.7l-12.3,-7.2l-10.6,-9.1l-8.7,-10.9z" fill="none" stroke="#C3E03E" stroke-width="1.15" stroke-linejoin="round"/>
<path d="M449.9,210.6l-11.3,-7.2l-9.6,-9.3l-7.6,-11.2l-5.2,-12.6l-2.9,-13.3l-0.8,-13.6l1.7,-13.8l4.1,-13.2l6.9,-12.2l9.1,-10.4l10.7,-8.4l11.8,-6.7l12.5,-5l13.2,-3.1l13.6,-0.4l13.3 2.8l12.2 5.8l10.6 8.2l9 9.8l7.6 10.9l6 12l3.8 13.2l0.9 13.8l-2.3 13.8l-5 12.9l-7.1 11.9l-8.6 10.6l-10.1 9.2l-11.6 7.3l-12.8 4.9l-13.4 2.1l-13.4,-0.7l-13.1,-3z" fill="none" stroke="#82D05F" stroke-width="1.15" stroke-linejoin="round"/>
<path d="M415.5,181.8l-6.2,-12.3l-3.8,-13.3l-1.2,-13.8l1.2,-14l4,-13.6l6.5,-12.8l8.9,-11.4l10.9,-9.5l12.3,-7.6l13.3,-5.6l14,-3.3l14.3,-1l14.2 1.8l13.4 4.5l12.2 7.1l10.3 9.3l8.5 11l6.2 12.3l3.8 13.4l1.1 13.9l-1.9 13.9l-4.6 13.4l-6.8 12.5l-8.6 11.3l-10.2 10l-11.9 8.3l-13.2 6.2l-14.2 3.5l-14.5 0.5l-14.2,-2.4l-13.2,-5l-12,-7.2l-10.3,-9.2z" fill="none" stroke="#B6DD45" stroke-width="1.15" stroke-linejoin="round"/>
<path d="M545.9,187.2l-10.6 9.7l-11.4 8.2l-11.9 7.4l-13.1 6.1l-14.4 3.4l-15.1,-0.7l-14.4,-4.7l-12.9,-7.7l-11.6,-9l-10.7,-9.7l-10.1,-10.7l-8.5,-12.5l-5.5,-14.2l-1.8,-15l2,-14.8l4.9,-13.9l7.5,-12.5l9.6,-10.8l11.6,-8.5l13,-5.9l13.8,-3.7l14.2,-1.8l14.4,-0.1l14.6 2l14.3 5l12.8 8.2l10.4 11l8.2 12.4l6.5 13.2l5.1 13.9l2.9 14.7l-0.5 15l-4.8 14z" fill="none" stroke="#AFDB48" stroke-width="1.15" stroke-linejoin="round"/>
<path d="M541.8,195l-9.9 9.5l-11.5 7.6l-12.9 5.5l-13.9 2.7l-14.3,-0.2l-14.2,-3.2l-13.4,-5.6l-12.3,-7.6l-11.2,-9.3l-9.6,-11.1l-7.5,-12.7l-4.6,-13.8l-1.5,-14.3l1.3,-14.1l3.9,-13.4l5.9,-12.3l7.8,-11.2l9.7,-9.7l11.5,-7.8l13,-5.2l14,-2.5l14.3 0.2l14.2 2.9l13.5 5.4l12.5 7.5l11 9.7l9.3 11.3l7.1 12.7l4.6 13.8l2 14.2l-0.9 14.1l-3.6 13.5l-6.2 12.4z" fill="none" stroke="#F5A024" stroke-width="1.15" stroke-linejoin="round"/>
<path d="M401.2,175.8l-4.3,-13.7l-2.2,-14.2l0.1,-14.6l2.9,-14.5l5.9,-13.9l8.8,-12.3l11.3,-10.1l13.1,-7.6l14.1,-5l14.6,-2.6l14.6,-0.3l14.5 2l13.8 4.4l12.8 6.9l11.3 9.2l9.2 11.1l7.1 12.6l4.8 13.7l2.2 14.5l-0.6 14.8l-3.6 14.4l-6.6 13.5l-9.2 11.9l-11.3 9.8l-12.7 7.6l-13.8 5.5l-14.3 3.4l-14.8 1l-14.7,-1.7l-14.1,-4.4l-12.8,-7.3l-10.9,-9.8l-8.7,-11.5z" fill="none" stroke="#F48B23" stroke-width="1.15" stroke-linejoin="round"/>
<path d="M400.3,172.8l-4.3,-13.8l-1.5,-14.4l1.5,-14.5l4.2,-14l6.7,-13.1l8.8,-11.9l10.7,-10.4l12.7,-8.2l14,-5.6l14.9,-2.5l14.9 0.3l14.5 2.7l13.8 4.9l12.8 7l11.3 9.2l9.2 11.4l6.4 13.1l3.7 14l1.1 14.4l-1.4 14.5l-3.9 14.1l-6.5 13.2l-9.1 11.8l-11.2 9.8l-12.8 7.7l-13.8 5.6l-14.6 3.3l-15 0.8l-14.8,-2.1l-14,-5.1l-12.5,-7.9l-10.6,-10l-8.6,-11.6z" fill="none" stroke="#F5B325" stroke-width="1.15" stroke-linejoin="round"/>
<path d="M450.8,221.4l-13.9,-5.3l-12.5,-8l-10.5,-10.7l-8.1,-12.5l-5.3,-13.9l-2.8,-14.4l-0.4,-14.6l1.9,-14.5l4.2,-14l6.5,-13.2l8.8,-11.9l11,-10l12.7,-7.7l14.1,-5.1l14.7,-2.1l14.8 0.8l14.3 3.6l13.4 6.1l11.9 8.4l10.3 10.3l8.4 12l6.1 13.3l3.8 14.3l1.2 14.7l-1.5 14.9l-4.5 14.2l-7.1 13.2l-9.7 11.3l-11.5 9.3l-13 6.9l-13.8 4.6l-14.4 2.4l-14.6 0z" fill="none" stroke="#F5B225" stroke-width="1.15" stroke-linejoin="round"/>
<path d="M397.1,150.6l0.4,-14.6l2.7,-14.5l5.3,-13.8l7.8,-12.7l10.4,-10.9l12.4,-8.6l13.8,-6.1l14.6,-3.6l15,-1.1l15 1.3l14.5 4.1l13.5 6.6l11.9 9.2l9.8 11.2l7.6 12.8l5.1 13.8l2.6 14.5l0.1 14.8l-2.8 14.6l-5.6 13.8l-8.3 12.5l-10.6 10.7l-12.5 8.4l-13.8 6l-14.5 3.5l-14.9 1.2l-14.9,-1.2l-14.6,-3.7l-13.7,-6.3l-12.2,-9l-10,-11.2l-7.4,-13l-4.6,-14.1z" fill="none" stroke="#F5A124" stroke-width="1.15" stroke-linejoin="round"/>
<path d="M441.7,220.4l-13.3,-7.6l-11.5,-10.1l-9.2,-12.2l-6.6,-13.8l-4,-14.8l-1.3,-15.2l1.2,-15.3l3.6,-14.8l6.2,-14.1l8.7,-12.7l10.9,-10.8l12.5,-8.6l13.8,-6.5l14.7,-4l15.2,-1.5l15.2 1.6l14.6 4.7l13.2 7.9l11.2 10.5l8.9 12.3l6.7 13.7l4.2 14.7l1.8 15.1l-1 15.4l-3.9 14.9l-6.6 13.8l-8.8 12.6l-10.8 10.8l-12.3 9l-13.8 6.7l-14.7 4l-15.2 1.1l-15.2,-1.9z" fill="none" stroke="#E83E23" stroke-width="1.15" stroke-linejoin="round"/>
<path d="M519.9,214.9l-13.4 6.2l-14.4 3.3l-14.9 0.3l-14.8,-2.6l-14.1,-5.4l-13,-7.6l-11.7,-9.8l-9.9,-11.8l-7.6,-13.3l-5.2,-14.5l-2.5,-15.1l-0.1,-15.2l2.5,-15l5.2,-14.3l7.9,-12.8l10.5,-10.7l12.4,-8.2l13.7,-5.6l14.5,-3l14.8,-0.6l14.8 2.3l14.2 5.3l12.9 8l11.3 10.2l9.5 11.9l7.7 13.1l5.9 14.1l3.5 15.1l0.4 15.5l-2.9 15.1l-6.1 13.9l-8.5 12.3l-10.5 10.5z" fill="none" stroke="#E83F23" stroke-width="1.15" stroke-linejoin="round"/>
<path d="M516.4,221.7l-14.2 5.4l-15 2.6l-15.3,-0.4l-15.1,-3.5l-14.2,-6.4l-12.6,-9.1l-10.9,-11.2l-8.7,-12.9l-6.5,-14l-4.2,-14.8l-2,-15.3l0.5,-15.4l3.1,-15.1l6,-14.3l8.9,-12.6l11.4,-10.1l13.4,-7.2l14.3,-4.5l14.8,-2.1l15 0l15.1 2.4l14.6 5.3l13.3 8.5l11.1 11.4l8.4 13.4l5.8 14.6l3.6 14.9l1.6 15.2l-0.5 15.2l-3 15.1l-6 14.1l-8.8 12.5l-11.1 10.3z" fill="none" stroke="#E94123" stroke-width="1.15" stroke-linejoin="round"/>
<path d="M515.8,220.5l-14.6 5.1l-15.3 2l-15.3,-1.1l-14.8,-3.7l-13.9,-6.2l-12.6,-8.5l-11.1,-10.5l-9.1,-12.3l-6.8,-13.8l-4.2,-14.8l-1.6,-15.4l1.2,-15.4l4.1,-14.9l6.8,-13.9l9.6,-12.2l11.7,-9.9l13.4,-7.3l14.4,-4.6l15,-2.1l15.1 0.4l14.9 2.9l14.3 5.5l13.1 8l11.4 10.6l9.1 12.7l6.3 14.2l3.4 15.1l0.7 15.3l-1.7 15.1l-4.1 14.6l-6.4 13.9l-8.7 12.5l-11.2 10.7zM500.3,224.5l-15.2 2.7l-15.4,-0.4l-15.1,-3.5l-14,-6.3l-12.6,-8.8l-10.8,-10.9l-8.8,-12.5l-6.7,-13.7l-4.3,-14.8l-1.7,-15.4l1.3,-15.5l4.6,-15l7.6,-13.5l10.3,-11.5l12.2,-9.3l13.3,-6.9l14.2,-4.7l14.7,-2.7l15.1,-0.3l15 2.3l14.6 5.1l13.4 7.9l11.6 10.6l9.1 12.9l6.3 14.4l3.1 15.3l0.1 15.5l-2.7 15l-5 14.3l-7.1 13.3l-9 12l-11 10.4l-12.8 8.3z" fill="none" stroke="#E53823" stroke-width="1.15" stroke-linejoin="round"/>
<path d="M406.8,187.6l-6.8,-13.7l-4,-14.9l-0.9,-15.4l2.1,-15.3l5,-14.5l7.6,-13.3l9.8,-11.6l11.6,-9.7l12.9,-7.8l14,-5.8l14.9,-3.4l15.5,-0.6l15.3 2.5l14.4 5.9l12.8 8.8l10.5 11.1l8.3 12.8l6.1 13.8l3.8 14.5l1.5 15l-1.1 15.2l-4 14.8l-6.8 13.8l-9.6 12.2l-11.8 10.1l-13.4 7.5l-14.6 4.9l-15.1 2.1l-15.2,-0.4l-14.8,-3l-14.1,-5.5l-13.1,-7.8l-11.4,-10.1z" fill="none" stroke="#EB4523" stroke-width="1.15" stroke-linejoin="round"/>
<path d="M454.5,221.2l-13.5,-5l-12.6,-7.4l-11.2,-9.5l-9.2,-11.5l-6.9,-13.4l-4.1,-14.5l-1.2,-15.1l1.6,-15l4,-14.6l6.2,-13.7l8.5,-12.4l10.4,-10.7l12.3,-8.6l13.6,-6l14.4,-3.1l14.6,-0.2l14.4 2.5l13.6 5.1l12.5 7.5l11.1 9.6l9.1 11.6l6.9 13.3l4.2 14.5l1.3 15l-1.4 15.1l-4.1 14.6l-6.4 13.6l-8.4 12.4l-10.5 10.8l-12.2 8.6l-13.6 6l-14.4 3l-14.7 0.2z" fill="none" stroke="#EA4423" stroke-width="1.15" stroke-linejoin="round"/>
<path d="M483.9,224.6l-14.5,-0.7l-14,-3.4l-13.3,-5.7l-12.2,-7.9l-10.6,-10.2l-8.7,-12.1l-6.4,-13.6l-4.1,-14.5l-1.6,-15.1l0.9,-15.2l3.8,-14.8l6.7,-13.5l9.3,-11.7l11.1,-9.5l12.5,-7.3l13.3,-5.1l14,-2.9l14.3,-0.3l14.3 2.6l13.5 5.6l12.2 8.1l10.6 10.4l8.8 12.2l6.4 13.6l3.9 14.7l1 15.2l-1.7 14.9l-4.3 14.4l-6.4 13.3l-8.4 12.2l-10.4 10.5l-12.1 8.2l-13.6 5.3z" fill="none" stroke="#E22F23" stroke-width="1.15" stroke-linejoin="round"/>
<path d="M446.9,224.4l-13.6,-7.1l-11.8,-9.7l-9.7,-11.8l-7.5,-13.4l-5,-14.4l-2.8,-15.2l-0.3,-15.5l2.3,-15.5l5.2,-15l8.1,-13.8l10.6,-11.7l12.7,-9.3l14.1,-6.6l14.8,-3.9l15.1,-1.2l15 1.2l14.6 3.8l13.7 6.3l12.4 8.9l10.5 11.3l8 13.3l5.3 14.7l2.3 15.6l-0.6 15.7l-3.4 15.3l-5.9 14.5l-8.2 13.2l-10.3 11.7l-12 9.8l-13.6 7.4l-14.7 4.8l-15.3 1.9l-15.3,-1.1z" fill="none" stroke="#E63A23" stroke-width="1.15" stroke-linejoin="round"/>
<path d="M551.6,183.6l-8.2 13l-10.4 11.3l-12.5 9l-14 6.2l-15 3.2l-15.3 0.2l-14.8,-2.5l-14.2,-4.8l-13.2,-7l-12,-9.1l-10.3,-11l-8.1,-12.9l-5.5,-14.2l-2.6,-15.1l0.4,-15.3l3.3,-14.9l6,-14.1l8.4,-12.8l10.6,-11l12.4,-8.9l13.9,-6.4l14.9,-3.6l15.3,-0.5l14.9 2.5l14.2 5l13.2 7.2l11.8 9.1l10.3 11.1l8.1 12.8l5.5 14.2l2.5 15.1l-0.5 15.3l-3.3 14.8z" fill="none" stroke="#E33123" stroke-width="1.15" stroke-linejoin="round"/>
<path d="M558.8,161.1l-4.3 14.3l-6.8 13.4l-9.1 12l-11.2 10.1l-12.9 7.8l-14.2 5.2l-15 2.5l-15.1,-0.3l-14.8,-2.9l-14.1,-5.3l-13,-7.8l-11.4,-10l-9.3,-11.9l-6.9,-13.5l-4.2,-14.6l-1.3,-15.2l1.5,-15l4.5,-14.5l7.1,-13.3l9.4,-11.7l11.4,-9.8l12.9,-7.6l14,-5.2l14.8,-2.9l15.1,-0.1l14.9 2.5l14.3 5.3l13 7.9l11.3 10.2l9.2 12.1l6.7 13.7l4 14.6l1.1 15z" fill="none" stroke="#E43623" stroke-width="1.15" stroke-linejoin="round"/>
<path d="M403.4,181.5l-4.7,-13.5l-2.4,-14.1l-0.1,-14.4l2.4,-14.3l5,-14l7.8,-12.8l10.2,-11.3l12.3,-9.1l13.7,-6.7l14.5,-4.2l15,-1.9l14.9 0.7l14.5 3.5l13.3 6.3l11.6 8.7l9.7 10.6l7.6 12l5.6 13.2l3.4 14l0.6 14.7l-2.6 14.6l-5.9 13.9l-8.8 12.3l-10.9 10.5l-12.3 8.6l-13.3 6.7l-14.1 4.9l-14.8 2.6l-15.1,-0.2l-14.7,-3.1l-13.6,-6.1l-11.9,-8.8l-9.6,-10.8z" fill="none" stroke="#EC5223" stroke-width="1.15" stroke-linejoin="round"/>
<path d="M420.25,151.45 C433.25,173.45 468.25,179.45 484.25,170.45 C490.25,155.45 506.25,163.45 510.25,149.45 C516.25,123.44999999999999 496.25,103.44999999999999 512.25,85.44999999999999" fill="none" stroke="#3FC0A8" stroke-width="1.4"/>
<path d="M426.25,121.44999999999999 C426.25,163.45 448.25,193.45 473.25,213.45" fill="none" stroke="#3450B8" stroke-width="1.2"/>
<path d="M522.25,113.44999999999999 C532.25,153.45 522.25,188.45 493.25,211.45" fill="none" stroke="#3450B8" stroke-width="1.2"/>
<path d="M512.25,99.44999999999999 C526.25,143.45 518.25,183.45 486.25,213.45" fill="none" stroke="#3A60C4" stroke-width="1.2"/>
<circle cx="478.95" cy="100.24999999999999" r="7.6" fill="none" stroke="#D8302C" stroke-width="0.9"/>
<circle cx="478.95" cy="187.04999999999998" r="7.6" fill="none" stroke="#6CC0B8" stroke-width="1.1"/>
</g>
<filter id="b1" x="-20%" y="-20%" width="140%" height="140%"><feGaussianBlur stdDeviation="3.2"/></filter>
<path d="M30.6,332.6a72.0,64.5 0 1,0 144.0,0a72.0,64.5 0 1,0 -144.0,0zM73.9,333.8a28.7,36.6 0 1,0 57.4,0a28.7,36.6 0 1,0 -57.4,0z" fill="#E4213F" fill-rule="evenodd" opacity="0.85" filter="url(#b1)" transform="rotate(-8 102.6 332.6)"/>
<g fill="none" stroke="#E4213F" stroke-width="0.9" opacity="0.7"><ellipse cx="104.8" cy="336.5" rx="21.6" ry="28.2" transform="rotate(-11 104.8 336.5)"/><ellipse cx="103.0" cy="334.9" rx="22.8" ry="27.1" transform="rotate(1 103.0 334.9)"/><ellipse cx="101.8" cy="331.2" rx="51.9" ry="50.6" transform="rotate(-6 101.8 331.2)"/><ellipse cx="103.3" cy="333.3" rx="60.1" ry="57.4" transform="rotate(1 103.3 333.3)"/><ellipse cx="101.3" cy="332.3" rx="74.5" ry="66.3" transform="rotate(-12 101.3 332.3)"/><ellipse cx="99.7" cy="330.7" rx="64.5" ry="59.7" transform="rotate(-17 99.7 330.7)"/><ellipse cx="101.1" cy="332.3" rx="76.8" ry="69.2" transform="rotate(-11 101.1 332.3)"/><ellipse cx="102.9" cy="332.3" rx="37.5" ry="40.7" transform="rotate(-7 102.9 332.3)"/><ellipse cx="103.7" cy="337.8" rx="48.8" ry="48.6" transform="rotate(-15 103.7 337.8)"/><ellipse cx="102.5" cy="333.0" rx="37.1" ry="41.9" transform="rotate(-7 102.5 333.0)"/><ellipse cx="100.4" cy="333.4" rx="24.9" ry="31.0" transform="rotate(-3 100.4 333.4)"/><ellipse cx="103.7" cy="334.7" rx="20.5" ry="27.7" transform="rotate(-1 103.7 334.7)"/><ellipse cx="102.7" cy="336.7" rx="27.2" ry="33.5" transform="rotate(-10 102.7 336.7)"/><ellipse cx="101.4" cy="331.3" rx="72.4" ry="69.0" transform="rotate(-4 101.4 331.3)"/><ellipse cx="102.6" cy="332.5" rx="58.6" ry="55.3" transform="rotate(-16 102.6 332.5)"/><ellipse cx="103.9" cy="333.6" rx="43.0" ry="45.3" transform="rotate(-10 103.9 333.6)"/><ellipse cx="102.0" cy="333.3" rx="50.3" ry="52.2" transform="rotate(1 102.0 333.3)"/><ellipse cx="101.8" cy="332.1" rx="72.9" ry="68.2" transform="rotate(-3 101.8 332.1)"/><ellipse cx="102.8" cy="336.5" rx="46.9" ry="48.4" transform="rotate(-11 102.8 336.5)"/><ellipse cx="103.9" cy="332.4" rx="36.5" ry="38.6" transform="rotate(-14 103.9 332.4)"/><ellipse cx="102.2" cy="331.5" rx="22.5" ry="26.6" transform="rotate(-0 102.2 331.5)"/><ellipse cx="104.1" cy="330.7" rx="68.9" ry="63.4" transform="rotate(-16 104.1 330.7)"/><ellipse cx="100.3" cy="332.5" rx="40.8" ry="40.9" transform="rotate(-8 100.3 332.5)"/><ellipse cx="100.1" cy="327.8" rx="53.8" ry="50.2" transform="rotate(-12 100.1 327.8)"/><ellipse cx="101.6" cy="331.9" rx="43.4" ry="46.0" transform="rotate(-6 101.6 331.9)"/><ellipse cx="102.1" cy="335.5" rx="41.1" ry="40.9" transform="rotate(-10 102.1 335.5)"/><ellipse cx="102.7" cy="330.8" rx="31.7" ry="34.8" transform="rotate(-13 102.7 330.8)"/><ellipse cx="103.7" cy="333.3" rx="58.1" ry="54.1" transform="rotate(-9 103.7 333.3)"/><ellipse cx="98.8" cy="334.2" rx="48.9" ry="48.2" transform="rotate(-12 98.8 334.2)"/><ellipse cx="101.7" cy="333.7" rx="58.7" ry="53.4" transform="rotate(-12 101.7 333.7)"/><ellipse cx="101.9" cy="333.7" rx="62.7" ry="58.1" transform="rotate(-9 101.9 333.7)"/><ellipse cx="101.5" cy="332.3" rx="34.4" ry="39.8" transform="rotate(-8 101.5 332.3)"/><ellipse cx="104.1" cy="331.6" rx="42.8" ry="46.3" transform="rotate(-6 104.1 331.6)"/><ellipse cx="104.7" cy="336.4" rx="39.2" ry="42.0" transform="rotate(-10 104.7 336.4)"/><ellipse cx="102.3" cy="333.2" rx="25.8" ry="31.3" transform="rotate(-9 102.3 333.2)"/><ellipse cx="104.3" cy="333.2" rx="60.5" ry="56.3" transform="rotate(-12 104.3 333.2)"/><ellipse cx="100.9" cy="329.4" rx="63.2" ry="58.5" transform="rotate(1 100.9 329.4)"/><ellipse cx="103.1" cy="331.8" rx="72.1" ry="64.1" transform="rotate(-4 103.1 331.8)"/><ellipse cx="104.0" cy="333.1" rx="38.3" ry="40.9" transform="rotate(-29 104.0 333.1)"/><ellipse cx="104.1" cy="330.8" rx="69.9" ry="62.4" transform="rotate(-19 104.1 330.8)"/><ellipse cx="102.8" cy="331.9" rx="52.1" ry="52.3" transform="rotate(-3 102.8 331.9)"/><ellipse cx="104.9" cy="336.0" rx="19.1" ry="25.1" transform="rotate(-6 104.9 336.0)"/><ellipse cx="105.4" cy="334.0" rx="32.7" ry="36.3" transform="rotate(-1 105.4 334.0)"/><ellipse cx="103.5" cy="330.9" rx="76.3" ry="67.8" transform="rotate(-14 103.5 330.9)"/><ellipse cx="105.6" cy="331.7" rx="58.8" ry="55.4" transform="rotate(-15 105.6 331.7)"/><ellipse cx="104.2" cy="335.8" rx="52.9" ry="52.3" transform="rotate(-13 104.2 335.8)"/><ellipse cx="104.3" cy="334.8" rx="73.4" ry="67.4" transform="rotate(-12 104.3 334.8)"/><ellipse cx="104.1" cy="332.2" rx="53.4" ry="50.5" transform="rotate(-5 104.1 332.2)"/><ellipse cx="101.3" cy="333.5" rx="61.5" ry="58.3" transform="rotate(-6 101.3 333.5)"/><ellipse cx="102.0" cy="332.7" rx="55.8" ry="52.9" transform="rotate(-14 102.0 332.7)"/><ellipse cx="100.7" cy="329.9" rx="67.0" ry="63.5" transform="rotate(-22 100.7 329.9)"/><ellipse cx="103.5" cy="334.4" rx="20.4" ry="26.1" transform="rotate(-15 103.5 334.4)"/><ellipse cx="102.9" cy="331.5" rx="66.7" ry="61.2" transform="rotate(-9 102.9 331.5)"/><ellipse cx="101.4" cy="334.8" rx="29.0" ry="33.9" transform="rotate(-4 101.4 334.8)"/><ellipse cx="103.5" cy="331.5" rx="44.6" ry="41.9" transform="rotate(-2 103.5 331.5)"/><ellipse cx="102.2" cy="334.0" rx="52.9" ry="49.2" transform="rotate(-7 102.2 334.0)"/><ellipse cx="102.4" cy="331.9" rx="24.3" ry="30.7" transform="rotate(-4 102.4 331.9)"/><ellipse cx="104.3" cy="331.9" rx="40.1" ry="40.3" transform="rotate(0 104.3 331.9)"/><ellipse cx="101.7" cy="334.6" rx="67.9" ry="61.4" transform="rotate(-11 101.7 334.6)"/><ellipse cx="103.9" cy="332.7" rx="43.9" ry="45.2" transform="rotate(-20 103.9 332.7)"/><ellipse cx="101.8" cy="332.3" rx="33.8" ry="36.4" transform="rotate(1 101.8 332.3)"/><ellipse cx="103.7" cy="331.6" rx="76.9" ry="66.6" transform="rotate(-4 103.7 331.6)"/><ellipse cx="104.8" cy="334.1" rx="54.9" ry="51.5" transform="rotate(-15 104.8 334.1)"/><ellipse cx="101.1" cy="333.0" rx="34.7" ry="37.7" transform="rotate(3 101.1 333.0)"/><ellipse cx="101.5" cy="332.6" rx="38.2" ry="38.9" transform="rotate(-16 101.5 332.6)"/><ellipse cx="104.4" cy="331.6" rx="67.6" ry="62.5" transform="rotate(-9 104.4 331.6)"/><ellipse cx="102.9" cy="330.2" rx="67.8" ry="62.1" transform="rotate(-15 102.9 330.2)"/><ellipse cx="101.6" cy="334.8" rx="66.8" ry="63.4" transform="rotate(-22 101.6 334.8)"/><ellipse cx="102.5" cy="334.3" rx="65.5" ry="61.4" transform="rotate(-9 102.5 334.3)"/><ellipse cx="101.2" cy="334.2" rx="74.1" ry="70.0" transform="rotate(-14 101.2 334.2)"/><ellipse cx="101.8" cy="333.1" rx="36.3" ry="38.6" transform="rotate(-8 101.8 333.1)"/><ellipse cx="100.8" cy="333.8" rx="42.7" ry="42.8" transform="rotate(-14 100.8 333.8)"/><ellipse cx="101.7" cy="329.6" rx="46.1" ry="45.4" transform="rotate(-9 101.7 329.6)"/><ellipse cx="103.8" cy="335.1" rx="54.3" ry="53.3" transform="rotate(-9 103.8 335.1)"/><ellipse cx="103.7" cy="333.6" rx="53.4" ry="52.1" transform="rotate(-10 103.7 333.6)"/><ellipse cx="105.1" cy="334.0" rx="57.3" ry="52.5" transform="rotate(-6 105.1 334.0)"/><ellipse cx="101.6" cy="333.9" rx="40.8" ry="42.8" transform="rotate(-6 101.6 333.9)"/><ellipse cx="102.6" cy="331.1" rx="67.6" ry="64.1" transform="rotate(-13 102.6 331.1)"/><ellipse cx="101.8" cy="330.8" rx="52.3" ry="49.3" transform="rotate(-9 101.8 330.8)"/><ellipse cx="103.5" cy="333.0" rx="51.8" ry="51.0" transform="rotate(-5 103.5 333.0)"/><ellipse cx="102.9" cy="334.7" rx="45.1" ry="47.2" transform="rotate(-11 102.9 334.7)"/><ellipse cx="101.8" cy="334.3" rx="21.9" ry="27.7" transform="rotate(-8 101.8 334.3)"/><ellipse cx="102.1" cy="335.1" rx="64.7" ry="59.6" transform="rotate(-17 102.1 335.1)"/><ellipse cx="104.3" cy="333.9" rx="52.7" ry="52.9" transform="rotate(-9 104.3 333.9)"/><ellipse cx="104.2" cy="334.3" rx="63.3" ry="58.9" transform="rotate(-5 104.2 334.3)"/><ellipse cx="103.3" cy="333.3" rx="62.4" ry="60.6" transform="rotate(-18 103.3 333.3)"/><ellipse cx="102.2" cy="331.8" rx="49.0" ry="47.5" transform="rotate(-8 102.2 331.8)"/><ellipse cx="103.0" cy="335.1" rx="58.3" ry="56.4" transform="rotate(-15 103.0 335.1)"/><ellipse cx="104.1" cy="332.7" rx="73.0" ry="65.9" transform="rotate(-11 104.1 332.7)"/><ellipse cx="103.1" cy="330.6" rx="50.7" ry="50.0" transform="rotate(-4 103.1 330.6)"/><ellipse cx="105.5" cy="337.7" rx="39.2" ry="42.7" transform="rotate(-15 105.5 337.7)"/><ellipse cx="103.6" cy="330.5" rx="70.4" ry="63.4" transform="rotate(-4 103.6 330.5)"/><ellipse cx="103.4" cy="334.6" rx="28.0" ry="32.5" transform="rotate(-11 103.4 334.6)"/><ellipse cx="108.6" cy="336.1" rx="37.9" ry="39.3" transform="rotate(-3 108.6 336.1)"/><ellipse cx="99.9" cy="331.9" rx="28.1" ry="30.4" transform="rotate(-14 99.9 331.9)"/><ellipse cx="101.1" cy="333.6" rx="27.2" ry="31.0" transform="rotate(-14 101.1 333.6)"/><ellipse cx="102.7" cy="332.6" rx="52.1" ry="52.7" transform="rotate(-6 102.7 332.6)"/><ellipse cx="101.8" cy="337.3" rx="45.8" ry="46.9" transform="rotate(-12 101.8 337.3)"/><ellipse cx="97.8" cy="333.7" rx="24.9" ry="29.6" transform="rotate(-3 97.8 333.7)"/><ellipse cx="100.8" cy="330.0" rx="64.7" ry="59.5" transform="rotate(-9 100.8 330.0)"/><ellipse cx="100.9" cy="334.4" rx="73.4" ry="68.0" transform="rotate(-13 100.9 334.4)"/><ellipse cx="104.2" cy="335.6" rx="19.9" ry="28.4" transform="rotate(-2 104.2 335.6)"/><ellipse cx="103.2" cy="333.6" rx="31.3" ry="36.4" transform="rotate(-9 103.2 333.6)"/><ellipse cx="104.2" cy="338.0" rx="28.3" ry="33.7" transform="rotate(0 104.2 338.0)"/><ellipse cx="104.6" cy="331.9" rx="46.6" ry="45.8" transform="rotate(-8 104.6 331.9)"/><ellipse cx="106.2" cy="335.5" rx="77.1" ry="70.9" transform="rotate(-3 106.2 335.5)"/><ellipse cx="102.1" cy="333.6" rx="55.0" ry="53.3" transform="rotate(-8 102.1 333.6)"/><ellipse cx="101.9" cy="331.6" rx="75.6" ry="66.4" transform="rotate(-5 101.9 331.6)"/><ellipse cx="98.3" cy="333.4" rx="31.9" ry="34.2" transform="rotate(-5 98.3 333.4)"/><ellipse cx="104.1" cy="332.8" rx="60.4" ry="60.1" transform="rotate(-11 104.1 332.8)"/><ellipse cx="104.2" cy="333.6" rx="37.5" ry="41.3" transform="rotate(-2 104.2 333.6)"/><ellipse cx="104.5" cy="332.2" rx="63.1" ry="59.8" transform="rotate(-11 104.5 332.2)"/><ellipse cx="101.8" cy="330.4" rx="60.2" ry="58.5" transform="rotate(-9 101.8 330.4)"/><ellipse cx="106.6" cy="335.1" rx="36.2" ry="37.4" transform="rotate(-13 106.6 335.1)"/><ellipse cx="102.5" cy="332.9" rx="69.7" ry="62.9" transform="rotate(-5 102.5 332.9)"/><ellipse cx="98.8" cy="332.3" rx="18.7" ry="24.5" transform="rotate(2 98.8 332.3)"/><ellipse cx="106.0" cy="332.1" rx="30.4" ry="37.7" transform="rotate(-15 106.0 332.1)"/><ellipse cx="99.9" cy="333.1" rx="62.1" ry="59.0" transform="rotate(-18 99.9 333.1)"/><ellipse cx="102.5" cy="333.5" rx="57.6" ry="57.0" transform="rotate(-13 102.5 333.5)"/><ellipse cx="103.5" cy="331.7" rx="19.9" ry="28.6" transform="rotate(-8 103.5 331.7)"/><ellipse cx="103.8" cy="329.4" rx="74.3" ry="67.6" transform="rotate(-19 103.8 329.4)"/><ellipse cx="103.2" cy="333.1" rx="50.1" ry="49.9" transform="rotate(-19 103.2 333.1)"/><ellipse cx="101.2" cy="333.2" rx="43.8" ry="46.1" transform="rotate(-3 101.2 333.2)"/><ellipse cx="99.7" cy="332.8" rx="49.1" ry="48.8" transform="rotate(-6 99.7 332.8)"/><ellipse cx="104.4" cy="331.3" rx="67.3" ry="62.3" transform="rotate(-6 104.4 331.3)"/><ellipse cx="101.9" cy="333.8" rx="48.5" ry="46.3" transform="rotate(-13 101.9 333.8)"/><ellipse cx="104.8" cy="330.6" rx="67.6" ry="62.6" transform="rotate(-7 104.8 330.6)"/><ellipse cx="102.9" cy="333.7" rx="71.2" ry="68.1" transform="rotate(-15 102.9 333.7)"/><ellipse cx="98.8" cy="334.4" rx="34.1" ry="41.2" transform="rotate(0 98.8 334.4)"/><ellipse cx="103.1" cy="329.6" rx="33.2" ry="34.6" transform="rotate(-9 103.1 329.6)"/><ellipse cx="102.8" cy="335.2" rx="49.2" ry="46.0" transform="rotate(-1 102.8 335.2)"/><ellipse cx="102.2" cy="333.2" rx="17.4" ry="25.7" transform="rotate(-2 102.2 333.2)"/><ellipse cx="103.1" cy="333.7" rx="24.4" ry="29.8" transform="rotate(-11 103.1 333.7)"/><ellipse cx="103.6" cy="333.5" rx="57.5" ry="54.8" transform="rotate(-9 103.6 333.5)"/><ellipse cx="104.5" cy="336.2" rx="46.4" ry="48.0" transform="rotate(0 104.5 336.2)"/><ellipse cx="102.9" cy="331.7" rx="66.8" ry="61.9" transform="rotate(2 102.9 331.7)"/><ellipse cx="103.4" cy="333.0" rx="31.0" ry="34.5" transform="rotate(-11 103.4 333.0)"/><ellipse cx="104.6" cy="335.5" rx="31.7" ry="35.3" transform="rotate(-11 104.6 335.5)"/><ellipse cx="103.6" cy="332.7" rx="78.5" ry="70.1" transform="rotate(-8 103.6 332.7)"/><ellipse cx="101.9" cy="332.7" rx="73.2" ry="65.2" transform="rotate(-19 101.9 332.7)"/><ellipse cx="100.4" cy="330.6" rx="56.0" ry="54.0" transform="rotate(-12 100.4 330.6)"/><ellipse cx="104.5" cy="333.7" rx="54.7" ry="52.0" transform="rotate(12 104.5 333.7)"/><ellipse cx="103.7" cy="333.3" rx="35.5" ry="37.3" transform="rotate(-1 103.7 333.3)"/><ellipse cx="100.6" cy="334.7" rx="47.0" ry="48.0" transform="rotate(-10 100.6 334.7)"/><ellipse cx="99.4" cy="335.2" rx="67.7" ry="62.2" transform="rotate(2 99.4 335.2)"/><ellipse cx="100.6" cy="335.1" rx="36.0" ry="38.0" transform="rotate(10 100.6 335.1)"/><ellipse cx="103.3" cy="330.5" rx="48.9" ry="52.1" transform="rotate(-4 103.3 330.5)"/><ellipse cx="100.5" cy="333.6" rx="64.2" ry="62.6" transform="rotate(-2 100.5 333.6)"/><ellipse cx="102.7" cy="333.6" rx="53.8" ry="53.0" transform="rotate(-22 102.7 333.6)"/><ellipse cx="101.4" cy="332.4" rx="69.1" ry="62.2" transform="rotate(-6 101.4 332.4)"/><ellipse cx="102.4" cy="332.0" rx="72.2" ry="66.7" transform="rotate(-12 102.4 332.0)"/><ellipse cx="103.0" cy="332.4" rx="66.0" ry="59.5" transform="rotate(-1 103.0 332.4)"/><ellipse cx="101.8" cy="330.0" rx="57.7" ry="55.8" transform="rotate(-3 101.8 330.0)"/><ellipse cx="101.4" cy="335.7" rx="75.6" ry="67.5" transform="rotate(-0 101.4 335.7)"/><ellipse cx="100.5" cy="333.9" rx="27.6" ry="32.3" transform="rotate(-5 100.5 333.9)"/><ellipse cx="102.5" cy="332.0" rx="22.7" ry="30.7" transform="rotate(-16 102.5 332.0)"/><ellipse cx="101.6" cy="333.2" rx="59.8" ry="56.7" transform="rotate(-13 101.6 333.2)"/><ellipse cx="104.9" cy="332.4" rx="38.5" ry="40.3" transform="rotate(-5 104.9 332.4)"/><ellipse cx="105.3" cy="330.2" rx="76.1" ry="67.1" transform="rotate(-5 105.3 330.2)"/><ellipse cx="103.5" cy="333.9" rx="58.2" ry="54.3" transform="rotate(-17 103.5 333.9)"/><ellipse cx="102.4" cy="333.8" rx="72.2" ry="64.0" transform="rotate(-7 102.4 333.8)"/><ellipse cx="100.6" cy="334.8" rx="32.1" ry="36.3" transform="rotate(2 100.6 334.8)"/><ellipse cx="101.1" cy="334.8" rx="72.4" ry="66.7" transform="rotate(-11 101.1 334.8)"/><ellipse cx="101.9" cy="334.3" rx="69.1" ry="62.7" transform="rotate(-10 101.9 334.3)"/><ellipse cx="100.5" cy="332.8" rx="67.0" ry="62.5" transform="rotate(-6 100.5 332.8)"/><ellipse cx="101.5" cy="331.9" rx="48.7" ry="45.7" transform="rotate(-7 101.5 331.9)"/><ellipse cx="105.9" cy="335.0" rx="45.2" ry="47.6" transform="rotate(-5 105.9 335.0)"/><ellipse cx="101.8" cy="332.8" rx="70.0" ry="64.0" transform="rotate(-6 101.8 332.8)"/><ellipse cx="101.3" cy="331.7" rx="67.9" ry="59.5" transform="rotate(-1 101.3 331.7)"/><ellipse cx="102.9" cy="330.0" rx="38.3" ry="43.1" transform="rotate(-4 102.9 330.0)"/><ellipse cx="103.1" cy="332.9" rx="29.8" ry="34.5" transform="rotate(-8 103.1 332.9)"/><ellipse cx="104.4" cy="330.8" rx="39.8" ry="41.3" transform="rotate(-11 104.4 330.8)"/><ellipse cx="99.4" cy="334.4" rx="56.2" ry="54.3" transform="rotate(-5 99.4 334.4)"/><ellipse cx="103.1" cy="334.8" rx="58.2" ry="55.0" transform="rotate(-5 103.1 334.8)"/><ellipse cx="103.2" cy="333.7" rx="21.2" ry="28.3" transform="rotate(-16 103.2 333.7)"/><ellipse cx="101.5" cy="331.1" rx="66.0" ry="61.5" transform="rotate(-6 101.5 331.1)"/><ellipse cx="102.1" cy="330.4" rx="65.4" ry="61.1" transform="rotate(-1 102.1 330.4)"/><ellipse cx="102.4" cy="334.5" rx="70.3" ry="65.5" transform="rotate(-33 102.4 334.5)"/><ellipse cx="102.2" cy="334.3" rx="61.9" ry="58.5" transform="rotate(-2 102.2 334.3)"/><ellipse cx="103.0" cy="333.8" rx="40.4" ry="43.6" transform="rotate(-5 103.0 333.8)"/><ellipse cx="102.4" cy="328.6" rx="62.7" ry="60.9" transform="rotate(-9 102.4 328.6)"/><ellipse cx="104.4" cy="334.4" rx="57.0" ry="54.7" transform="rotate(-0 104.4 334.4)"/><ellipse cx="103.5" cy="336.2" rx="29.4" ry="33.5" transform="rotate(2 103.5 336.2)"/><ellipse cx="102.3" cy="330.3" rx="72.7" ry="65.0" transform="rotate(-10 102.3 330.3)"/><ellipse cx="101.7" cy="331.9" rx="62.8" ry="59.5" transform="rotate(-14 101.7 331.9)"/><ellipse cx="100.1" cy="331.4" rx="73.0" ry="66.3" transform="rotate(-6 100.1 331.4)"/><ellipse cx="105.4" cy="334.5" rx="19.2" ry="25.6" transform="rotate(-3 105.4 334.5)"/><ellipse cx="104.1" cy="331.7" rx="52.6" ry="52.8" transform="rotate(-10 104.1 331.7)"/><ellipse cx="101.2" cy="338.2" rx="27.4" ry="31.1" transform="rotate(-5 101.2 338.2)"/><ellipse cx="102.0" cy="332.1" rx="77.5" ry="68.5" transform="rotate(-13 102.0 332.1)"/><ellipse cx="103.3" cy="333.5" rx="52.0" ry="49.3" transform="rotate(-4 103.3 333.5)"/><ellipse cx="103.3" cy="334.2" rx="74.6" ry="67.6" transform="rotate(-8 103.3 334.2)"/><ellipse cx="102.1" cy="335.4" rx="64.2" ry="58.9" transform="rotate(-15 102.1 335.4)"/><ellipse cx="105.1" cy="331.4" rx="75.1" ry="65.4" transform="rotate(-13 105.1 331.4)"/><ellipse cx="100.2" cy="328.1" rx="30.9" ry="34.2" transform="rotate(3 100.2 328.1)"/><ellipse cx="100.9" cy="332.4" rx="61.0" ry="60.3" transform="rotate(-7 100.9 332.4)"/><ellipse cx="102.7" cy="333.9" rx="56.0" ry="55.3" transform="rotate(-6 102.7 333.9)"/><ellipse cx="101.8" cy="331.3" rx="68.6" ry="61.7" transform="rotate(-18 101.8 331.3)"/><ellipse cx="102.9" cy="333.1" rx="72.6" ry="66.2" transform="rotate(-8 102.9 333.1)"/><ellipse cx="101.4" cy="333.7" rx="37.8" ry="39.8" transform="rotate(-13 101.4 333.7)"/><ellipse cx="102.0" cy="331.1" rx="71.5" ry="65.9" transform="rotate(-7 102.0 331.1)"/><ellipse cx="104.9" cy="332.7" rx="44.5" ry="46.2" transform="rotate(-11 104.9 332.7)"/><ellipse cx="104.8" cy="332.9" rx="39.7" ry="40.5" transform="rotate(-19 104.8 332.9)"/><ellipse cx="105.6" cy="333.0" rx="26.6" ry="34.1" transform="rotate(-0 105.6 333.0)"/><ellipse cx="106.0" cy="330.7" rx="51.8" ry="51.4" transform="rotate(-7 106.0 330.7)"/><ellipse cx="102.7" cy="332.9" rx="57.0" ry="55.4" transform="rotate(2 102.7 332.9)"/><ellipse cx="102.1" cy="330.1" rx="74.6" ry="69.8" transform="rotate(-9 102.1 330.1)"/><ellipse cx="105.5" cy="334.6" rx="53.3" ry="51.2" transform="rotate(-17 105.5 334.6)"/><ellipse cx="104.8" cy="331.8" rx="43.0" ry="43.4" transform="rotate(-23 104.8 331.8)"/><ellipse cx="105.3" cy="333.4" rx="54.5" ry="52.5" transform="rotate(-3 105.3 333.4)"/><ellipse cx="101.9" cy="336.0" rx="57.2" ry="55.7" transform="rotate(-11 101.9 336.0)"/><ellipse cx="102.2" cy="332.4" rx="46.2" ry="48.4" transform="rotate(-3 102.2 332.4)"/><ellipse cx="102.1" cy="332.9" rx="27.5" ry="33.9" transform="rotate(-0 102.1 332.9)"/><ellipse cx="101.4" cy="335.5" rx="40.2" ry="41.0" transform="rotate(-10 101.4 335.5)"/><ellipse cx="99.4" cy="338.8" rx="42.0" ry="43.7" transform="rotate(-14 99.4 338.8)"/><ellipse cx="99.2" cy="336.0" rx="43.2" ry="45.5" transform="rotate(-10 99.2 336.0)"/><ellipse cx="103.0" cy="333.2" rx="73.9" ry="66.5" transform="rotate(-25 103.0 333.2)"/><ellipse cx="100.9" cy="329.6" rx="60.9" ry="55.6" transform="rotate(-10 100.9 329.6)"/><ellipse cx="104.1" cy="336.0" rx="55.2" ry="52.1" transform="rotate(-6 104.1 336.0)"/><ellipse cx="105.7" cy="334.0" rx="18.1" ry="27.4" transform="rotate(-9 105.7 334.0)"/></g>
<g fill="none" stroke="#BEBEBE" stroke-width="0.9" opacity="0.38"><ellipse cx="102.1" cy="332.1" rx="23.9" ry="29.7" transform="rotate(-14 102.1 332.1)"/><ellipse cx="106.3" cy="333.6" rx="30.4" ry="34.6" transform="rotate(-11 106.3 333.6)"/><ellipse cx="102.0" cy="334.2" rx="42.1" ry="43.4" transform="rotate(-28 102.0 334.2)"/><ellipse cx="102.2" cy="333.8" rx="60.4" ry="57.1" transform="rotate(-7 102.2 333.8)"/><ellipse cx="103.0" cy="332.5" rx="34.6" ry="37.8" transform="rotate(-8 103.0 332.5)"/><ellipse cx="100.7" cy="335.4" rx="37.7" ry="40.1" transform="rotate(-2 100.7 335.4)"/><ellipse cx="103.2" cy="333.4" rx="41.1" ry="42.6" transform="rotate(-0 103.2 333.4)"/><ellipse cx="101.6" cy="337.2" rx="55.2" ry="53.2" transform="rotate(-21 101.6 337.2)"/><ellipse cx="104.3" cy="333.5" rx="24.7" ry="30.3" transform="rotate(-0 104.3 333.5)"/><ellipse cx="102.5" cy="334.7" rx="16.8" ry="24.5" transform="rotate(-6 102.5 334.7)"/><ellipse cx="103.3" cy="330.4" rx="19.7" ry="26.6" transform="rotate(-11 103.3 330.4)"/><ellipse cx="104.2" cy="331.3" rx="21.0" ry="27.6" transform="rotate(-20 104.2 331.3)"/><ellipse cx="102.8" cy="334.4" rx="39.6" ry="41.5" transform="rotate(-23 102.8 334.4)"/><ellipse cx="105.0" cy="331.6" rx="21.3" ry="27.8" transform="rotate(2 105.0 331.6)"/><ellipse cx="103.3" cy="332.2" rx="25.7" ry="31.1" transform="rotate(-9 103.3 332.2)"/><ellipse cx="99.6" cy="332.6" rx="59.7" ry="56.6" transform="rotate(-16 99.6 332.6)"/><ellipse cx="105.7" cy="333.1" rx="61.7" ry="58.0" transform="rotate(-9 105.7 333.1)"/><ellipse cx="101.6" cy="332.4" rx="51.5" ry="50.4" transform="rotate(-7 101.6 332.4)"/><ellipse cx="106.5" cy="333.0" rx="59.6" ry="56.5" transform="rotate(-8 106.5 333.0)"/><ellipse cx="100.0" cy="333.1" rx="29.0" ry="33.6" transform="rotate(-6 100.0 333.1)"/><ellipse cx="101.9" cy="331.2" rx="25.1" ry="30.6" transform="rotate(-14 101.9 331.2)"/><ellipse cx="102.9" cy="337.3" rx="50.0" ry="49.3" transform="rotate(2 102.9 337.3)"/><ellipse cx="107.0" cy="336.6" rx="19.7" ry="26.6" transform="rotate(4 107.0 336.6)"/><ellipse cx="101.9" cy="334.2" rx="39.8" ry="41.7" transform="rotate(-13 101.9 334.2)"/><ellipse cx="101.2" cy="330.9" rx="27.3" ry="32.3" transform="rotate(-19 101.2 330.9)"/><ellipse cx="105.0" cy="331.9" rx="27.3" ry="32.3" transform="rotate(-19 105.0 331.9)"/><ellipse cx="100.2" cy="331.5" rx="21.3" ry="27.8" transform="rotate(-7 100.2 331.5)"/><ellipse cx="100.9" cy="332.2" rx="41.3" ry="42.8" transform="rotate(-12 100.9 332.2)"/><ellipse cx="106.0" cy="332.3" rx="23.0" ry="29.1" transform="rotate(-16 106.0 332.3)"/><ellipse cx="103.2" cy="335.3" rx="51.7" ry="50.6" transform="rotate(-19 103.2 335.3)"/><ellipse cx="102.5" cy="337.1" rx="46.2" ry="46.5" transform="rotate(-10 102.5 337.1)"/><ellipse cx="104.6" cy="333.0" rx="29.9" ry="34.2" transform="rotate(-10 104.6 333.0)"/><ellipse cx="105.1" cy="334.7" rx="29.3" ry="33.8" transform="rotate(-5 105.1 334.7)"/><ellipse cx="102.1" cy="329.8" rx="55.7" ry="53.6" transform="rotate(-19 102.1 329.8)"/><ellipse cx="104.1" cy="334.9" rx="50.4" ry="49.6" transform="rotate(-8 104.1 334.9)"/><ellipse cx="102.0" cy="332.7" rx="39.9" ry="41.7" transform="rotate(-11 102.0 332.7)"/><ellipse cx="100.2" cy="332.7" rx="62.9" ry="58.9" transform="rotate(-7 100.2 332.7)"/><ellipse cx="104.8" cy="332.6" rx="42.6" ry="43.7" transform="rotate(-18 104.8 332.6)"/><ellipse cx="101.3" cy="331.0" rx="34.0" ry="37.3" transform="rotate(-11 101.3 331.0)"/><ellipse cx="102.7" cy="332.9" rx="49.9" ry="49.2" transform="rotate(1 102.7 332.9)"/><ellipse cx="103.7" cy="334.0" rx="64.6" ry="60.2" transform="rotate(0 103.7 334.0)"/><ellipse cx="97.0" cy="335.3" rx="24.5" ry="30.2" transform="rotate(-8 97.0 335.3)"/><ellipse cx="102.0" cy="332.2" rx="24.0" ry="29.8" transform="rotate(-17 102.0 332.2)"/><ellipse cx="104.1" cy="329.7" rx="44.8" ry="45.4" transform="rotate(-6 104.1 329.7)"/><ellipse cx="100.8" cy="335.4" rx="17.1" ry="24.7" transform="rotate(-5 100.8 335.4)"/><ellipse cx="103.0" cy="334.8" rx="40.4" ry="42.1" transform="rotate(-21 103.0 334.8)"/><ellipse cx="100.7" cy="334.2" rx="29.2" ry="33.7" transform="rotate(-15 100.7 334.2)"/><ellipse cx="101.6" cy="329.9" rx="42.2" ry="43.5" transform="rotate(-4 101.6 329.9)"/><ellipse cx="101.3" cy="328.1" rx="45.5" ry="45.9" transform="rotate(-13 101.3 328.1)"/><ellipse cx="98.9" cy="331.8" rx="47.6" ry="47.5" transform="rotate(-10 98.9 331.8)"/></g>
<g fill="none" stroke="#E4213F" stroke-width="0.8" opacity="0.7"><ellipse cx="102.8" cy="331.0" rx="78.2" ry="70.4" transform="rotate(-17 102.8 331.0)"/><ellipse cx="99.4" cy="334.1" rx="75.9" ry="68.7" transform="rotate(-11 99.4 334.1)"/><ellipse cx="103.6" cy="334.1" rx="75.9" ry="68.6" transform="rotate(-5 103.6 334.1)"/><ellipse cx="99.4" cy="335.7" rx="76.4" ry="69.1" transform="rotate(-18 99.4 335.7)"/><ellipse cx="104.3" cy="331.2" rx="77.4" ry="69.8" transform="rotate(-20 104.3 331.2)"/><ellipse cx="103.9" cy="332.1" rx="74.0" ry="67.2" transform="rotate(-19 103.9 332.1)"/><ellipse cx="101.8" cy="333.8" rx="74.6" ry="67.7" transform="rotate(-16 101.8 333.8)"/><ellipse cx="102.7" cy="333.1" rx="75.9" ry="68.6" transform="rotate(-5 102.7 333.1)"/><ellipse cx="102.9" cy="334.2" rx="77.7" ry="70.0" transform="rotate(-7 102.9 334.2)"/><ellipse cx="97.6" cy="335.7" rx="76.8" ry="69.4" transform="rotate(-16 97.6 335.7)"/><ellipse cx="99.9" cy="335.9" rx="74.4" ry="67.6" transform="rotate(-6 99.9 335.9)"/><ellipse cx="105.7" cy="334.5" rx="75.3" ry="68.2" transform="rotate(-22 105.7 334.5)"/><ellipse cx="103.5" cy="336.2" rx="77.1" ry="69.5" transform="rotate(0 103.5 336.2)"/><ellipse cx="102.2" cy="331.6" rx="76.8" ry="69.4" transform="rotate(-7 102.2 331.6)"/><ellipse cx="100.0" cy="336.6" rx="27.2" ry="32.2" transform="rotate(3 100.0 336.6)"/><ellipse cx="100.6" cy="334.0" rx="20.4" ry="27.1" transform="rotate(-13 100.6 334.0)"/><ellipse cx="101.4" cy="332.3" rx="21.8" ry="28.2" transform="rotate(2 101.4 332.3)"/><ellipse cx="102.3" cy="335.3" rx="23.6" ry="29.5" transform="rotate(-12 102.3 335.3)"/><ellipse cx="101.6" cy="330.3" rx="26.0" ry="31.3" transform="rotate(-20 101.6 330.3)"/><ellipse cx="101.7" cy="333.7" rx="17.9" ry="25.2" transform="rotate(8 101.7 333.7)"/><ellipse cx="105.1" cy="331.7" rx="23.1" ry="29.1" transform="rotate(14 105.1 331.7)"/><ellipse cx="104.4" cy="331.6" rx="19.4" ry="26.4" transform="rotate(-9 104.4 331.6)"/><ellipse cx="103.9" cy="336.0" rx="22.4" ry="28.6" transform="rotate(3 103.9 336.0)"/><ellipse cx="103.6" cy="332.2" rx="25.2" ry="30.7" transform="rotate(-13 103.6 332.2)"/></g>
<filter id="b2" x="-20%" y="-20%" width="140%" height="140%"><feGaussianBlur stdDeviation="1.2"/></filter>
<path d="M223.1,326.7a65.5,62.5 0 1,0 131.0,0a65.5,62.5 0 1,0 -131.0,0zM249.7,326.9a34.0,34.5 0 1,0 68.0,0a34.0,34.5 0 1,0 -68.0,0z" fill="#E4213F" fill-rule="evenodd" opacity="1" filter="url(#b2)" transform="rotate(0 288.6 326.7)"/>
<g fill="none" stroke="#E4213F" stroke-width="0.9" opacity="0.8"><ellipse cx="285.6" cy="326.9" rx="36.1" ry="34.6" transform="rotate(-23 285.6 326.9)"/><ellipse cx="285.3" cy="326.3" rx="38.8" ry="37.8" transform="rotate(-6 285.3 326.3)"/><ellipse cx="287.1" cy="325.9" rx="58.8" ry="57.5" transform="rotate(-1 287.1 325.9)"/><ellipse cx="287.3" cy="328.6" rx="51.8" ry="51.3" transform="rotate(9 287.3 328.6)"/><ellipse cx="285.9" cy="324.4" rx="45.3" ry="44.0" transform="rotate(15 285.9 324.4)"/><ellipse cx="286.0" cy="327.5" rx="39.6" ry="38.3" transform="rotate(12 286.0 327.5)"/><ellipse cx="285.8" cy="327.0" rx="37.0" ry="33.7" transform="rotate(-11 285.8 327.0)"/><ellipse cx="287.1" cy="326.3" rx="55.9" ry="55.3" transform="rotate(17 287.1 326.3)"/><ellipse cx="285.5" cy="325.8" rx="56.1" ry="54.3" transform="rotate(-20 285.5 325.8)"/><ellipse cx="287.3" cy="327.2" rx="42.4" ry="41.7" transform="rotate(-16 287.3 327.2)"/><ellipse cx="282.2" cy="327.0" rx="31.5" ry="30.7" transform="rotate(3 282.2 327.0)"/><ellipse cx="284.4" cy="328.2" rx="48.3" ry="46.4" transform="rotate(8 284.4 328.2)"/><ellipse cx="287.7" cy="326.8" rx="62.2" ry="57.8" transform="rotate(12 287.7 326.8)"/><ellipse cx="284.6" cy="328.7" rx="39.9" ry="39.5" transform="rotate(7 284.6 328.7)"/><ellipse cx="289.9" cy="326.6" rx="60.8" ry="58.7" transform="rotate(2 289.9 326.6)"/><ellipse cx="287.3" cy="325.0" rx="30.9" ry="30.6" transform="rotate(-4 287.3 325.0)"/><ellipse cx="284.4" cy="325.9" rx="42.0" ry="39.6" transform="rotate(6 284.4 325.9)"/><ellipse cx="287.3" cy="327.9" rx="58.1" ry="53.7" transform="rotate(-7 287.3 327.9)"/><ellipse cx="287.6" cy="327.1" rx="37.6" ry="36.7" transform="rotate(6 287.6 327.1)"/><ellipse cx="286.7" cy="326.2" rx="50.1" ry="49.8" transform="rotate(10 286.7 326.2)"/><ellipse cx="285.9" cy="327.0" rx="38.0" ry="38.8" transform="rotate(12 285.9 327.0)"/><ellipse cx="286.8" cy="326.7" rx="53.7" ry="52.3" transform="rotate(10 286.8 326.7)"/><ellipse cx="287.0" cy="324.5" rx="61.8" ry="58.7" transform="rotate(-7 287.0 324.5)"/><ellipse cx="288.0" cy="326.5" rx="51.4" ry="48.9" transform="rotate(-9 288.0 326.5)"/><ellipse cx="285.9" cy="327.5" rx="32.9" ry="34.6" transform="rotate(11 285.9 327.5)"/><ellipse cx="289.3" cy="325.0" rx="62.7" ry="60.7" transform="rotate(10 289.3 325.0)"/><ellipse cx="286.3" cy="326.7" rx="48.1" ry="46.3" transform="rotate(-4 286.3 326.7)"/><ellipse cx="288.2" cy="327.8" rx="57.3" ry="56.7" transform="rotate(-16 288.2 327.8)"/><ellipse cx="286.9" cy="325.5" rx="40.9" ry="41.0" transform="rotate(-20 286.9 325.5)"/><ellipse cx="286.2" cy="325.5" rx="58.4" ry="56.3" transform="rotate(14 286.2 325.5)"/><ellipse cx="288.4" cy="327.2" rx="40.0" ry="39.2" transform="rotate(7 288.4 327.2)"/><ellipse cx="287.4" cy="324.4" rx="51.1" ry="47.4" transform="rotate(-3 287.4 324.4)"/><ellipse cx="286.0" cy="327.3" rx="43.6" ry="44.9" transform="rotate(14 286.0 327.3)"/><ellipse cx="283.3" cy="328.2" rx="34.3" ry="35.8" transform="rotate(4 283.3 328.2)"/><ellipse cx="286.1" cy="328.9" rx="56.8" ry="53.4" transform="rotate(19 286.1 328.9)"/><ellipse cx="283.8" cy="325.6" rx="42.7" ry="38.9" transform="rotate(5 283.8 325.6)"/><ellipse cx="284.8" cy="327.7" rx="44.7" ry="44.2" transform="rotate(-2 284.8 327.7)"/><ellipse cx="287.1" cy="325.3" rx="59.6" ry="56.8" transform="rotate(-6 287.1 325.3)"/><ellipse cx="282.7" cy="326.6" rx="44.4" ry="43.6" transform="rotate(6 282.7 326.6)"/><ellipse cx="290.8" cy="328.1" rx="50.1" ry="48.4" transform="rotate(16 290.8 328.1)"/><ellipse cx="288.0" cy="327.2" rx="38.8" ry="37.8" transform="rotate(-3 288.0 327.2)"/><ellipse cx="287.1" cy="326.5" rx="47.5" ry="48.9" transform="rotate(5 287.1 326.5)"/><ellipse cx="285.2" cy="327.3" rx="33.4" ry="34.1" transform="rotate(-20 285.2 327.3)"/><ellipse cx="286.1" cy="325.3" rx="39.0" ry="39.7" transform="rotate(13 286.1 325.3)"/><ellipse cx="287.5" cy="326.5" rx="41.7" ry="42.7" transform="rotate(-4 287.5 326.5)"/><ellipse cx="287.5" cy="327.0" rx="60.1" ry="56.9" transform="rotate(32 287.5 327.0)"/><ellipse cx="289.1" cy="326.6" rx="63.6" ry="60.8" transform="rotate(-12 289.1 326.6)"/><ellipse cx="289.4" cy="327.4" rx="56.9" ry="56.2" transform="rotate(-30 289.4 327.4)"/><ellipse cx="284.1" cy="324.7" rx="32.7" ry="33.9" transform="rotate(5 284.1 324.7)"/><ellipse cx="286.4" cy="325.6" rx="44.8" ry="47.5" transform="rotate(-16 286.4 325.6)"/><ellipse cx="289.0" cy="327.1" rx="62.4" ry="58.0" transform="rotate(6 289.0 327.1)"/><ellipse cx="289.0" cy="326.3" rx="63.6" ry="63.6" transform="rotate(-9 289.0 326.3)"/><ellipse cx="283.5" cy="324.5" rx="58.8" ry="56.0" transform="rotate(5 283.5 324.5)"/><ellipse cx="288.7" cy="328.1" rx="63.9" ry="60.4" transform="rotate(-5 288.7 328.1)"/><ellipse cx="288.7" cy="327.9" rx="46.8" ry="43.4" transform="rotate(-5 288.7 327.9)"/><ellipse cx="284.5" cy="325.4" rx="35.8" ry="36.0" transform="rotate(-32 284.5 325.4)"/><ellipse cx="284.5" cy="325.8" rx="46.6" ry="46.8" transform="rotate(23 284.5 325.8)"/><ellipse cx="287.9" cy="327.1" rx="65.5" ry="62.9" transform="rotate(11 287.9 327.1)"/><ellipse cx="287.4" cy="326.5" rx="62.7" ry="59.5" transform="rotate(3 287.4 326.5)"/><ellipse cx="287.5" cy="326.7" rx="68.0" ry="65.1" transform="rotate(14 287.5 326.7)"/><ellipse cx="284.8" cy="327.8" rx="33.0" ry="32.7" transform="rotate(-11 284.8 327.8)"/><ellipse cx="288.9" cy="327.5" rx="62.8" ry="62.2" transform="rotate(1 288.9 327.5)"/><ellipse cx="289.2" cy="326.6" rx="58.8" ry="56.9" transform="rotate(-5 289.2 326.6)"/><ellipse cx="285.9" cy="329.6" rx="63.9" ry="60.4" transform="rotate(1 285.9 329.6)"/><ellipse cx="281.9" cy="326.7" rx="37.7" ry="38.2" transform="rotate(-5 281.9 326.7)"/><ellipse cx="283.7" cy="328.2" rx="30.6" ry="33.5" transform="rotate(24 283.7 328.2)"/><ellipse cx="286.1" cy="328.0" rx="48.5" ry="47.0" transform="rotate(-11 286.1 328.0)"/><ellipse cx="285.8" cy="326.9" rx="59.5" ry="56.9" transform="rotate(16 285.8 326.9)"/><ellipse cx="287.0" cy="326.7" rx="52.1" ry="52.9" transform="rotate(-18 287.0 326.7)"/><ellipse cx="286.8" cy="326.9" rx="60.0" ry="55.6" transform="rotate(-6 286.8 326.9)"/><ellipse cx="284.7" cy="327.3" rx="36.9" ry="37.2" transform="rotate(-7 284.7 327.3)"/><ellipse cx="282.8" cy="326.8" rx="38.9" ry="38.3" transform="rotate(5 282.8 326.8)"/><ellipse cx="285.5" cy="328.9" rx="49.5" ry="47.4" transform="rotate(-17 285.5 328.9)"/><ellipse cx="285.6" cy="325.6" rx="50.4" ry="48.5" transform="rotate(-6 285.6 325.6)"/><ellipse cx="283.6" cy="326.3" rx="31.5" ry="32.6" transform="rotate(13 283.6 326.3)"/><ellipse cx="287.4" cy="324.9" rx="44.5" ry="41.1" transform="rotate(-6 287.4 324.9)"/><ellipse cx="284.4" cy="326.4" rx="50.0" ry="48.3" transform="rotate(-5 284.4 326.4)"/><ellipse cx="284.7" cy="324.4" rx="58.7" ry="55.0" transform="rotate(-10 284.7 324.4)"/><ellipse cx="285.0" cy="327.0" rx="43.1" ry="41.8" transform="rotate(-2 285.0 327.0)"/><ellipse cx="284.9" cy="327.5" rx="48.7" ry="47.1" transform="rotate(6 284.9 327.5)"/><ellipse cx="287.1" cy="328.8" rx="64.7" ry="60.9" transform="rotate(1 287.1 328.8)"/><ellipse cx="286.5" cy="326.9" rx="58.4" ry="55.8" transform="rotate(1 286.5 326.9)"/><ellipse cx="288.7" cy="327.0" rx="63.5" ry="60.8" transform="rotate(-11 288.7 327.0)"/><ellipse cx="282.7" cy="325.3" rx="34.4" ry="36.2" transform="rotate(3 282.7 325.3)"/><ellipse cx="288.5" cy="328.4" rx="40.5" ry="39.1" transform="rotate(-7 288.5 328.4)"/><ellipse cx="285.3" cy="326.1" rx="38.1" ry="37.8" transform="rotate(-23 285.3 326.1)"/><ellipse cx="286.5" cy="326.0" rx="58.3" ry="54.7" transform="rotate(-18 286.5 326.0)"/><ellipse cx="283.1" cy="326.3" rx="44.6" ry="42.8" transform="rotate(-11 283.1 326.3)"/><ellipse cx="285.1" cy="329.4" rx="42.7" ry="40.8" transform="rotate(-39 285.1 329.4)"/><ellipse cx="283.4" cy="327.4" rx="44.4" ry="44.7" transform="rotate(33 283.4 327.4)"/><ellipse cx="285.9" cy="329.2" rx="45.1" ry="43.9" transform="rotate(20 285.9 329.2)"/><ellipse cx="284.6" cy="326.5" rx="31.3" ry="33.1" transform="rotate(4 284.6 326.5)"/><ellipse cx="288.9" cy="325.3" rx="54.3" ry="54.7" transform="rotate(-6 288.9 325.3)"/><ellipse cx="286.8" cy="329.0" rx="63.9" ry="60.1" transform="rotate(37 286.8 329.0)"/><ellipse cx="284.6" cy="327.2" rx="34.1" ry="35.6" transform="rotate(-11 284.6 327.2)"/><ellipse cx="289.1" cy="327.4" rx="52.4" ry="49.6" transform="rotate(-1 289.1 327.4)"/><ellipse cx="283.5" cy="326.4" rx="31.2" ry="30.4" transform="rotate(-13 283.5 326.4)"/><ellipse cx="283.8" cy="326.4" rx="31.8" ry="33.3" transform="rotate(-19 283.8 326.4)"/><ellipse cx="284.7" cy="328.9" rx="59.1" ry="58.5" transform="rotate(-13 284.7 328.9)"/><ellipse cx="285.7" cy="324.3" rx="46.6" ry="46.8" transform="rotate(-10 285.7 324.3)"/><ellipse cx="286.8" cy="327.4" rx="42.0" ry="41.9" transform="rotate(-3 286.8 327.4)"/><ellipse cx="283.0" cy="326.0" rx="35.4" ry="34.5" transform="rotate(9 283.0 326.0)"/><ellipse cx="283.5" cy="324.6" rx="31.7" ry="32.6" transform="rotate(7 283.5 324.6)"/><ellipse cx="289.8" cy="327.1" rx="64.2" ry="61.9" transform="rotate(20 289.8 327.1)"/><ellipse cx="286.3" cy="326.4" rx="62.1" ry="61.4" transform="rotate(12 286.3 326.4)"/><ellipse cx="287.8" cy="325.2" rx="65.1" ry="62.3" transform="rotate(-14 287.8 325.2)"/><ellipse cx="285.8" cy="329.2" rx="59.9" ry="56.2" transform="rotate(-27 285.8 329.2)"/><ellipse cx="285.7" cy="326.0" rx="32.7" ry="33.6" transform="rotate(33 285.7 326.0)"/><ellipse cx="288.4" cy="327.4" rx="65.7" ry="64.6" transform="rotate(-14 288.4 327.4)"/><ellipse cx="283.7" cy="327.0" rx="36.1" ry="33.7" transform="rotate(31 283.7 327.0)"/></g>
<g fill="none" stroke="#BEBEBE" stroke-width="0.9" opacity="0.32"><ellipse cx="286.6" cy="327.6" rx="43.6" ry="42.9" transform="rotate(13 286.6 327.6)"/><ellipse cx="288.1" cy="325.0" rx="53.5" ry="51.9" transform="rotate(16 288.1 325.0)"/><ellipse cx="284.4" cy="328.4" rx="34.2" ry="34.4" transform="rotate(-5 284.4 328.4)"/><ellipse cx="284.6" cy="325.0" rx="43.7" ry="43.0" transform="rotate(-14 284.6 325.0)"/><ellipse cx="283.5" cy="326.1" rx="38.2" ry="37.9" transform="rotate(-8 283.5 326.1)"/><ellipse cx="284.4" cy="328.3" rx="37.9" ry="37.7" transform="rotate(-10 284.4 328.3)"/><ellipse cx="283.6" cy="329.4" rx="30.5" ry="31.0" transform="rotate(-4 283.6 329.4)"/><ellipse cx="284.8" cy="325.6" rx="41.4" ry="40.9" transform="rotate(1 284.8 325.6)"/><ellipse cx="284.0" cy="327.7" rx="31.4" ry="31.8" transform="rotate(4 284.0 327.7)"/></g>
<g fill="none" stroke="#E4213F" stroke-width="1" opacity="0.75"><ellipse cx="293.6" cy="329.7" rx="74" ry="66" transform="rotate(20 288.6 326.7)"/><ellipse cx="296.6" cy="328.7" rx="76" ry="62" transform="rotate(35 288.6 326.7)"/><ellipse cx="291.6" cy="331.7" rx="72" ry="67" transform="rotate(50 288.6 326.7)"/><ellipse cx="292.6" cy="332.7" rx="69" ry="68" transform="rotate(10 288.6 326.7)"/><path d="M251.9,327.3 L316.5,327.3"/><path d="M262,300 C256,315 258,330 262,337 L272,340 C278,350 284,356 292,359"/><path d="M266,300 C290,292 306,302 313,318"/><path d="M258,338 C262,352 276,362 294,360"/></g>
<filter id="b3" x="-20%" y="-20%" width="140%" height="140%"><feGaussianBlur stdDeviation="1.2"/></filter>
<path d="M416.3,323.7a56.5,53.5 0 1,0 113.0,0a56.5,53.5 0 1,0 -113.0,0zM433.8,321.8a37.0,39.9 0 1,0 74.0,0a37.0,39.9 0 1,0 -74.0,0z" fill="#E4213F" fill-rule="evenodd" opacity="1" filter="url(#b3)" transform="rotate(-18 472.8 323.7)"/>
<g fill="none" stroke="#E4213F" stroke-width="0.9" opacity="0.8"><ellipse cx="471.2" cy="323.4" rx="47.2" ry="45.5" transform="rotate(-36 471.2 323.4)"/><ellipse cx="472.1" cy="322.4" rx="35.8" ry="35.8" transform="rotate(-31 472.1 322.4)"/><ellipse cx="471.0" cy="323.0" rx="38.8" ry="42.0" transform="rotate(-19 471.0 323.0)"/><ellipse cx="471.4" cy="320.0" rx="46.4" ry="46.0" transform="rotate(-15 471.4 320.0)"/><ellipse cx="471.9" cy="322.4" rx="46.9" ry="47.4" transform="rotate(-14 471.9 322.4)"/><ellipse cx="471.1" cy="322.7" rx="41.9" ry="44.2" transform="rotate(-19 471.1 322.7)"/><ellipse cx="471.7" cy="326.1" rx="55.4" ry="52.7" transform="rotate(-20 471.7 326.1)"/><ellipse cx="471.8" cy="320.6" rx="41.2" ry="42.1" transform="rotate(-13 471.8 320.6)"/><ellipse cx="470.0" cy="326.2" rx="50.0" ry="49.1" transform="rotate(7 470.0 326.2)"/><ellipse cx="470.0" cy="324.5" rx="37.7" ry="39.6" transform="rotate(-1 470.0 324.5)"/><ellipse cx="470.7" cy="324.2" rx="40.7" ry="41.4" transform="rotate(-13 470.7 324.2)"/><ellipse cx="473.9" cy="324.5" rx="51.9" ry="49.8" transform="rotate(-27 473.9 324.5)"/><ellipse cx="474.2" cy="324.7" rx="58.4" ry="55.6" transform="rotate(-5 474.2 324.7)"/><ellipse cx="473.2" cy="324.3" rx="54.5" ry="51.8" transform="rotate(-34 473.2 324.3)"/><ellipse cx="473.0" cy="322.7" rx="40.4" ry="40.5" transform="rotate(-16 473.0 322.7)"/><ellipse cx="471.1" cy="322.6" rx="49.4" ry="47.5" transform="rotate(-14 471.1 322.6)"/><ellipse cx="472.7" cy="322.5" rx="41.2" ry="40.7" transform="rotate(-38 472.7 322.5)"/><ellipse cx="471.9" cy="321.0" rx="50.9" ry="47.6" transform="rotate(-23 471.9 321.0)"/><ellipse cx="473.0" cy="325.0" rx="50.6" ry="50.4" transform="rotate(-27 473.0 325.0)"/><ellipse cx="472.7" cy="325.1" rx="52.0" ry="50.5" transform="rotate(-7 472.7 325.1)"/><ellipse cx="470.7" cy="319.8" rx="43.5" ry="42.9" transform="rotate(-28 470.7 319.8)"/><ellipse cx="471.7" cy="319.6" rx="34.4" ry="36.0" transform="rotate(5 471.7 319.6)"/><ellipse cx="472.5" cy="326.2" rx="48.4" ry="47.0" transform="rotate(-16 472.5 326.2)"/><ellipse cx="471.8" cy="319.9" rx="36.1" ry="37.3" transform="rotate(-35 471.8 319.9)"/><ellipse cx="472.8" cy="322.8" rx="49.9" ry="48.2" transform="rotate(-10 472.8 322.8)"/><ellipse cx="472.4" cy="323.6" rx="52.6" ry="52.1" transform="rotate(-14 472.4 323.6)"/><ellipse cx="472.2" cy="323.2" rx="40.0" ry="41.7" transform="rotate(-21 472.2 323.2)"/><ellipse cx="470.9" cy="321.0" rx="48.6" ry="46.1" transform="rotate(0 470.9 321.0)"/><ellipse cx="473.6" cy="321.7" rx="55.0" ry="50.9" transform="rotate(-7 473.6 321.7)"/><ellipse cx="470.4" cy="323.8" rx="39.1" ry="40.8" transform="rotate(-31 470.4 323.8)"/><ellipse cx="471.5" cy="322.4" rx="48.3" ry="49.6" transform="rotate(-26 471.5 322.4)"/><ellipse cx="473.4" cy="322.4" rx="53.5" ry="51.9" transform="rotate(-28 473.4 322.4)"/><ellipse cx="471.9" cy="321.5" rx="42.3" ry="41.5" transform="rotate(-17 471.9 321.5)"/><ellipse cx="471.7" cy="322.1" rx="39.8" ry="41.6" transform="rotate(-19 471.7 322.1)"/><ellipse cx="473.0" cy="320.7" rx="51.7" ry="49.7" transform="rotate(-25 473.0 320.7)"/><ellipse cx="472.6" cy="321.6" rx="58.9" ry="54.6" transform="rotate(-22 472.6 321.6)"/><ellipse cx="470.0" cy="322.4" rx="44.6" ry="44.1" transform="rotate(-27 470.0 322.4)"/><ellipse cx="469.4" cy="323.4" rx="36.8" ry="39.5" transform="rotate(-34 469.4 323.4)"/><ellipse cx="470.7" cy="321.7" rx="50.9" ry="51.1" transform="rotate(-12 470.7 321.7)"/><ellipse cx="472.0" cy="322.4" rx="37.8" ry="39.2" transform="rotate(-17 472.0 322.4)"/><ellipse cx="467.6" cy="322.0" rx="43.5" ry="45.4" transform="rotate(-14 467.6 322.0)"/><ellipse cx="472.1" cy="325.3" rx="55.6" ry="54.7" transform="rotate(-37 472.1 325.3)"/><ellipse cx="471.0" cy="322.7" rx="42.7" ry="42.8" transform="rotate(-16 471.0 322.7)"/><ellipse cx="473.1" cy="320.9" rx="35.9" ry="37.7" transform="rotate(-21 473.1 320.9)"/><ellipse cx="471.3" cy="321.4" rx="42.6" ry="44.2" transform="rotate(-27 471.3 321.4)"/><ellipse cx="472.0" cy="320.5" rx="58.0" ry="55.9" transform="rotate(-11 472.0 320.5)"/><ellipse cx="471.2" cy="323.4" rx="57.0" ry="54.9" transform="rotate(-14 471.2 323.4)"/><ellipse cx="469.4" cy="323.1" rx="39.7" ry="41.1" transform="rotate(-23 469.4 323.1)"/><ellipse cx="470.4" cy="322.1" rx="51.0" ry="48.8" transform="rotate(-23 470.4 322.1)"/><ellipse cx="471.6" cy="323.7" rx="50.8" ry="50.3" transform="rotate(-26 471.6 323.7)"/><ellipse cx="474.5" cy="322.5" rx="53.2" ry="51.2" transform="rotate(-19 474.5 322.5)"/><ellipse cx="471.8" cy="324.0" rx="51.1" ry="48.8" transform="rotate(-7 471.8 324.0)"/><ellipse cx="471.1" cy="323.8" rx="58.1" ry="52.5" transform="rotate(-19 471.1 323.8)"/><ellipse cx="473.3" cy="325.6" rx="48.5" ry="49.3" transform="rotate(-1 473.3 325.6)"/><ellipse cx="471.5" cy="322.8" rx="45.5" ry="45.1" transform="rotate(-19 471.5 322.8)"/><ellipse cx="471.9" cy="322.6" rx="55.9" ry="55.8" transform="rotate(-11 471.9 322.6)"/><ellipse cx="471.1" cy="324.0" rx="47.5" ry="47.3" transform="rotate(-20 471.1 324.0)"/><ellipse cx="470.8" cy="320.5" rx="41.8" ry="42.5" transform="rotate(-31 470.8 320.5)"/><ellipse cx="469.6" cy="321.9" rx="39.3" ry="42.3" transform="rotate(-1 469.6 321.9)"/><ellipse cx="471.9" cy="323.1" rx="36.4" ry="39.0" transform="rotate(-27 471.9 323.1)"/><ellipse cx="469.3" cy="323.4" rx="37.0" ry="38.7" transform="rotate(-10 469.3 323.4)"/><ellipse cx="470.3" cy="323.8" rx="49.6" ry="46.7" transform="rotate(-19 470.3 323.8)"/><ellipse cx="471.9" cy="321.5" rx="57.9" ry="55.1" transform="rotate(-40 471.9 321.5)"/><ellipse cx="474.3" cy="321.8" rx="54.4" ry="52.9" transform="rotate(-26 474.3 321.8)"/><ellipse cx="469.4" cy="325.4" rx="44.5" ry="46.5" transform="rotate(-12 469.4 325.4)"/><ellipse cx="471.1" cy="320.5" rx="38.5" ry="39.7" transform="rotate(-45 471.1 320.5)"/><ellipse cx="472.1" cy="321.3" rx="38.9" ry="41.7" transform="rotate(-14 472.1 321.3)"/><ellipse cx="473.8" cy="322.5" rx="46.1" ry="45.5" transform="rotate(-24 473.8 322.5)"/><ellipse cx="473.7" cy="320.2" rx="36.4" ry="39.7" transform="rotate(-6 473.7 320.2)"/><ellipse cx="471.6" cy="325.5" rx="49.5" ry="49.3" transform="rotate(-18 471.6 325.5)"/><ellipse cx="472.9" cy="323.0" rx="42.7" ry="44.1" transform="rotate(-12 472.9 323.0)"/><ellipse cx="473.8" cy="323.1" rx="54.2" ry="55.1" transform="rotate(-22 473.8 323.1)"/><ellipse cx="472.3" cy="324.1" rx="49.1" ry="49.2" transform="rotate(-14 472.3 324.1)"/><ellipse cx="469.7" cy="321.4" rx="39.5" ry="41.3" transform="rotate(-22 469.7 321.4)"/><ellipse cx="471.1" cy="323.6" rx="37.4" ry="39.0" transform="rotate(-17 471.1 323.6)"/><ellipse cx="470.9" cy="322.5" rx="45.4" ry="49.0" transform="rotate(-24 470.9 322.5)"/><ellipse cx="471.7" cy="322.6" rx="36.8" ry="37.7" transform="rotate(-17 471.7 322.6)"/><ellipse cx="471.2" cy="325.3" rx="50.6" ry="51.7" transform="rotate(-21 471.2 325.3)"/><ellipse cx="472.9" cy="324.1" rx="51.5" ry="50.7" transform="rotate(-7 472.9 324.1)"/><ellipse cx="473.3" cy="324.9" rx="58.1" ry="56.7" transform="rotate(-19 473.3 324.9)"/><ellipse cx="472.9" cy="321.9" rx="42.5" ry="42.6" transform="rotate(-25 472.9 321.9)"/><ellipse cx="469.1" cy="322.6" rx="41.4" ry="43.8" transform="rotate(-17 469.1 322.6)"/><ellipse cx="471.0" cy="323.2" rx="49.0" ry="48.0" transform="rotate(-22 471.0 323.2)"/><ellipse cx="471.4" cy="322.7" rx="38.6" ry="42.1" transform="rotate(-33 471.4 322.7)"/><ellipse cx="471.7" cy="322.7" rx="39.4" ry="39.9" transform="rotate(-11 471.7 322.7)"/><ellipse cx="474.4" cy="322.5" rx="53.5" ry="50.8" transform="rotate(-22 474.4 322.5)"/><ellipse cx="472.1" cy="324.8" rx="53.5" ry="51.4" transform="rotate(-20 472.1 324.8)"/><ellipse cx="472.1" cy="320.5" rx="38.7" ry="42.0" transform="rotate(-13 472.1 320.5)"/><ellipse cx="470.3" cy="321.2" rx="42.8" ry="43.8" transform="rotate(2 470.3 321.2)"/><ellipse cx="474.1" cy="323.1" rx="53.3" ry="53.5" transform="rotate(-19 474.1 323.1)"/></g>
<g fill="none" stroke="#BEBEBE" stroke-width="0.9" opacity="0.32"><ellipse cx="470.7" cy="322.4" rx="34.7" ry="37.4" transform="rotate(-24 470.7 322.4)"/><ellipse cx="474.2" cy="323.8" rx="55.9" ry="53.6" transform="rotate(-13 474.2 323.8)"/><ellipse cx="473.7" cy="324.3" rx="35.8" ry="38.1" transform="rotate(-10 473.7 324.3)"/><ellipse cx="472.3" cy="322.5" rx="50.4" ry="49.4" transform="rotate(-27 472.3 322.5)"/><ellipse cx="471.5" cy="320.2" rx="44.7" ry="45.0" transform="rotate(-29 471.5 320.2)"/><ellipse cx="469.6" cy="321.7" rx="40.3" ry="41.6" transform="rotate(-6 469.6 321.7)"/></g>
<g fill="none" stroke="#E4213F" stroke-width="1" opacity="0.75"><ellipse cx="463.8" cy="323.7" rx="27" ry="40" transform="rotate(-8 472.8 323.7)"/><ellipse cx="465.8" cy="324.7" rx="30" ry="42" transform="rotate(-14 472.8 323.7)"/><ellipse cx="461.8" cy="322.7" rx="25" ry="38"/><path d="M493.7,297 C478,301 470,318 472,334 C474,348 484,358 494,360"/><path d="M470,268.5 C495,264.5 520,272 534,279 C528,272 505,266.5 488,267.5"/><path d="M430,360 C440,374 455,382 470,385 M445,370 C455,380 470,386 486,384"/></g>
<rect x="17.5" y="59.6" width="167.9" height="167.75" fill="none" stroke="#000" stroke-width="1.2"/>
<rect x="17.5" y="251.8" width="167.9" height="167.75" fill="none" stroke="#000" stroke-width="1.2"/>
<rect x="205.8" y="59.6" width="167.9" height="167.75" fill="none" stroke="#000" stroke-width="1.2"/>
<rect x="205.8" y="251.8" width="167.9" height="167.75" fill="none" stroke="#000" stroke-width="1.2"/>
<rect x="394.3" y="59.6" width="167.9" height="167.75" fill="none" stroke="#000" stroke-width="1.2"/>
<rect x="394.3" y="251.8" width="167.9" height="167.75" fill="none" stroke="#000" stroke-width="1.2"/>
<rect x="592.2" y="84.9" width="20.6" height="19.3" fill="#E63E26"/>
<rect x="592.2" y="103.9" width="20.6" height="20.0" fill="#F28924"/>
<rect x="592.2" y="123.6" width="20.6" height="19.6" fill="#E3E024"/>
<rect x="592.2" y="142.9" width="20.6" height="20.2" fill="#74C16C"/>
<rect x="592.2" y="162.8" width="20.6" height="19.7" fill="#52B8DE"/>
<rect x="592.2" y="182.2" width="20.6" height="21.7" fill="#3C54A8"/>
<rect x="592.2" y="84.9" width="20.6" height="118.7" fill="none" stroke="#000" stroke-width="1"/>
<text transform="translate(568.6,79.7) scale(1,1.03)" font-size="30.3">60 min</text>
<text transform="translate(580.6,229.5) scale(1,1.03)" font-size="30.3">0 min</text>
<text transform="translate(56.9,461.2) scale(1,1.03)" font-size="30.3">Day 1</text>
<text transform="translate(244.7,461.2) scale(1,1.03)" font-size="30.3">Day 3</text>
<text transform="translate(434.8,461.2) scale(1,1.03)" font-size="30.3">Day 5</text>
<rect x="871.10" y="57.00" width="54.4" height="230.84" fill="#DC282B"/>
<rect x="871.10" y="287.84" width="54.4" height="129.11" fill="#A9AAAE"/>
<rect x="952.15" y="57.00" width="54.4" height="272.91" fill="#DC282B"/>
<rect x="952.15" y="329.91" width="54.4" height="87.04" fill="#A9AAAE"/>
<rect x="1033.20" y="57.00" width="54.4" height="281.19" fill="#DC282B"/>
<rect x="1033.20" y="338.19" width="54.4" height="78.76" fill="#A9AAAE"/>
<rect x="1114.25" y="57.00" width="54.4" height="321.83" fill="#DC282B"/>
<rect x="1114.25" y="378.83" width="54.4" height="38.12" fill="#A9AAAE"/>
<rect x="1195.30" y="57.00" width="54.4" height="344.84" fill="#DC282B"/>
<rect x="1195.30" y="401.84" width="54.4" height="15.11" fill="#A9AAAE"/>
<line x1="844.35" y1="55.90" x2="844.35" y2="418.40" stroke="#000" stroke-width="3.1"/>
<line x1="828.6" y1="416.95" x2="1277.8" y2="416.95" stroke="#000" stroke-width="2.9"/>
<line x1="828.6" y1="416.95" x2="844.35" y2="416.95" stroke="#000" stroke-width="2.7"/>
<text transform="translate(826.3,426.65) scale(1,1.03)" font-size="30.3" text-anchor="end">0</text>
<line x1="836" y1="402.56" x2="844.35" y2="402.56" stroke="#000" stroke-width="2.7"/>
<line x1="836" y1="388.18" x2="844.35" y2="388.18" stroke="#000" stroke-width="2.7"/>
<line x1="836" y1="373.79" x2="844.35" y2="373.79" stroke="#000" stroke-width="2.7"/>
<line x1="836" y1="359.41" x2="844.35" y2="359.41" stroke="#000" stroke-width="2.7"/>
<line x1="828.6" y1="345.02" x2="844.35" y2="345.02" stroke="#000" stroke-width="2.7"/>
<text transform="translate(826.3,354.72) scale(1,1.03)" font-size="30.3" text-anchor="end">20</text>
<line x1="836" y1="330.63" x2="844.35" y2="330.63" stroke="#000" stroke-width="2.7"/>
<line x1="836" y1="316.25" x2="844.35" y2="316.25" stroke="#000" stroke-width="2.7"/>
<line x1="836" y1="301.86" x2="844.35" y2="301.86" stroke="#000" stroke-width="2.7"/>
<line x1="836" y1="287.48" x2="844.35" y2="287.48" stroke="#000" stroke-width="2.7"/>
<line x1="828.6" y1="273.09" x2="844.35" y2="273.09" stroke="#000" stroke-width="2.7"/>
<text transform="translate(826.3,282.79) scale(1,1.03)" font-size="30.3" text-anchor="end">40</text>
<line x1="836" y1="258.70" x2="844.35" y2="258.70" stroke="#000" stroke-width="2.7"/>
<line x1="836" y1="244.32" x2="844.35" y2="244.32" stroke="#000" stroke-width="2.7"/>
<line x1="836" y1="229.93" x2="844.35" y2="229.93" stroke="#000" stroke-width="2.7"/>
<line x1="836" y1="215.55" x2="844.35" y2="215.55" stroke="#000" stroke-width="2.7"/>
<line x1="828.6" y1="201.16" x2="844.35" y2="201.16" stroke="#000" stroke-width="2.7"/>
<text transform="translate(826.3,210.86) scale(1,1.03)" font-size="30.3" text-anchor="end">60</text>
<line x1="836" y1="186.77" x2="844.35" y2="186.77" stroke="#000" stroke-width="2.7"/>
<line x1="836" y1="172.39" x2="844.35" y2="172.39" stroke="#000" stroke-width="2.7"/>
<line x1="836" y1="158.00" x2="844.35" y2="158.00" stroke="#000" stroke-width="2.7"/>
<line x1="836" y1="143.62" x2="844.35" y2="143.62" stroke="#000" stroke-width="2.7"/>
<line x1="828.6" y1="129.23" x2="844.35" y2="129.23" stroke="#000" stroke-width="2.7"/>
<text transform="translate(826.3,138.93) scale(1,1.03)" font-size="30.3" text-anchor="end">80</text>
<line x1="836" y1="114.84" x2="844.35" y2="114.84" stroke="#000" stroke-width="2.7"/>
<line x1="836" y1="100.46" x2="844.35" y2="100.46" stroke="#000" stroke-width="2.7"/>
<line x1="836" y1="86.07" x2="844.35" y2="86.07" stroke="#000" stroke-width="2.7"/>
<line x1="836" y1="71.69" x2="844.35" y2="71.69" stroke="#000" stroke-width="2.7"/>
<line x1="828.6" y1="57.30" x2="844.35" y2="57.30" stroke="#000" stroke-width="2.7"/>
<text transform="translate(826.3,67.00) scale(1,1.03)" font-size="30.3" text-anchor="end">100</text>
<line x1="898.30" y1="416.95" x2="898.30" y2="432.7" stroke="#000" stroke-width="2.8"/>
<text transform="translate(898.30,461.5) scale(1,1.03)" font-size="30.3" text-anchor="middle">1</text>
<line x1="979.35" y1="416.95" x2="979.35" y2="432.7" stroke="#000" stroke-width="2.8"/>
<text transform="translate(979.35,461.5) scale(1,1.03)" font-size="30.3" text-anchor="middle">2</text>
<line x1="1060.40" y1="416.95" x2="1060.40" y2="432.7" stroke="#000" stroke-width="2.8"/>
<text transform="translate(1060.40,461.5) scale(1,1.03)" font-size="30.3" text-anchor="middle">3</text>
<line x1="1141.45" y1="416.95" x2="1141.45" y2="432.7" stroke="#000" stroke-width="2.8"/>
<text transform="translate(1141.45,461.5) scale(1,1.03)" font-size="30.3" text-anchor="middle">4</text>
<line x1="1222.50" y1="416.95" x2="1222.50" y2="432.7" stroke="#000" stroke-width="2.8"/>
<text transform="translate(1222.50,461.5) scale(1,1.03)" font-size="30.3" text-anchor="middle">5</text>
<text x="1060.9" y="501.6" font-size="30.3" text-anchor="middle">Time (days)</text>
<text transform="translate(753.3,400.4) rotate(-90)" font-size="30.1">Zone preference (time %)</text>
<circle cx="1349.1" cy="131.6" r="66.5" fill="#A9AAAE" stroke="#DC282B" stroke-width="6.4"/>
<line x1="1349.7" y1="180" x2="1349.7" y2="237.5" stroke="#000" stroke-width="4.2"/>
<polygon points="1349.5,157.5 1339.6,181.8 1359.8,181.8" fill="#000"/>
<text x="1350.6" y="271.8" font-size="30.3" text-anchor="middle">Floating</text>
<text x="1350.6" y="303" font-size="30.3" text-anchor="middle">container</text>
<rect x="1291.4" y="347.2" width="25.9" height="24.5" fill="#DC282B"/>
<rect x="1291.4" y="379.8" width="25.9" height="24.2" fill="#A9AAAE"/>
<text x="1331.3" y="369" font-size="30.3">Zone 1</text>
<text x="1331.3" y="402.4" font-size="30.3">Zone 2</text>
</svg>
</body></html>
